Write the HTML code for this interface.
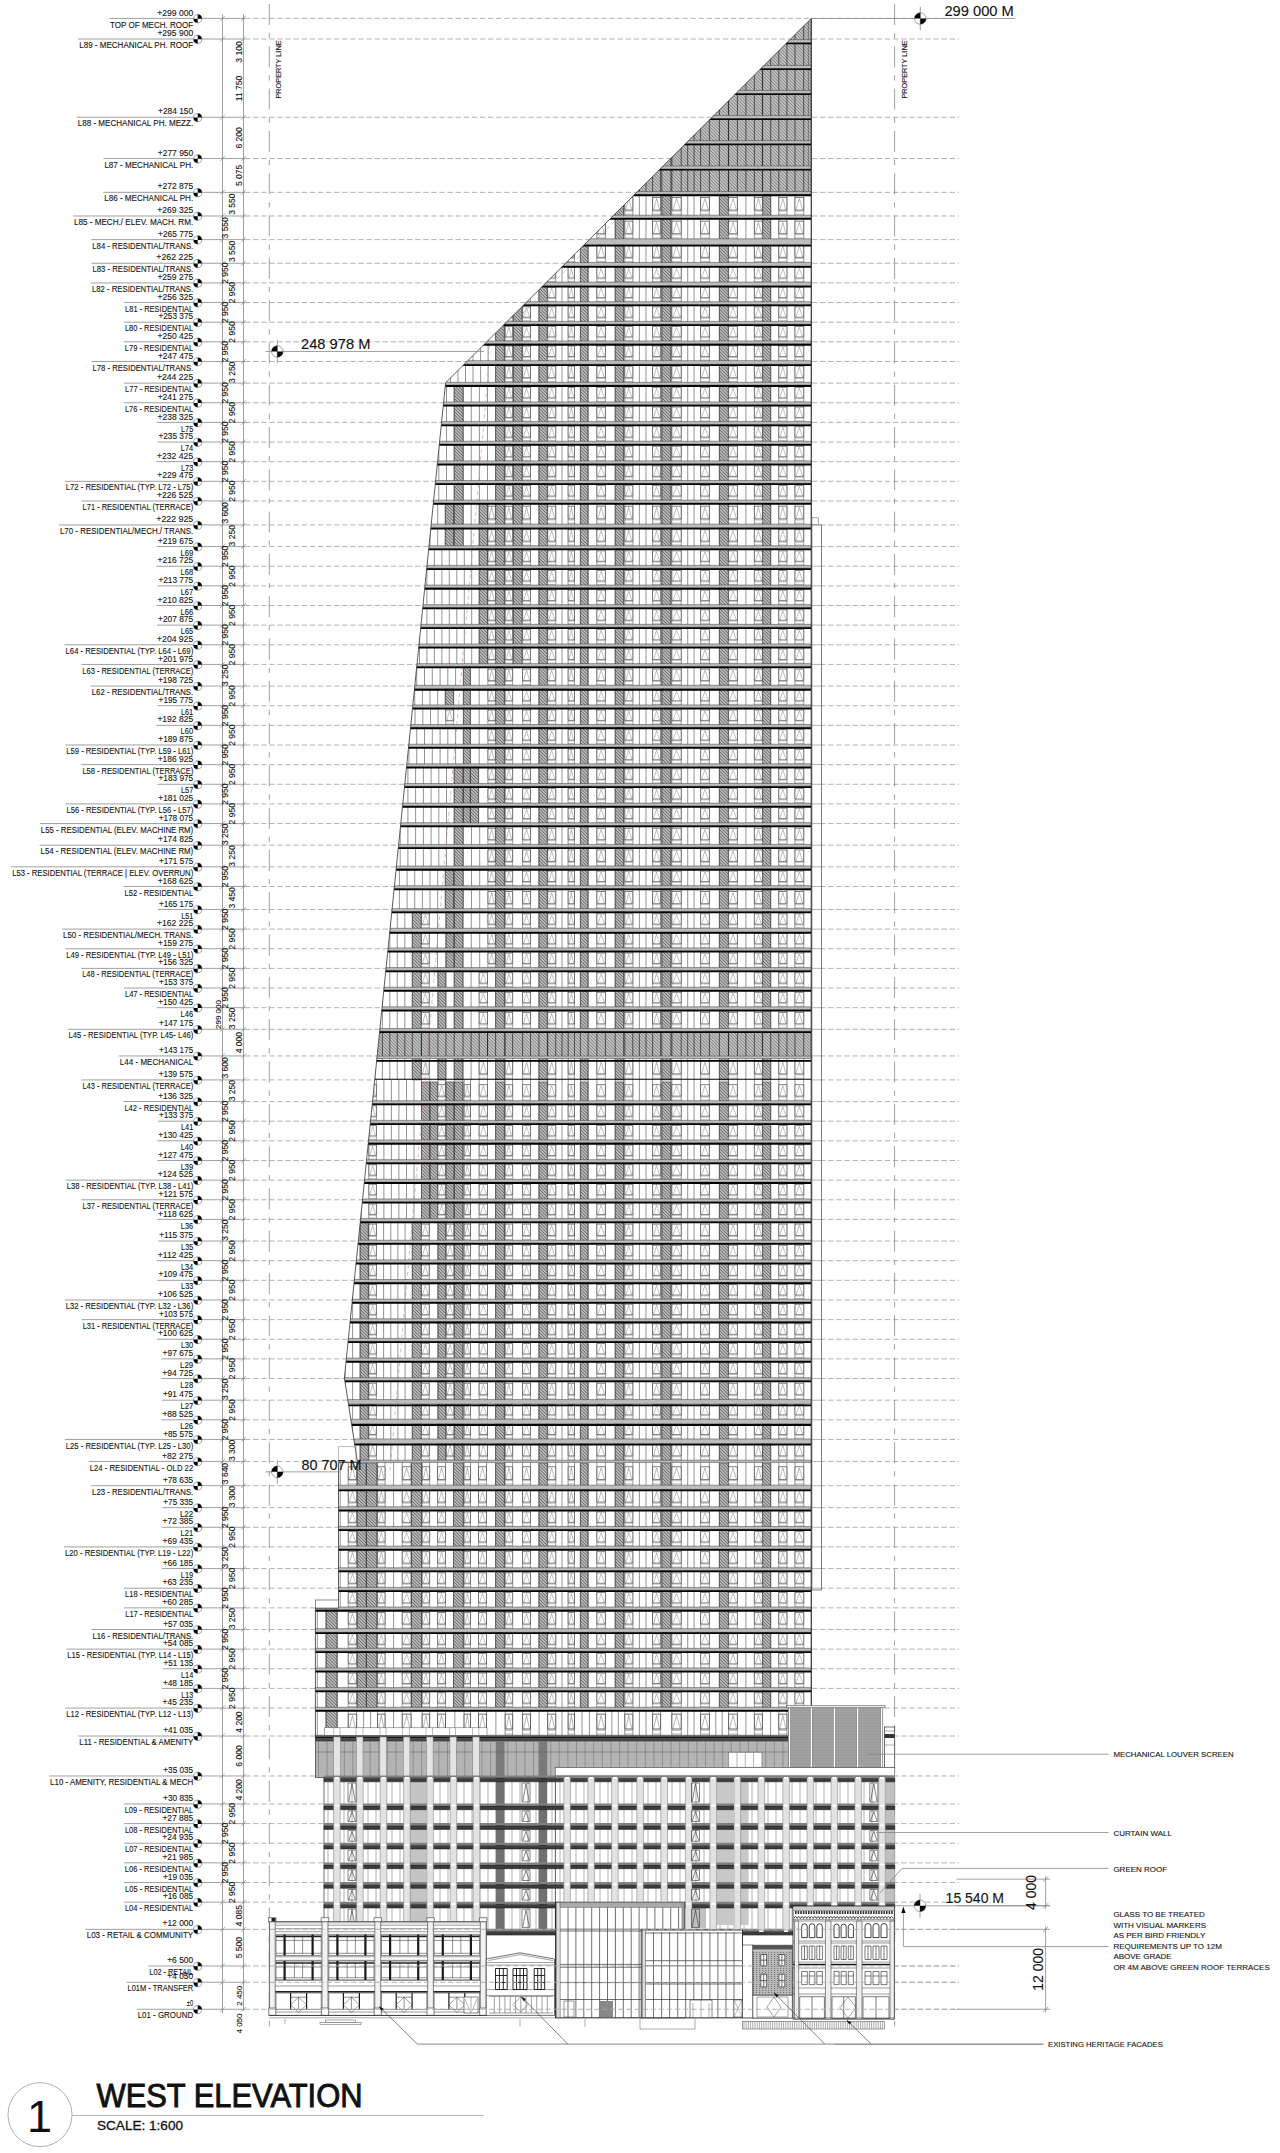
<!DOCTYPE html><html><head><meta charset="utf-8"><title>West Elevation</title><style>
*{margin:0;padding:0}
html,body{width:1280px;height:2153px;background:#fff;overflow:hidden}
svg{display:block}
text{font-family:"Liberation Sans",sans-serif;fill:#111;stroke:#111;stroke-width:0.1px}
.t8{font-size:8px}
.t14{font-size:14px}
.tt{fill:#111;stroke:#111;stroke-width:0.9px}
.r{text-anchor:end}
.m{text-anchor:middle}
.dash{stroke:#aaa;stroke-width:0.9;stroke-dasharray:5.3 2.8}
.lvl{stroke:#888;stroke-width:0.8}
.mk{fill:#fff;stroke:#666;stroke-width:0.6}
.tick{stroke:#777;stroke-width:0.6}
.dl{stroke:#888;stroke-width:0.8}
.pl{stroke:#888;stroke-width:0.8;stroke-dasharray:21 8 5.3 8}
.thin{stroke:#888;stroke-width:0.8}
</style></head><body><svg width="1280" height="2153" viewBox="0 0 1280 2153"><g id="levels">
<line x1="245" y1="18.40" x2="959" y2="18.40" class="dash"/>
<line x1="245" y1="39.04" x2="959" y2="39.04" class="dash"/>
<line x1="245" y1="117.28" x2="959" y2="117.28" class="dash"/>
<line x1="245" y1="158.56" x2="959" y2="158.56" class="dash"/>
<line x1="245" y1="192.35" x2="959" y2="192.35" class="dash"/>
<line x1="245" y1="215.99" x2="959" y2="215.99" class="dash"/>
<line x1="245" y1="239.62" x2="959" y2="239.62" class="dash"/>
<line x1="245" y1="263.26" x2="959" y2="263.26" class="dash"/>
<line x1="245" y1="282.90" x2="959" y2="282.90" class="dash"/>
<line x1="245" y1="302.55" x2="959" y2="302.55" class="dash"/>
<line x1="245" y1="322.19" x2="959" y2="322.19" class="dash"/>
<line x1="245" y1="341.83" x2="959" y2="341.83" class="dash"/>
<line x1="245" y1="361.47" x2="959" y2="361.47" class="dash"/>
<line x1="245" y1="383.11" x2="959" y2="383.11" class="dash"/>
<line x1="245" y1="402.75" x2="959" y2="402.75" class="dash"/>
<line x1="245" y1="422.40" x2="959" y2="422.40" class="dash"/>
<line x1="245" y1="442.04" x2="959" y2="442.04" class="dash"/>
<line x1="245" y1="461.68" x2="959" y2="461.68" class="dash"/>
<line x1="245" y1="481.32" x2="959" y2="481.32" class="dash"/>
<line x1="245" y1="500.96" x2="959" y2="500.96" class="dash"/>
<line x1="245" y1="524.93" x2="959" y2="524.93" class="dash"/>
<line x1="245" y1="546.57" x2="959" y2="546.57" class="dash"/>
<line x1="245" y1="566.22" x2="959" y2="566.22" class="dash"/>
<line x1="245" y1="585.86" x2="959" y2="585.86" class="dash"/>
<line x1="245" y1="605.50" x2="959" y2="605.50" class="dash"/>
<line x1="245" y1="625.14" x2="959" y2="625.14" class="dash"/>
<line x1="245" y1="644.79" x2="959" y2="644.79" class="dash"/>
<line x1="245" y1="664.43" x2="959" y2="664.43" class="dash"/>
<line x1="245" y1="686.07" x2="959" y2="686.07" class="dash"/>
<line x1="245" y1="705.71" x2="959" y2="705.71" class="dash"/>
<line x1="245" y1="725.35" x2="959" y2="725.35" class="dash"/>
<line x1="245" y1="744.99" x2="959" y2="744.99" class="dash"/>
<line x1="245" y1="764.64" x2="959" y2="764.64" class="dash"/>
<line x1="245" y1="784.28" x2="959" y2="784.28" class="dash"/>
<line x1="245" y1="803.92" x2="959" y2="803.92" class="dash"/>
<line x1="245" y1="823.56" x2="959" y2="823.56" class="dash"/>
<line x1="245" y1="845.20" x2="959" y2="845.20" class="dash"/>
<line x1="245" y1="866.84" x2="959" y2="866.84" class="dash"/>
<line x1="245" y1="886.48" x2="959" y2="886.48" class="dash"/>
<line x1="245" y1="909.46" x2="959" y2="909.46" class="dash"/>
<line x1="245" y1="929.10" x2="959" y2="929.10" class="dash"/>
<line x1="245" y1="948.74" x2="959" y2="948.74" class="dash"/>
<line x1="245" y1="968.38" x2="959" y2="968.38" class="dash"/>
<line x1="245" y1="988.02" x2="959" y2="988.02" class="dash"/>
<line x1="245" y1="1007.67" x2="959" y2="1007.67" class="dash"/>
<line x1="245" y1="1029.31" x2="959" y2="1029.31" class="dash"/>
<line x1="245" y1="1055.94" x2="959" y2="1055.94" class="dash"/>
<line x1="245" y1="1079.91" x2="959" y2="1079.91" class="dash"/>
<line x1="245" y1="1101.55" x2="959" y2="1101.55" class="dash"/>
<line x1="245" y1="1121.19" x2="959" y2="1121.19" class="dash"/>
<line x1="245" y1="1140.83" x2="959" y2="1140.83" class="dash"/>
<line x1="245" y1="1160.48" x2="959" y2="1160.48" class="dash"/>
<line x1="245" y1="1180.12" x2="959" y2="1180.12" class="dash"/>
<line x1="245" y1="1199.76" x2="959" y2="1199.76" class="dash"/>
<line x1="245" y1="1219.40" x2="959" y2="1219.40" class="dash"/>
<line x1="245" y1="1241.04" x2="959" y2="1241.04" class="dash"/>
<line x1="245" y1="1260.68" x2="959" y2="1260.68" class="dash"/>
<line x1="245" y1="1280.33" x2="959" y2="1280.33" class="dash"/>
<line x1="245" y1="1299.97" x2="959" y2="1299.97" class="dash"/>
<line x1="245" y1="1319.61" x2="959" y2="1319.61" class="dash"/>
<line x1="245" y1="1339.25" x2="959" y2="1339.25" class="dash"/>
<line x1="245" y1="1358.89" x2="959" y2="1358.89" class="dash"/>
<line x1="245" y1="1378.54" x2="959" y2="1378.54" class="dash"/>
<line x1="245" y1="1400.18" x2="959" y2="1400.18" class="dash"/>
<line x1="245" y1="1419.82" x2="959" y2="1419.82" class="dash"/>
<line x1="245" y1="1439.46" x2="959" y2="1439.46" class="dash"/>
<line x1="245" y1="1461.43" x2="959" y2="1461.43" class="dash"/>
<line x1="245" y1="1485.67" x2="959" y2="1485.67" class="dash"/>
<line x1="245" y1="1507.64" x2="959" y2="1507.64" class="dash"/>
<line x1="245" y1="1527.28" x2="959" y2="1527.28" class="dash"/>
<line x1="245" y1="1546.93" x2="959" y2="1546.93" class="dash"/>
<line x1="245" y1="1568.57" x2="959" y2="1568.57" class="dash"/>
<line x1="245" y1="1588.21" x2="959" y2="1588.21" class="dash"/>
<line x1="245" y1="1607.85" x2="959" y2="1607.85" class="dash"/>
<line x1="245" y1="1629.49" x2="959" y2="1629.49" class="dash"/>
<line x1="245" y1="1649.13" x2="959" y2="1649.13" class="dash"/>
<line x1="245" y1="1668.77" x2="959" y2="1668.77" class="dash"/>
<line x1="245" y1="1688.42" x2="959" y2="1688.42" class="dash"/>
<line x1="245" y1="1708.06" x2="959" y2="1708.06" class="dash"/>
<line x1="245" y1="1736.02" x2="959" y2="1736.02" class="dash"/>
<line x1="245" y1="1775.97" x2="959" y2="1775.97" class="dash"/>
<line x1="245" y1="1803.94" x2="959" y2="1803.94" class="dash"/>
<line x1="245" y1="1823.58" x2="959" y2="1823.58" class="dash"/>
<line x1="245" y1="1843.22" x2="959" y2="1843.22" class="dash"/>
<line x1="245" y1="1862.87" x2="959" y2="1862.87" class="dash"/>
<line x1="245" y1="1882.51" x2="959" y2="1882.51" class="dash"/>
<line x1="245" y1="1902.15" x2="959" y2="1902.15" class="dash"/>
<line x1="245" y1="1929.35" x2="959" y2="1929.35" class="dash"/>
<line x1="245" y1="1965.97" x2="959" y2="1965.97" class="dash"/>
<line x1="245" y1="1982.28" x2="959" y2="1982.28" class="dash"/>
<line x1="245" y1="2009.25" x2="959" y2="2009.25" class="dash"/>
<line x1="109.1" y1="18.40" x2="245" y2="18.40" class="lvl"/>
<text x="193.2" y="15.50" class="t8 r" style="font-size:8.7px" textLength="35.9" lengthAdjust="spacingAndGlyphs">+299 000</text>
<text x="193.2" y="27.50" class="t8 r" style="font-size:8.7px" textLength="83.1" lengthAdjust="spacingAndGlyphs">TOP OF MECH. ROOF</text>
<g transform="translate(197.70,18.70)"><circle r="4.1" class="mk"/><path d="M0,0 L0,-4.1 A4.1,4.1 0 0 1 4.1,0 Z M0,0 L0,4.1 A4.1,4.1 0 0 1 -4.1,0 Z" fill="#000"/></g>
<line x1="220.0" y1="20.90" x2="225.0" y2="15.90" class="tick"/>
<line x1="241.0" y1="20.90" x2="246.0" y2="15.90" class="tick"/>
<line x1="78.2" y1="39.04" x2="245" y2="39.04" class="lvl"/>
<text x="193.2" y="36.14" class="t8 r" style="font-size:8.7px" textLength="35.8" lengthAdjust="spacingAndGlyphs">+295 900</text>
<text x="193.2" y="48.14" class="t8 r" style="font-size:8.7px" textLength="114.0" lengthAdjust="spacingAndGlyphs">L89 - MECHANICAL PH. ROOF</text>
<g transform="translate(197.70,39.34)"><circle r="4.1" class="mk"/><path d="M0,0 L0,-4.1 A4.1,4.1 0 0 1 4.1,0 Z M0,0 L0,4.1 A4.1,4.1 0 0 1 -4.1,0 Z" fill="#000"/></g>
<line x1="220.0" y1="41.54" x2="225.0" y2="36.54" class="tick"/>
<line x1="241.0" y1="41.54" x2="246.0" y2="36.54" class="tick"/>
<line x1="76.7" y1="117.28" x2="245" y2="117.28" class="lvl"/>
<text x="193.2" y="114.38" class="t8 r" style="font-size:8.7px" textLength="35.2" lengthAdjust="spacingAndGlyphs">+284 150</text>
<text x="193.2" y="126.38" class="t8 r" style="font-size:8.7px" textLength="115.5" lengthAdjust="spacingAndGlyphs">L88 - MECHANICAL PH. MEZZ.</text>
<g transform="translate(197.70,117.58)"><circle r="4.1" class="mk"/><path d="M0,0 L0,-4.1 A4.1,4.1 0 0 1 4.1,0 Z M0,0 L0,4.1 A4.1,4.1 0 0 1 -4.1,0 Z" fill="#000"/></g>
<line x1="220.0" y1="119.78" x2="225.0" y2="114.78" class="tick"/>
<line x1="241.0" y1="119.78" x2="246.0" y2="114.78" class="tick"/>
<line x1="103.4" y1="158.56" x2="245" y2="158.56" class="lvl"/>
<text x="193.2" y="155.66" class="t8 r" style="font-size:8.7px" textLength="35.4" lengthAdjust="spacingAndGlyphs">+277 950</text>
<text x="193.2" y="167.66" class="t8 r" style="font-size:8.7px" textLength="88.8" lengthAdjust="spacingAndGlyphs">L87 - MECHANICAL PH.</text>
<g transform="translate(197.70,158.86)"><circle r="4.1" class="mk"/><path d="M0,0 L0,-4.1 A4.1,4.1 0 0 1 4.1,0 Z M0,0 L0,4.1 A4.1,4.1 0 0 1 -4.1,0 Z" fill="#000"/></g>
<line x1="220.0" y1="161.06" x2="225.0" y2="156.06" class="tick"/>
<line x1="241.0" y1="161.06" x2="246.0" y2="156.06" class="tick"/>
<line x1="103.2" y1="192.35" x2="245" y2="192.35" class="lvl"/>
<text x="193.2" y="189.45" class="t8 r" style="font-size:8.7px" textLength="35.7" lengthAdjust="spacingAndGlyphs">+272 875</text>
<text x="193.2" y="201.45" class="t8 r" style="font-size:8.7px" textLength="89.0" lengthAdjust="spacingAndGlyphs">L86 - MECHANICAL PH.</text>
<g transform="translate(197.70,192.65)"><circle r="4.1" class="mk"/><path d="M0,0 L0,-4.1 A4.1,4.1 0 0 1 4.1,0 Z M0,0 L0,4.1 A4.1,4.1 0 0 1 -4.1,0 Z" fill="#000"/></g>
<line x1="220.0" y1="194.85" x2="225.0" y2="189.85" class="tick"/>
<line x1="241.0" y1="194.85" x2="246.0" y2="189.85" class="tick"/>
<line x1="72.9" y1="215.99" x2="245" y2="215.99" class="lvl"/>
<text x="193.2" y="213.09" class="t8 r" style="font-size:8.7px" textLength="36.0" lengthAdjust="spacingAndGlyphs">+269 325</text>
<text x="193.2" y="225.09" class="t8 r" style="font-size:8.7px" textLength="119.3" lengthAdjust="spacingAndGlyphs">L85 - MECH./ ELEV. MACH. RM.</text>
<g transform="translate(197.70,216.29)"><circle r="4.1" class="mk"/><path d="M0,0 L0,-4.1 A4.1,4.1 0 0 1 4.1,0 Z M0,0 L0,4.1 A4.1,4.1 0 0 1 -4.1,0 Z" fill="#000"/></g>
<line x1="220.0" y1="218.49" x2="225.0" y2="213.49" class="tick"/>
<line x1="241.0" y1="218.49" x2="246.0" y2="213.49" class="tick"/>
<line x1="91.3" y1="239.62" x2="245" y2="239.62" class="lvl"/>
<text x="193.2" y="236.72" class="t8 r" style="font-size:8.7px" textLength="35.2" lengthAdjust="spacingAndGlyphs">+265 775</text>
<text x="193.2" y="248.72" class="t8 r" style="font-size:8.7px" textLength="100.9" lengthAdjust="spacingAndGlyphs">L84 - RESIDENTIAL/TRANS.</text>
<g transform="translate(197.70,239.92)"><circle r="4.1" class="mk"/><path d="M0,0 L0,-4.1 A4.1,4.1 0 0 1 4.1,0 Z M0,0 L0,4.1 A4.1,4.1 0 0 1 -4.1,0 Z" fill="#000"/></g>
<line x1="220.0" y1="242.12" x2="225.0" y2="237.12" class="tick"/>
<line x1="241.0" y1="242.12" x2="246.0" y2="237.12" class="tick"/>
<line x1="91.5" y1="263.26" x2="245" y2="263.26" class="lvl"/>
<text x="193.2" y="260.36" class="t8 r" style="font-size:8.7px" textLength="36.9" lengthAdjust="spacingAndGlyphs">+262 225</text>
<text x="193.2" y="272.36" class="t8 r" style="font-size:8.7px" textLength="100.7" lengthAdjust="spacingAndGlyphs">L83 - RESIDENTIAL/TRANS.</text>
<g transform="translate(197.70,263.56)"><circle r="4.1" class="mk"/><path d="M0,0 L0,-4.1 A4.1,4.1 0 0 1 4.1,0 Z M0,0 L0,4.1 A4.1,4.1 0 0 1 -4.1,0 Z" fill="#000"/></g>
<line x1="220.0" y1="265.76" x2="225.0" y2="260.76" class="tick"/>
<line x1="241.0" y1="265.76" x2="246.0" y2="260.76" class="tick"/>
<line x1="90.9" y1="282.90" x2="245" y2="282.90" class="lvl"/>
<text x="193.2" y="280.00" class="t8 r" style="font-size:8.7px" textLength="35.8" lengthAdjust="spacingAndGlyphs">+259 275</text>
<text x="193.2" y="292.00" class="t8 r" style="font-size:8.7px" textLength="101.3" lengthAdjust="spacingAndGlyphs">L82 - RESIDENTIAL/TRANS.</text>
<g transform="translate(197.70,283.20)"><circle r="4.1" class="mk"/><path d="M0,0 L0,-4.1 A4.1,4.1 0 0 1 4.1,0 Z M0,0 L0,4.1 A4.1,4.1 0 0 1 -4.1,0 Z" fill="#000"/></g>
<line x1="220.0" y1="285.40" x2="225.0" y2="280.40" class="tick"/>
<line x1="241.0" y1="285.40" x2="246.0" y2="280.40" class="tick"/>
<line x1="124.1" y1="302.55" x2="245" y2="302.55" class="lvl"/>
<text x="193.2" y="299.65" class="t8 r" style="font-size:8.7px" textLength="35.7" lengthAdjust="spacingAndGlyphs">+256 325</text>
<text x="193.2" y="311.65" class="t8 r" style="font-size:8.7px" textLength="68.1" lengthAdjust="spacingAndGlyphs">L81 - RESIDENTIAL</text>
<g transform="translate(197.70,302.85)"><circle r="4.1" class="mk"/><path d="M0,0 L0,-4.1 A4.1,4.1 0 0 1 4.1,0 Z M0,0 L0,4.1 A4.1,4.1 0 0 1 -4.1,0 Z" fill="#000"/></g>
<line x1="220.0" y1="305.05" x2="225.0" y2="300.05" class="tick"/>
<line x1="241.0" y1="305.05" x2="246.0" y2="300.05" class="tick"/>
<line x1="123.9" y1="322.19" x2="245" y2="322.19" class="lvl"/>
<text x="193.2" y="319.29" class="t8 r" style="font-size:8.7px" textLength="34.8" lengthAdjust="spacingAndGlyphs">+253 375</text>
<text x="193.2" y="331.29" class="t8 r" style="font-size:8.7px" textLength="68.3" lengthAdjust="spacingAndGlyphs">L80 - RESIDENTIAL</text>
<g transform="translate(197.70,322.49)"><circle r="4.1" class="mk"/><path d="M0,0 L0,-4.1 A4.1,4.1 0 0 1 4.1,0 Z M0,0 L0,4.1 A4.1,4.1 0 0 1 -4.1,0 Z" fill="#000"/></g>
<line x1="220.0" y1="324.69" x2="225.0" y2="319.69" class="tick"/>
<line x1="241.0" y1="324.69" x2="246.0" y2="319.69" class="tick"/>
<line x1="123.8" y1="341.83" x2="245" y2="341.83" class="lvl"/>
<text x="193.2" y="338.93" class="t8 r" style="font-size:8.7px" textLength="35.7" lengthAdjust="spacingAndGlyphs">+250 425</text>
<text x="193.2" y="350.93" class="t8 r" style="font-size:8.7px" textLength="68.4" lengthAdjust="spacingAndGlyphs">L79 - RESIDENTIAL</text>
<g transform="translate(197.70,342.13)"><circle r="4.1" class="mk"/><path d="M0,0 L0,-4.1 A4.1,4.1 0 0 1 4.1,0 Z M0,0 L0,4.1 A4.1,4.1 0 0 1 -4.1,0 Z" fill="#000"/></g>
<line x1="220.0" y1="344.33" x2="225.0" y2="339.33" class="tick"/>
<line x1="241.0" y1="344.33" x2="246.0" y2="339.33" class="tick"/>
<line x1="91.4" y1="361.47" x2="245" y2="361.47" class="lvl"/>
<text x="193.2" y="358.57" class="t8 r" style="font-size:8.7px" textLength="35.3" lengthAdjust="spacingAndGlyphs">+247 475</text>
<text x="193.2" y="370.57" class="t8 r" style="font-size:8.7px" textLength="100.8" lengthAdjust="spacingAndGlyphs">L78 - RESIDENTIAL/TRANS.</text>
<g transform="translate(197.70,361.77)"><circle r="4.1" class="mk"/><path d="M0,0 L0,-4.1 A4.1,4.1 0 0 1 4.1,0 Z M0,0 L0,4.1 A4.1,4.1 0 0 1 -4.1,0 Z" fill="#000"/></g>
<line x1="220.0" y1="363.97" x2="225.0" y2="358.97" class="tick"/>
<line x1="241.0" y1="363.97" x2="246.0" y2="358.97" class="tick"/>
<line x1="124.1" y1="383.11" x2="245" y2="383.11" class="lvl"/>
<text x="193.2" y="380.21" class="t8 r" style="font-size:8.7px" textLength="36.3" lengthAdjust="spacingAndGlyphs">+244 225</text>
<text x="193.2" y="392.21" class="t8 r" style="font-size:8.7px" textLength="68.1" lengthAdjust="spacingAndGlyphs">L77 - RESIDENTIAL</text>
<g transform="translate(197.70,383.41)"><circle r="4.1" class="mk"/><path d="M0,0 L0,-4.1 A4.1,4.1 0 0 1 4.1,0 Z M0,0 L0,4.1 A4.1,4.1 0 0 1 -4.1,0 Z" fill="#000"/></g>
<line x1="220.0" y1="385.61" x2="225.0" y2="380.61" class="tick"/>
<line x1="241.0" y1="385.61" x2="246.0" y2="380.61" class="tick"/>
<line x1="123.9" y1="402.75" x2="245" y2="402.75" class="lvl"/>
<text x="193.2" y="399.85" class="t8 r" style="font-size:8.7px" textLength="35.5" lengthAdjust="spacingAndGlyphs">+241 275</text>
<text x="193.2" y="411.85" class="t8 r" style="font-size:8.7px" textLength="68.3" lengthAdjust="spacingAndGlyphs">L76 - RESIDENTIAL</text>
<g transform="translate(197.70,403.05)"><circle r="4.1" class="mk"/><path d="M0,0 L0,-4.1 A4.1,4.1 0 0 1 4.1,0 Z M0,0 L0,4.1 A4.1,4.1 0 0 1 -4.1,0 Z" fill="#000"/></g>
<line x1="220.0" y1="405.25" x2="225.0" y2="400.25" class="tick"/>
<line x1="241.0" y1="405.25" x2="246.0" y2="400.25" class="tick"/>
<line x1="156.6" y1="422.40" x2="245" y2="422.40" class="lvl"/>
<text x="193.2" y="419.50" class="t8 r" style="font-size:8.7px" textLength="35.6" lengthAdjust="spacingAndGlyphs">+238 325</text>
<text x="193.2" y="431.50" class="t8 r" style="font-size:8.7px" textLength="12.2" lengthAdjust="spacingAndGlyphs">L75</text>
<g transform="translate(197.70,422.70)"><circle r="4.1" class="mk"/><path d="M0,0 L0,-4.1 A4.1,4.1 0 0 1 4.1,0 Z M0,0 L0,4.1 A4.1,4.1 0 0 1 -4.1,0 Z" fill="#000"/></g>
<line x1="220.0" y1="424.90" x2="225.0" y2="419.90" class="tick"/>
<line x1="241.0" y1="424.90" x2="246.0" y2="419.90" class="tick"/>
<line x1="157.4" y1="442.04" x2="245" y2="442.04" class="lvl"/>
<text x="193.2" y="439.14" class="t8 r" style="font-size:8.7px" textLength="34.8" lengthAdjust="spacingAndGlyphs">+235 375</text>
<text x="193.2" y="451.14" class="t8 r" style="font-size:8.7px" textLength="12.4" lengthAdjust="spacingAndGlyphs">L74</text>
<g transform="translate(197.70,442.34)"><circle r="4.1" class="mk"/><path d="M0,0 L0,-4.1 A4.1,4.1 0 0 1 4.1,0 Z M0,0 L0,4.1 A4.1,4.1 0 0 1 -4.1,0 Z" fill="#000"/></g>
<line x1="220.0" y1="444.54" x2="225.0" y2="439.54" class="tick"/>
<line x1="241.0" y1="444.54" x2="246.0" y2="439.54" class="tick"/>
<line x1="156.0" y1="461.68" x2="245" y2="461.68" class="lvl"/>
<text x="193.2" y="458.78" class="t8 r" style="font-size:8.7px" textLength="36.2" lengthAdjust="spacingAndGlyphs">+232 425</text>
<text x="193.2" y="470.78" class="t8 r" style="font-size:8.7px" textLength="12.2" lengthAdjust="spacingAndGlyphs">L73</text>
<g transform="translate(197.70,461.98)"><circle r="4.1" class="mk"/><path d="M0,0 L0,-4.1 A4.1,4.1 0 0 1 4.1,0 Z M0,0 L0,4.1 A4.1,4.1 0 0 1 -4.1,0 Z" fill="#000"/></g>
<line x1="220.0" y1="464.18" x2="225.0" y2="459.18" class="tick"/>
<line x1="241.0" y1="464.18" x2="246.0" y2="459.18" class="tick"/>
<line x1="64.8" y1="481.32" x2="245" y2="481.32" class="lvl"/>
<text x="193.2" y="478.42" class="t8 r" style="font-size:8.7px" textLength="36.0" lengthAdjust="spacingAndGlyphs">+229 475</text>
<text x="193.2" y="490.42" class="t8 r" style="font-size:8.7px" textLength="127.4" lengthAdjust="spacingAndGlyphs">L72 - RESIDENTIAL (TYP. L72 - L75)</text>
<g transform="translate(197.70,481.62)"><circle r="4.1" class="mk"/><path d="M0,0 L0,-4.1 A4.1,4.1 0 0 1 4.1,0 Z M0,0 L0,4.1 A4.1,4.1 0 0 1 -4.1,0 Z" fill="#000"/></g>
<line x1="220.0" y1="483.82" x2="225.0" y2="478.82" class="tick"/>
<line x1="241.0" y1="483.82" x2="246.0" y2="478.82" class="tick"/>
<line x1="81.6" y1="500.96" x2="245" y2="500.96" class="lvl"/>
<text x="193.2" y="498.06" class="t8 r" style="font-size:8.7px" textLength="36.3" lengthAdjust="spacingAndGlyphs">+226 525</text>
<text x="193.2" y="510.06" class="t8 r" style="font-size:8.7px" textLength="110.6" lengthAdjust="spacingAndGlyphs">L71 - RESIDENTIAL (TERRACE)</text>
<g transform="translate(197.70,501.26)"><circle r="4.1" class="mk"/><path d="M0,0 L0,-4.1 A4.1,4.1 0 0 1 4.1,0 Z M0,0 L0,4.1 A4.1,4.1 0 0 1 -4.1,0 Z" fill="#000"/></g>
<line x1="220.0" y1="503.46" x2="225.0" y2="498.46" class="tick"/>
<line x1="241.0" y1="503.46" x2="246.0" y2="498.46" class="tick"/>
<line x1="58.9" y1="524.93" x2="245" y2="524.93" class="lvl"/>
<text x="193.2" y="522.03" class="t8 r" style="font-size:8.7px" textLength="36.9" lengthAdjust="spacingAndGlyphs">+222 925</text>
<text x="193.2" y="534.03" class="t8 r" style="font-size:8.7px" textLength="133.3" lengthAdjust="spacingAndGlyphs">L70 - RESIDENTIAL/MECH./ TRANS.</text>
<g transform="translate(197.70,525.23)"><circle r="4.1" class="mk"/><path d="M0,0 L0,-4.1 A4.1,4.1 0 0 1 4.1,0 Z M0,0 L0,4.1 A4.1,4.1 0 0 1 -4.1,0 Z" fill="#000"/></g>
<line x1="220.0" y1="527.43" x2="225.0" y2="522.43" class="tick"/>
<line x1="241.0" y1="527.43" x2="246.0" y2="522.43" class="tick"/>
<line x1="156.8" y1="546.57" x2="245" y2="546.57" class="lvl"/>
<text x="193.2" y="543.67" class="t8 r" style="font-size:8.7px" textLength="35.4" lengthAdjust="spacingAndGlyphs">+219 675</text>
<text x="193.2" y="555.67" class="t8 r" style="font-size:8.7px" textLength="12.8" lengthAdjust="spacingAndGlyphs">L69</text>
<g transform="translate(197.70,546.87)"><circle r="4.1" class="mk"/><path d="M0,0 L0,-4.1 A4.1,4.1 0 0 1 4.1,0 Z M0,0 L0,4.1 A4.1,4.1 0 0 1 -4.1,0 Z" fill="#000"/></g>
<line x1="220.0" y1="549.07" x2="225.0" y2="544.07" class="tick"/>
<line x1="241.0" y1="549.07" x2="246.0" y2="544.07" class="tick"/>
<line x1="156.6" y1="566.22" x2="245" y2="566.22" class="lvl"/>
<text x="193.2" y="563.32" class="t8 r" style="font-size:8.7px" textLength="35.6" lengthAdjust="spacingAndGlyphs">+216 725</text>
<text x="193.2" y="575.32" class="t8 r" style="font-size:8.7px" textLength="12.6" lengthAdjust="spacingAndGlyphs">L68</text>
<g transform="translate(197.70,566.52)"><circle r="4.1" class="mk"/><path d="M0,0 L0,-4.1 A4.1,4.1 0 0 1 4.1,0 Z M0,0 L0,4.1 A4.1,4.1 0 0 1 -4.1,0 Z" fill="#000"/></g>
<line x1="220.0" y1="568.72" x2="225.0" y2="563.72" class="tick"/>
<line x1="241.0" y1="568.72" x2="246.0" y2="563.72" class="tick"/>
<line x1="157.4" y1="585.86" x2="245" y2="585.86" class="lvl"/>
<text x="193.2" y="582.96" class="t8 r" style="font-size:8.7px" textLength="34.8" lengthAdjust="spacingAndGlyphs">+213 775</text>
<text x="193.2" y="594.96" class="t8 r" style="font-size:8.7px" textLength="12.5" lengthAdjust="spacingAndGlyphs">L67</text>
<g transform="translate(197.70,586.16)"><circle r="4.1" class="mk"/><path d="M0,0 L0,-4.1 A4.1,4.1 0 0 1 4.1,0 Z M0,0 L0,4.1 A4.1,4.1 0 0 1 -4.1,0 Z" fill="#000"/></g>
<line x1="220.0" y1="588.36" x2="225.0" y2="583.36" class="tick"/>
<line x1="241.0" y1="588.36" x2="246.0" y2="583.36" class="tick"/>
<line x1="156.6" y1="605.50" x2="245" y2="605.50" class="lvl"/>
<text x="193.2" y="602.60" class="t8 r" style="font-size:8.7px" textLength="35.6" lengthAdjust="spacingAndGlyphs">+210 825</text>
<text x="193.2" y="614.60" class="t8 r" style="font-size:8.7px" textLength="12.7" lengthAdjust="spacingAndGlyphs">L66</text>
<g transform="translate(197.70,605.80)"><circle r="4.1" class="mk"/><path d="M0,0 L0,-4.1 A4.1,4.1 0 0 1 4.1,0 Z M0,0 L0,4.1 A4.1,4.1 0 0 1 -4.1,0 Z" fill="#000"/></g>
<line x1="220.0" y1="608.00" x2="225.0" y2="603.00" class="tick"/>
<line x1="241.0" y1="608.00" x2="246.0" y2="603.00" class="tick"/>
<line x1="157.0" y1="625.14" x2="245" y2="625.14" class="lvl"/>
<text x="193.2" y="622.24" class="t8 r" style="font-size:8.7px" textLength="35.2" lengthAdjust="spacingAndGlyphs">+207 875</text>
<text x="193.2" y="634.24" class="t8 r" style="font-size:8.7px" textLength="12.4" lengthAdjust="spacingAndGlyphs">L65</text>
<g transform="translate(197.70,625.44)"><circle r="4.1" class="mk"/><path d="M0,0 L0,-4.1 A4.1,4.1 0 0 1 4.1,0 Z M0,0 L0,4.1 A4.1,4.1 0 0 1 -4.1,0 Z" fill="#000"/></g>
<line x1="220.0" y1="627.64" x2="225.0" y2="622.64" class="tick"/>
<line x1="241.0" y1="627.64" x2="246.0" y2="622.64" class="tick"/>
<line x1="64.6" y1="644.79" x2="245" y2="644.79" class="lvl"/>
<text x="193.2" y="641.89" class="t8 r" style="font-size:8.7px" textLength="36.1" lengthAdjust="spacingAndGlyphs">+204 925</text>
<text x="193.2" y="653.89" class="t8 r" style="font-size:8.7px" textLength="127.6" lengthAdjust="spacingAndGlyphs">L64 - RESIDENTIAL (TYP. L64 - L69)</text>
<g transform="translate(197.70,645.09)"><circle r="4.1" class="mk"/><path d="M0,0 L0,-4.1 A4.1,4.1 0 0 1 4.1,0 Z M0,0 L0,4.1 A4.1,4.1 0 0 1 -4.1,0 Z" fill="#000"/></g>
<line x1="220.0" y1="647.29" x2="225.0" y2="642.29" class="tick"/>
<line x1="241.0" y1="647.29" x2="246.0" y2="642.29" class="tick"/>
<line x1="81.3" y1="664.43" x2="245" y2="664.43" class="lvl"/>
<text x="193.2" y="661.53" class="t8 r" style="font-size:8.7px" textLength="35.2" lengthAdjust="spacingAndGlyphs">+201 975</text>
<text x="193.2" y="673.53" class="t8 r" style="font-size:8.7px" textLength="110.9" lengthAdjust="spacingAndGlyphs">L63 - RESIDENTIAL (TERRACE)</text>
<g transform="translate(197.70,664.73)"><circle r="4.1" class="mk"/><path d="M0,0 L0,-4.1 A4.1,4.1 0 0 1 4.1,0 Z M0,0 L0,4.1 A4.1,4.1 0 0 1 -4.1,0 Z" fill="#000"/></g>
<line x1="220.0" y1="666.93" x2="225.0" y2="661.93" class="tick"/>
<line x1="241.0" y1="666.93" x2="246.0" y2="661.93" class="tick"/>
<line x1="90.8" y1="686.07" x2="245" y2="686.07" class="lvl"/>
<text x="193.2" y="683.17" class="t8 r" style="font-size:8.7px" textLength="35.3" lengthAdjust="spacingAndGlyphs">+198 725</text>
<text x="193.2" y="695.17" class="t8 r" style="font-size:8.7px" textLength="101.4" lengthAdjust="spacingAndGlyphs">L62 - RESIDENTIAL/TRANS.</text>
<g transform="translate(197.70,686.37)"><circle r="4.1" class="mk"/><path d="M0,0 L0,-4.1 A4.1,4.1 0 0 1 4.1,0 Z M0,0 L0,4.1 A4.1,4.1 0 0 1 -4.1,0 Z" fill="#000"/></g>
<line x1="220.0" y1="688.57" x2="225.0" y2="683.57" class="tick"/>
<line x1="241.0" y1="688.57" x2="246.0" y2="683.57" class="tick"/>
<line x1="157.6" y1="705.71" x2="245" y2="705.71" class="lvl"/>
<text x="193.2" y="702.81" class="t8 r" style="font-size:8.7px" textLength="34.6" lengthAdjust="spacingAndGlyphs">+195 775</text>
<text x="193.2" y="714.81" class="t8 r" style="font-size:8.7px" textLength="12.3" lengthAdjust="spacingAndGlyphs">L61</text>
<g transform="translate(197.70,706.01)"><circle r="4.1" class="mk"/><path d="M0,0 L0,-4.1 A4.1,4.1 0 0 1 4.1,0 Z M0,0 L0,4.1 A4.1,4.1 0 0 1 -4.1,0 Z" fill="#000"/></g>
<line x1="220.0" y1="708.21" x2="225.0" y2="703.21" class="tick"/>
<line x1="241.0" y1="708.21" x2="246.0" y2="703.21" class="tick"/>
<line x1="156.4" y1="725.35" x2="245" y2="725.35" class="lvl"/>
<text x="193.2" y="722.45" class="t8 r" style="font-size:8.7px" textLength="35.8" lengthAdjust="spacingAndGlyphs">+192 825</text>
<text x="193.2" y="734.45" class="t8 r" style="font-size:8.7px" textLength="12.6" lengthAdjust="spacingAndGlyphs">L60</text>
<g transform="translate(197.70,725.65)"><circle r="4.1" class="mk"/><path d="M0,0 L0,-4.1 A4.1,4.1 0 0 1 4.1,0 Z M0,0 L0,4.1 A4.1,4.1 0 0 1 -4.1,0 Z" fill="#000"/></g>
<line x1="220.0" y1="727.85" x2="225.0" y2="722.85" class="tick"/>
<line x1="241.0" y1="727.85" x2="246.0" y2="722.85" class="tick"/>
<line x1="65.3" y1="744.99" x2="245" y2="744.99" class="lvl"/>
<text x="193.2" y="742.09" class="t8 r" style="font-size:8.7px" textLength="34.9" lengthAdjust="spacingAndGlyphs">+189 875</text>
<text x="193.2" y="754.09" class="t8 r" style="font-size:8.7px" textLength="126.9" lengthAdjust="spacingAndGlyphs">L59 - RESIDENTIAL (TYP. L59 - L61)</text>
<g transform="translate(197.70,745.29)"><circle r="4.1" class="mk"/><path d="M0,0 L0,-4.1 A4.1,4.1 0 0 1 4.1,0 Z M0,0 L0,4.1 A4.1,4.1 0 0 1 -4.1,0 Z" fill="#000"/></g>
<line x1="220.0" y1="747.49" x2="225.0" y2="742.49" class="tick"/>
<line x1="241.0" y1="747.49" x2="246.0" y2="742.49" class="tick"/>
<line x1="81.4" y1="764.64" x2="245" y2="764.64" class="lvl"/>
<text x="193.2" y="761.74" class="t8 r" style="font-size:8.7px" textLength="35.5" lengthAdjust="spacingAndGlyphs">+186 925</text>
<text x="193.2" y="773.74" class="t8 r" style="font-size:8.7px" textLength="110.8" lengthAdjust="spacingAndGlyphs">L58 - RESIDENTIAL (TERRACE)</text>
<g transform="translate(197.70,764.94)"><circle r="4.1" class="mk"/><path d="M0,0 L0,-4.1 A4.1,4.1 0 0 1 4.1,0 Z M0,0 L0,4.1 A4.1,4.1 0 0 1 -4.1,0 Z" fill="#000"/></g>
<line x1="220.0" y1="767.14" x2="225.0" y2="762.14" class="tick"/>
<line x1="241.0" y1="767.14" x2="246.0" y2="762.14" class="tick"/>
<line x1="157.5" y1="784.28" x2="245" y2="784.28" class="lvl"/>
<text x="193.2" y="781.38" class="t8 r" style="font-size:8.7px" textLength="34.7" lengthAdjust="spacingAndGlyphs">+183 975</text>
<text x="193.2" y="793.38" class="t8 r" style="font-size:8.7px" textLength="12.2" lengthAdjust="spacingAndGlyphs">L57</text>
<g transform="translate(197.70,784.58)"><circle r="4.1" class="mk"/><path d="M0,0 L0,-4.1 A4.1,4.1 0 0 1 4.1,0 Z M0,0 L0,4.1 A4.1,4.1 0 0 1 -4.1,0 Z" fill="#000"/></g>
<line x1="220.0" y1="786.78" x2="225.0" y2="781.78" class="tick"/>
<line x1="241.0" y1="786.78" x2="246.0" y2="781.78" class="tick"/>
<line x1="65.5" y1="803.92" x2="245" y2="803.92" class="lvl"/>
<text x="193.2" y="801.02" class="t8 r" style="font-size:8.7px" textLength="34.9" lengthAdjust="spacingAndGlyphs">+181 025</text>
<text x="193.2" y="813.02" class="t8 r" style="font-size:8.7px" textLength="126.7" lengthAdjust="spacingAndGlyphs">L56 - RESIDENTIAL (TYP. L56 - L57)</text>
<g transform="translate(197.70,804.22)"><circle r="4.1" class="mk"/><path d="M0,0 L0,-4.1 A4.1,4.1 0 0 1 4.1,0 Z M0,0 L0,4.1 A4.1,4.1 0 0 1 -4.1,0 Z" fill="#000"/></g>
<line x1="220.0" y1="806.42" x2="225.0" y2="801.42" class="tick"/>
<line x1="241.0" y1="806.42" x2="246.0" y2="801.42" class="tick"/>
<line x1="39.8" y1="823.56" x2="245" y2="823.56" class="lvl"/>
<text x="193.2" y="820.66" class="t8 r" style="font-size:8.7px" textLength="34.5" lengthAdjust="spacingAndGlyphs">+178 075</text>
<text x="193.2" y="832.66" class="t8 r" style="font-size:8.7px" textLength="152.4" lengthAdjust="spacingAndGlyphs">L55 - RESIDENTIAL (ELEV. MACHINE RM)</text>
<g transform="translate(197.70,823.86)"><circle r="4.1" class="mk"/><path d="M0,0 L0,-4.1 A4.1,4.1 0 0 1 4.1,0 Z M0,0 L0,4.1 A4.1,4.1 0 0 1 -4.1,0 Z" fill="#000"/></g>
<line x1="220.0" y1="826.06" x2="225.0" y2="821.06" class="tick"/>
<line x1="241.0" y1="826.06" x2="246.0" y2="821.06" class="tick"/>
<line x1="39.6" y1="845.20" x2="245" y2="845.20" class="lvl"/>
<text x="193.2" y="842.30" class="t8 r" style="font-size:8.7px" textLength="35.1" lengthAdjust="spacingAndGlyphs">+174 825</text>
<text x="193.2" y="854.30" class="t8 r" style="font-size:8.7px" textLength="152.6" lengthAdjust="spacingAndGlyphs">L54 - RESIDENTIAL (ELEV. MACHINE RM)</text>
<g transform="translate(197.70,845.50)"><circle r="4.1" class="mk"/><path d="M0,0 L0,-4.1 A4.1,4.1 0 0 1 4.1,0 Z M0,0 L0,4.1 A4.1,4.1 0 0 1 -4.1,0 Z" fill="#000"/></g>
<line x1="220.0" y1="847.70" x2="225.0" y2="842.70" class="tick"/>
<line x1="241.0" y1="847.70" x2="246.0" y2="842.70" class="tick"/>
<line x1="11.2" y1="866.84" x2="245" y2="866.84" class="lvl"/>
<text x="193.2" y="863.94" class="t8 r" style="font-size:8.7px" textLength="34.1" lengthAdjust="spacingAndGlyphs">+171 575</text>
<text x="193.2" y="875.94" class="t8 r" style="font-size:8.7px" textLength="181.0" lengthAdjust="spacingAndGlyphs">L53 - RESIDENTIAL (TERRACE | ELEV. OVERRUN)</text>
<g transform="translate(197.70,867.14)"><circle r="4.1" class="mk"/><path d="M0,0 L0,-4.1 A4.1,4.1 0 0 1 4.1,0 Z M0,0 L0,4.1 A4.1,4.1 0 0 1 -4.1,0 Z" fill="#000"/></g>
<line x1="220.0" y1="869.34" x2="225.0" y2="864.34" class="tick"/>
<line x1="241.0" y1="869.34" x2="246.0" y2="864.34" class="tick"/>
<line x1="123.6" y1="886.48" x2="245" y2="886.48" class="lvl"/>
<text x="193.2" y="883.58" class="t8 r" style="font-size:8.7px" textLength="35.5" lengthAdjust="spacingAndGlyphs">+168 625</text>
<text x="193.2" y="895.58" class="t8 r" style="font-size:8.7px" textLength="68.6" lengthAdjust="spacingAndGlyphs">L52 - RESIDENTIAL</text>
<g transform="translate(197.70,886.78)"><circle r="4.1" class="mk"/><path d="M0,0 L0,-4.1 A4.1,4.1 0 0 1 4.1,0 Z M0,0 L0,4.1 A4.1,4.1 0 0 1 -4.1,0 Z" fill="#000"/></g>
<line x1="220.0" y1="888.98" x2="225.0" y2="883.98" class="tick"/>
<line x1="241.0" y1="888.98" x2="246.0" y2="883.98" class="tick"/>
<line x1="157.9" y1="909.46" x2="245" y2="909.46" class="lvl"/>
<text x="193.2" y="906.56" class="t8 r" style="font-size:8.7px" textLength="34.3" lengthAdjust="spacingAndGlyphs">+165 175</text>
<text x="193.2" y="918.56" class="t8 r" style="font-size:8.7px" textLength="12.0" lengthAdjust="spacingAndGlyphs">L51</text>
<g transform="translate(197.70,909.76)"><circle r="4.1" class="mk"/><path d="M0,0 L0,-4.1 A4.1,4.1 0 0 1 4.1,0 Z M0,0 L0,4.1 A4.1,4.1 0 0 1 -4.1,0 Z" fill="#000"/></g>
<line x1="220.0" y1="911.96" x2="225.0" y2="906.96" class="tick"/>
<line x1="241.0" y1="911.96" x2="246.0" y2="906.96" class="tick"/>
<line x1="62.1" y1="929.10" x2="245" y2="929.10" class="lvl"/>
<text x="193.2" y="926.20" class="t8 r" style="font-size:8.7px" textLength="36.2" lengthAdjust="spacingAndGlyphs">+162 225</text>
<text x="193.2" y="938.20" class="t8 r" style="font-size:8.7px" textLength="130.1" lengthAdjust="spacingAndGlyphs">L50 - RESIDENTIAL/MECH. TRANS.</text>
<g transform="translate(197.70,929.40)"><circle r="4.1" class="mk"/><path d="M0,0 L0,-4.1 A4.1,4.1 0 0 1 4.1,0 Z M0,0 L0,4.1 A4.1,4.1 0 0 1 -4.1,0 Z" fill="#000"/></g>
<line x1="220.0" y1="931.60" x2="225.0" y2="926.60" class="tick"/>
<line x1="241.0" y1="931.60" x2="246.0" y2="926.60" class="tick"/>
<line x1="65.2" y1="948.74" x2="245" y2="948.74" class="lvl"/>
<text x="193.2" y="945.84" class="t8 r" style="font-size:8.7px" textLength="35.1" lengthAdjust="spacingAndGlyphs">+159 275</text>
<text x="193.2" y="957.84" class="t8 r" style="font-size:8.7px" textLength="127.0" lengthAdjust="spacingAndGlyphs">L49 - RESIDENTIAL (TYP. L49 - L51)</text>
<g transform="translate(197.70,949.04)"><circle r="4.1" class="mk"/><path d="M0,0 L0,-4.1 A4.1,4.1 0 0 1 4.1,0 Z M0,0 L0,4.1 A4.1,4.1 0 0 1 -4.1,0 Z" fill="#000"/></g>
<line x1="220.0" y1="951.24" x2="225.0" y2="946.24" class="tick"/>
<line x1="241.0" y1="951.24" x2="246.0" y2="946.24" class="tick"/>
<line x1="81.2" y1="968.38" x2="245" y2="968.38" class="lvl"/>
<text x="193.2" y="965.48" class="t8 r" style="font-size:8.7px" textLength="35.0" lengthAdjust="spacingAndGlyphs">+156 325</text>
<text x="193.2" y="977.48" class="t8 r" style="font-size:8.7px" textLength="111.0" lengthAdjust="spacingAndGlyphs">L48 - RESIDENTIAL (TERRACE)</text>
<g transform="translate(197.70,968.68)"><circle r="4.1" class="mk"/><path d="M0,0 L0,-4.1 A4.1,4.1 0 0 1 4.1,0 Z M0,0 L0,4.1 A4.1,4.1 0 0 1 -4.1,0 Z" fill="#000"/></g>
<line x1="220.0" y1="970.88" x2="225.0" y2="965.88" class="tick"/>
<line x1="241.0" y1="970.88" x2="246.0" y2="965.88" class="tick"/>
<line x1="124.0" y1="988.02" x2="245" y2="988.02" class="lvl"/>
<text x="193.2" y="985.12" class="t8 r" style="font-size:8.7px" textLength="34.1" lengthAdjust="spacingAndGlyphs">+153 375</text>
<text x="193.2" y="997.12" class="t8 r" style="font-size:8.7px" textLength="68.2" lengthAdjust="spacingAndGlyphs">L47 - RESIDENTIAL</text>
<g transform="translate(197.70,988.32)"><circle r="4.1" class="mk"/><path d="M0,0 L0,-4.1 A4.1,4.1 0 0 1 4.1,0 Z M0,0 L0,4.1 A4.1,4.1 0 0 1 -4.1,0 Z" fill="#000"/></g>
<line x1="220.0" y1="990.52" x2="225.0" y2="985.52" class="tick"/>
<line x1="241.0" y1="990.52" x2="246.0" y2="985.52" class="tick"/>
<line x1="157.2" y1="1007.67" x2="245" y2="1007.67" class="lvl"/>
<text x="193.2" y="1004.77" class="t8 r" style="font-size:8.7px" textLength="35.0" lengthAdjust="spacingAndGlyphs">+150 425</text>
<text x="193.2" y="1016.77" class="t8 r" style="font-size:8.7px" textLength="12.6" lengthAdjust="spacingAndGlyphs">L46</text>
<g transform="translate(197.70,1007.97)"><circle r="4.1" class="mk"/><path d="M0,0 L0,-4.1 A4.1,4.1 0 0 1 4.1,0 Z M0,0 L0,4.1 A4.1,4.1 0 0 1 -4.1,0 Z" fill="#000"/></g>
<line x1="220.0" y1="1010.17" x2="225.0" y2="1005.17" class="tick"/>
<line x1="241.0" y1="1010.17" x2="246.0" y2="1005.17" class="tick"/>
<line x1="67.6" y1="1029.31" x2="245" y2="1029.31" class="lvl"/>
<text x="193.2" y="1026.41" class="t8 r" style="font-size:8.7px" textLength="34.3" lengthAdjust="spacingAndGlyphs">+147 175</text>
<text x="193.2" y="1038.41" class="t8 r" style="font-size:8.7px" textLength="124.6" lengthAdjust="spacingAndGlyphs">L45 - RESIDENTIAL (TYP. L45- L46)</text>
<g transform="translate(197.70,1029.61)"><circle r="4.1" class="mk"/><path d="M0,0 L0,-4.1 A4.1,4.1 0 0 1 4.1,0 Z M0,0 L0,4.1 A4.1,4.1 0 0 1 -4.1,0 Z" fill="#000"/></g>
<line x1="220.0" y1="1031.81" x2="225.0" y2="1026.81" class="tick"/>
<line x1="241.0" y1="1031.81" x2="246.0" y2="1026.81" class="tick"/>
<line x1="118.8" y1="1055.94" x2="245" y2="1055.94" class="lvl"/>
<text x="193.2" y="1053.04" class="t8 r" style="font-size:8.7px" textLength="34.2" lengthAdjust="spacingAndGlyphs">+143 175</text>
<text x="193.2" y="1065.04" class="t8 r" style="font-size:8.7px" textLength="73.4" lengthAdjust="spacingAndGlyphs">L44 - MECHANICAL</text>
<g transform="translate(197.70,1056.24)"><circle r="4.1" class="mk"/><path d="M0,0 L0,-4.1 A4.1,4.1 0 0 1 4.1,0 Z M0,0 L0,4.1 A4.1,4.1 0 0 1 -4.1,0 Z" fill="#000"/></g>
<line x1="220.0" y1="1058.44" x2="225.0" y2="1053.44" class="tick"/>
<line x1="241.0" y1="1058.44" x2="246.0" y2="1053.44" class="tick"/>
<line x1="81.4" y1="1079.91" x2="245" y2="1079.91" class="lvl"/>
<text x="193.2" y="1077.01" class="t8 r" style="font-size:8.7px" textLength="34.5" lengthAdjust="spacingAndGlyphs">+139 575</text>
<text x="193.2" y="1089.01" class="t8 r" style="font-size:8.7px" textLength="110.8" lengthAdjust="spacingAndGlyphs">L43 - RESIDENTIAL (TERRACE)</text>
<g transform="translate(197.70,1080.21)"><circle r="4.1" class="mk"/><path d="M0,0 L0,-4.1 A4.1,4.1 0 0 1 4.1,0 Z M0,0 L0,4.1 A4.1,4.1 0 0 1 -4.1,0 Z" fill="#000"/></g>
<line x1="220.0" y1="1082.41" x2="225.0" y2="1077.41" class="tick"/>
<line x1="241.0" y1="1082.41" x2="246.0" y2="1077.41" class="tick"/>
<line x1="123.4" y1="1101.55" x2="245" y2="1101.55" class="lvl"/>
<text x="193.2" y="1098.65" class="t8 r" style="font-size:8.7px" textLength="35.0" lengthAdjust="spacingAndGlyphs">+136 325</text>
<text x="193.2" y="1110.65" class="t8 r" style="font-size:8.7px" textLength="68.8" lengthAdjust="spacingAndGlyphs">L42 - RESIDENTIAL</text>
<g transform="translate(197.70,1101.85)"><circle r="4.1" class="mk"/><path d="M0,0 L0,-4.1 A4.1,4.1 0 0 1 4.1,0 Z M0,0 L0,4.1 A4.1,4.1 0 0 1 -4.1,0 Z" fill="#000"/></g>
<line x1="220.0" y1="1104.05" x2="225.0" y2="1099.05" class="tick"/>
<line x1="241.0" y1="1104.05" x2="246.0" y2="1099.05" class="tick"/>
<line x1="158.0" y1="1121.19" x2="245" y2="1121.19" class="lvl"/>
<text x="193.2" y="1118.29" class="t8 r" style="font-size:8.7px" textLength="34.2" lengthAdjust="spacingAndGlyphs">+133 375</text>
<text x="193.2" y="1130.29" class="t8 r" style="font-size:8.7px" textLength="12.2" lengthAdjust="spacingAndGlyphs">L41</text>
<g transform="translate(197.70,1121.49)"><circle r="4.1" class="mk"/><path d="M0,0 L0,-4.1 A4.1,4.1 0 0 1 4.1,0 Z M0,0 L0,4.1 A4.1,4.1 0 0 1 -4.1,0 Z" fill="#000"/></g>
<line x1="220.0" y1="1123.69" x2="225.0" y2="1118.69" class="tick"/>
<line x1="241.0" y1="1123.69" x2="246.0" y2="1118.69" class="tick"/>
<line x1="157.2" y1="1140.83" x2="245" y2="1140.83" class="lvl"/>
<text x="193.2" y="1137.93" class="t8 r" style="font-size:8.7px" textLength="35.0" lengthAdjust="spacingAndGlyphs">+130 425</text>
<text x="193.2" y="1149.93" class="t8 r" style="font-size:8.7px" textLength="12.5" lengthAdjust="spacingAndGlyphs">L40</text>
<g transform="translate(197.70,1141.13)"><circle r="4.1" class="mk"/><path d="M0,0 L0,-4.1 A4.1,4.1 0 0 1 4.1,0 Z M0,0 L0,4.1 A4.1,4.1 0 0 1 -4.1,0 Z" fill="#000"/></g>
<line x1="220.0" y1="1143.33" x2="225.0" y2="1138.33" class="tick"/>
<line x1="241.0" y1="1143.33" x2="246.0" y2="1138.33" class="tick"/>
<line x1="157.2" y1="1160.48" x2="245" y2="1160.48" class="lvl"/>
<text x="193.2" y="1157.58" class="t8 r" style="font-size:8.7px" textLength="35.0" lengthAdjust="spacingAndGlyphs">+127 475</text>
<text x="193.2" y="1169.58" class="t8 r" style="font-size:8.7px" textLength="12.5" lengthAdjust="spacingAndGlyphs">L39</text>
<g transform="translate(197.70,1160.78)"><circle r="4.1" class="mk"/><path d="M0,0 L0,-4.1 A4.1,4.1 0 0 1 4.1,0 Z M0,0 L0,4.1 A4.1,4.1 0 0 1 -4.1,0 Z" fill="#000"/></g>
<line x1="220.0" y1="1162.98" x2="225.0" y2="1157.98" class="tick"/>
<line x1="241.0" y1="1162.98" x2="246.0" y2="1157.98" class="tick"/>
<line x1="65.7" y1="1180.12" x2="245" y2="1180.12" class="lvl"/>
<text x="193.2" y="1177.22" class="t8 r" style="font-size:8.7px" textLength="35.5" lengthAdjust="spacingAndGlyphs">+124 525</text>
<text x="193.2" y="1189.22" class="t8 r" style="font-size:8.7px" textLength="126.5" lengthAdjust="spacingAndGlyphs">L38 - RESIDENTIAL (TYP. L38 - L41)</text>
<g transform="translate(197.70,1180.42)"><circle r="4.1" class="mk"/><path d="M0,0 L0,-4.1 A4.1,4.1 0 0 1 4.1,0 Z M0,0 L0,4.1 A4.1,4.1 0 0 1 -4.1,0 Z" fill="#000"/></g>
<line x1="220.0" y1="1182.62" x2="225.0" y2="1177.62" class="tick"/>
<line x1="241.0" y1="1182.62" x2="246.0" y2="1177.62" class="tick"/>
<line x1="81.5" y1="1199.76" x2="245" y2="1199.76" class="lvl"/>
<text x="193.2" y="1196.86" class="t8 r" style="font-size:8.7px" textLength="34.6" lengthAdjust="spacingAndGlyphs">+121 575</text>
<text x="193.2" y="1208.86" class="t8 r" style="font-size:8.7px" textLength="110.7" lengthAdjust="spacingAndGlyphs">L37 - RESIDENTIAL (TERRACE)</text>
<g transform="translate(197.70,1200.06)"><circle r="4.1" class="mk"/><path d="M0,0 L0,-4.1 A4.1,4.1 0 0 1 4.1,0 Z M0,0 L0,4.1 A4.1,4.1 0 0 1 -4.1,0 Z" fill="#000"/></g>
<line x1="220.0" y1="1202.26" x2="225.0" y2="1197.26" class="tick"/>
<line x1="241.0" y1="1202.26" x2="246.0" y2="1197.26" class="tick"/>
<line x1="157.1" y1="1219.40" x2="245" y2="1219.40" class="lvl"/>
<text x="193.2" y="1216.50" class="t8 r" style="font-size:8.7px" textLength="35.1" lengthAdjust="spacingAndGlyphs">+118 625</text>
<text x="193.2" y="1228.50" class="t8 r" style="font-size:8.7px" textLength="12.4" lengthAdjust="spacingAndGlyphs">L36</text>
<g transform="translate(197.70,1219.70)"><circle r="4.1" class="mk"/><path d="M0,0 L0,-4.1 A4.1,4.1 0 0 1 4.1,0 Z M0,0 L0,4.1 A4.1,4.1 0 0 1 -4.1,0 Z" fill="#000"/></g>
<line x1="220.0" y1="1221.90" x2="225.0" y2="1216.90" class="tick"/>
<line x1="241.0" y1="1221.90" x2="246.0" y2="1216.90" class="tick"/>
<line x1="158.2" y1="1241.04" x2="245" y2="1241.04" class="lvl"/>
<text x="193.2" y="1238.14" class="t8 r" style="font-size:8.7px" textLength="34.0" lengthAdjust="spacingAndGlyphs">+115 375</text>
<text x="193.2" y="1250.14" class="t8 r" style="font-size:8.7px" textLength="12.1" lengthAdjust="spacingAndGlyphs">L35</text>
<g transform="translate(197.70,1241.34)"><circle r="4.1" class="mk"/><path d="M0,0 L0,-4.1 A4.1,4.1 0 0 1 4.1,0 Z M0,0 L0,4.1 A4.1,4.1 0 0 1 -4.1,0 Z" fill="#000"/></g>
<line x1="220.0" y1="1243.54" x2="225.0" y2="1238.54" class="tick"/>
<line x1="241.0" y1="1243.54" x2="246.0" y2="1238.54" class="tick"/>
<line x1="156.8" y1="1260.68" x2="245" y2="1260.68" class="lvl"/>
<text x="193.2" y="1257.78" class="t8 r" style="font-size:8.7px" textLength="35.4" lengthAdjust="spacingAndGlyphs">+112 425</text>
<text x="193.2" y="1269.78" class="t8 r" style="font-size:8.7px" textLength="12.3" lengthAdjust="spacingAndGlyphs">L34</text>
<g transform="translate(197.70,1260.98)"><circle r="4.1" class="mk"/><path d="M0,0 L0,-4.1 A4.1,4.1 0 0 1 4.1,0 Z M0,0 L0,4.1 A4.1,4.1 0 0 1 -4.1,0 Z" fill="#000"/></g>
<line x1="220.0" y1="1263.18" x2="225.0" y2="1258.18" class="tick"/>
<line x1="241.0" y1="1263.18" x2="246.0" y2="1258.18" class="tick"/>
<line x1="157.4" y1="1280.33" x2="245" y2="1280.33" class="lvl"/>
<text x="193.2" y="1277.43" class="t8 r" style="font-size:8.7px" textLength="34.8" lengthAdjust="spacingAndGlyphs">+109 475</text>
<text x="193.2" y="1289.43" class="t8 r" style="font-size:8.7px" textLength="12.1" lengthAdjust="spacingAndGlyphs">L33</text>
<g transform="translate(197.70,1280.63)"><circle r="4.1" class="mk"/><path d="M0,0 L0,-4.1 A4.1,4.1 0 0 1 4.1,0 Z M0,0 L0,4.1 A4.1,4.1 0 0 1 -4.1,0 Z" fill="#000"/></g>
<line x1="220.0" y1="1282.83" x2="225.0" y2="1277.83" class="tick"/>
<line x1="241.0" y1="1282.83" x2="246.0" y2="1277.83" class="tick"/>
<line x1="64.7" y1="1299.97" x2="245" y2="1299.97" class="lvl"/>
<text x="193.2" y="1297.07" class="t8 r" style="font-size:8.7px" textLength="35.1" lengthAdjust="spacingAndGlyphs">+106 525</text>
<text x="193.2" y="1309.07" class="t8 r" style="font-size:8.7px" textLength="127.5" lengthAdjust="spacingAndGlyphs">L32 - RESIDENTIAL (TYP. L32 - L36)</text>
<g transform="translate(197.70,1300.27)"><circle r="4.1" class="mk"/><path d="M0,0 L0,-4.1 A4.1,4.1 0 0 1 4.1,0 Z M0,0 L0,4.1 A4.1,4.1 0 0 1 -4.1,0 Z" fill="#000"/></g>
<line x1="220.0" y1="1302.47" x2="225.0" y2="1297.47" class="tick"/>
<line x1="241.0" y1="1302.47" x2="246.0" y2="1297.47" class="tick"/>
<line x1="81.7" y1="1319.61" x2="245" y2="1319.61" class="lvl"/>
<text x="193.2" y="1316.71" class="t8 r" style="font-size:8.7px" textLength="34.3" lengthAdjust="spacingAndGlyphs">+103 575</text>
<text x="193.2" y="1328.71" class="t8 r" style="font-size:8.7px" textLength="110.5" lengthAdjust="spacingAndGlyphs">L31 - RESIDENTIAL (TERRACE)</text>
<g transform="translate(197.70,1319.91)"><circle r="4.1" class="mk"/><path d="M0,0 L0,-4.1 A4.1,4.1 0 0 1 4.1,0 Z M0,0 L0,4.1 A4.1,4.1 0 0 1 -4.1,0 Z" fill="#000"/></g>
<line x1="220.0" y1="1322.11" x2="225.0" y2="1317.11" class="tick"/>
<line x1="241.0" y1="1322.11" x2="246.0" y2="1317.11" class="tick"/>
<line x1="156.9" y1="1339.25" x2="245" y2="1339.25" class="lvl"/>
<text x="193.2" y="1336.35" class="t8 r" style="font-size:8.7px" textLength="35.3" lengthAdjust="spacingAndGlyphs">+100 625</text>
<text x="193.2" y="1348.35" class="t8 r" style="font-size:8.7px" textLength="12.3" lengthAdjust="spacingAndGlyphs">L30</text>
<g transform="translate(197.70,1339.55)"><circle r="4.1" class="mk"/><path d="M0,0 L0,-4.1 A4.1,4.1 0 0 1 4.1,0 Z M0,0 L0,4.1 A4.1,4.1 0 0 1 -4.1,0 Z" fill="#000"/></g>
<line x1="220.0" y1="1341.75" x2="225.0" y2="1336.75" class="tick"/>
<line x1="241.0" y1="1341.75" x2="246.0" y2="1336.75" class="tick"/>
<line x1="161.6" y1="1358.89" x2="245" y2="1358.89" class="lvl"/>
<text x="193.2" y="1355.99" class="t8 r" style="font-size:8.7px" textLength="30.6" lengthAdjust="spacingAndGlyphs">+97 675</text>
<text x="193.2" y="1367.99" class="t8 r" style="font-size:8.7px" textLength="13.1" lengthAdjust="spacingAndGlyphs">L29</text>
<g transform="translate(197.70,1359.19)"><circle r="4.1" class="mk"/><path d="M0,0 L0,-4.1 A4.1,4.1 0 0 1 4.1,0 Z M0,0 L0,4.1 A4.1,4.1 0 0 1 -4.1,0 Z" fill="#000"/></g>
<line x1="220.0" y1="1361.39" x2="225.0" y2="1356.39" class="tick"/>
<line x1="241.0" y1="1361.39" x2="246.0" y2="1356.39" class="tick"/>
<line x1="161.2" y1="1378.54" x2="245" y2="1378.54" class="lvl"/>
<text x="193.2" y="1375.64" class="t8 r" style="font-size:8.7px" textLength="31.0" lengthAdjust="spacingAndGlyphs">+94 725</text>
<text x="193.2" y="1387.64" class="t8 r" style="font-size:8.7px" textLength="12.9" lengthAdjust="spacingAndGlyphs">L28</text>
<g transform="translate(197.70,1378.84)"><circle r="4.1" class="mk"/><path d="M0,0 L0,-4.1 A4.1,4.1 0 0 1 4.1,0 Z M0,0 L0,4.1 A4.1,4.1 0 0 1 -4.1,0 Z" fill="#000"/></g>
<line x1="220.0" y1="1381.04" x2="225.0" y2="1376.04" class="tick"/>
<line x1="241.0" y1="1381.04" x2="246.0" y2="1376.04" class="tick"/>
<line x1="161.9" y1="1400.18" x2="245" y2="1400.18" class="lvl"/>
<text x="193.2" y="1397.28" class="t8 r" style="font-size:8.7px" textLength="30.3" lengthAdjust="spacingAndGlyphs">+91 475</text>
<text x="193.2" y="1409.28" class="t8 r" style="font-size:8.7px" textLength="12.8" lengthAdjust="spacingAndGlyphs">L27</text>
<g transform="translate(197.70,1400.48)"><circle r="4.1" class="mk"/><path d="M0,0 L0,-4.1 A4.1,4.1 0 0 1 4.1,0 Z M0,0 L0,4.1 A4.1,4.1 0 0 1 -4.1,0 Z" fill="#000"/></g>
<line x1="220.0" y1="1402.68" x2="225.0" y2="1397.68" class="tick"/>
<line x1="241.0" y1="1402.68" x2="246.0" y2="1397.68" class="tick"/>
<line x1="161.4" y1="1419.82" x2="245" y2="1419.82" class="lvl"/>
<text x="193.2" y="1416.92" class="t8 r" style="font-size:8.7px" textLength="30.8" lengthAdjust="spacingAndGlyphs">+88 525</text>
<text x="193.2" y="1428.92" class="t8 r" style="font-size:8.7px" textLength="13.0" lengthAdjust="spacingAndGlyphs">L26</text>
<g transform="translate(197.70,1420.12)"><circle r="4.1" class="mk"/><path d="M0,0 L0,-4.1 A4.1,4.1 0 0 1 4.1,0 Z M0,0 L0,4.1 A4.1,4.1 0 0 1 -4.1,0 Z" fill="#000"/></g>
<line x1="220.0" y1="1422.32" x2="225.0" y2="1417.32" class="tick"/>
<line x1="241.0" y1="1422.32" x2="246.0" y2="1417.32" class="tick"/>
<line x1="64.8" y1="1439.46" x2="245" y2="1439.46" class="lvl"/>
<text x="193.2" y="1436.56" class="t8 r" style="font-size:8.7px" textLength="30.0" lengthAdjust="spacingAndGlyphs">+85 575</text>
<text x="193.2" y="1448.56" class="t8 r" style="font-size:8.7px" textLength="127.4" lengthAdjust="spacingAndGlyphs">L25 - RESIDENTIAL (TYP. L25 - L30)</text>
<g transform="translate(197.70,1439.76)"><circle r="4.1" class="mk"/><path d="M0,0 L0,-4.1 A4.1,4.1 0 0 1 4.1,0 Z M0,0 L0,4.1 A4.1,4.1 0 0 1 -4.1,0 Z" fill="#000"/></g>
<line x1="220.0" y1="1441.96" x2="225.0" y2="1436.96" class="tick"/>
<line x1="241.0" y1="1441.96" x2="246.0" y2="1436.96" class="tick"/>
<line x1="88.7" y1="1461.43" x2="245" y2="1461.43" class="lvl"/>
<text x="193.2" y="1458.53" class="t8 r" style="font-size:8.7px" textLength="31.2" lengthAdjust="spacingAndGlyphs">+82 275</text>
<text x="193.2" y="1470.53" class="t8 r" style="font-size:8.7px" textLength="103.5" lengthAdjust="spacingAndGlyphs">L24 - RESIDENTIAL - OLD 22</text>
<g transform="translate(197.70,1461.73)"><circle r="4.1" class="mk"/><path d="M0,0 L0,-4.1 A4.1,4.1 0 0 1 4.1,0 Z M0,0 L0,4.1 A4.1,4.1 0 0 1 -4.1,0 Z" fill="#000"/></g>
<line x1="220.0" y1="1463.93" x2="225.0" y2="1458.93" class="tick"/>
<line x1="241.0" y1="1463.93" x2="246.0" y2="1458.93" class="tick"/>
<line x1="91.1" y1="1485.67" x2="245" y2="1485.67" class="lvl"/>
<text x="193.2" y="1482.77" class="t8 r" style="font-size:8.7px" textLength="30.3" lengthAdjust="spacingAndGlyphs">+78 635</text>
<text x="193.2" y="1494.77" class="t8 r" style="font-size:8.7px" textLength="101.1" lengthAdjust="spacingAndGlyphs">L23 - RESIDENTIAL/TRANS.</text>
<g transform="translate(197.70,1485.97)"><circle r="4.1" class="mk"/><path d="M0,0 L0,-4.1 A4.1,4.1 0 0 1 4.1,0 Z M0,0 L0,4.1 A4.1,4.1 0 0 1 -4.1,0 Z" fill="#000"/></g>
<line x1="220.0" y1="1488.17" x2="225.0" y2="1483.17" class="tick"/>
<line x1="241.0" y1="1488.17" x2="246.0" y2="1483.17" class="tick"/>
<line x1="162.3" y1="1507.64" x2="245" y2="1507.64" class="lvl"/>
<text x="193.2" y="1504.74" class="t8 r" style="font-size:8.7px" textLength="29.9" lengthAdjust="spacingAndGlyphs">+75 335</text>
<text x="193.2" y="1516.74" class="t8 r" style="font-size:8.7px" textLength="13.3" lengthAdjust="spacingAndGlyphs">L22</text>
<g transform="translate(197.70,1507.94)"><circle r="4.1" class="mk"/><path d="M0,0 L0,-4.1 A4.1,4.1 0 0 1 4.1,0 Z M0,0 L0,4.1 A4.1,4.1 0 0 1 -4.1,0 Z" fill="#000"/></g>
<line x1="220.0" y1="1510.14" x2="225.0" y2="1505.14" class="tick"/>
<line x1="241.0" y1="1510.14" x2="246.0" y2="1505.14" class="tick"/>
<line x1="161.6" y1="1527.28" x2="245" y2="1527.28" class="lvl"/>
<text x="193.2" y="1524.38" class="t8 r" style="font-size:8.7px" textLength="30.6" lengthAdjust="spacingAndGlyphs">+72 385</text>
<text x="193.2" y="1536.38" class="t8 r" style="font-size:8.7px" textLength="12.6" lengthAdjust="spacingAndGlyphs">L21</text>
<g transform="translate(197.70,1527.58)"><circle r="4.1" class="mk"/><path d="M0,0 L0,-4.1 A4.1,4.1 0 0 1 4.1,0 Z M0,0 L0,4.1 A4.1,4.1 0 0 1 -4.1,0 Z" fill="#000"/></g>
<line x1="220.0" y1="1529.78" x2="225.0" y2="1524.78" class="tick"/>
<line x1="241.0" y1="1529.78" x2="246.0" y2="1524.78" class="tick"/>
<line x1="64.0" y1="1546.93" x2="245" y2="1546.93" class="lvl"/>
<text x="193.2" y="1544.03" class="t8 r" style="font-size:8.7px" textLength="30.6" lengthAdjust="spacingAndGlyphs">+69 435</text>
<text x="193.2" y="1556.03" class="t8 r" style="font-size:8.7px" textLength="128.2" lengthAdjust="spacingAndGlyphs">L20 - RESIDENTIAL (TYP. L19 - L22)</text>
<g transform="translate(197.70,1547.23)"><circle r="4.1" class="mk"/><path d="M0,0 L0,-4.1 A4.1,4.1 0 0 1 4.1,0 Z M0,0 L0,4.1 A4.1,4.1 0 0 1 -4.1,0 Z" fill="#000"/></g>
<line x1="220.0" y1="1549.43" x2="225.0" y2="1544.43" class="tick"/>
<line x1="241.0" y1="1549.43" x2="246.0" y2="1544.43" class="tick"/>
<line x1="161.7" y1="1568.57" x2="245" y2="1568.57" class="lvl"/>
<text x="193.2" y="1565.67" class="t8 r" style="font-size:8.7px" textLength="30.5" lengthAdjust="spacingAndGlyphs">+66 185</text>
<text x="193.2" y="1577.67" class="t8 r" style="font-size:8.7px" textLength="12.4" lengthAdjust="spacingAndGlyphs">L19</text>
<g transform="translate(197.70,1568.87)"><circle r="4.1" class="mk"/><path d="M0,0 L0,-4.1 A4.1,4.1 0 0 1 4.1,0 Z M0,0 L0,4.1 A4.1,4.1 0 0 1 -4.1,0 Z" fill="#000"/></g>
<line x1="220.0" y1="1571.07" x2="225.0" y2="1566.07" class="tick"/>
<line x1="241.0" y1="1571.07" x2="246.0" y2="1566.07" class="tick"/>
<line x1="124.1" y1="1588.21" x2="245" y2="1588.21" class="lvl"/>
<text x="193.2" y="1585.31" class="t8 r" style="font-size:8.7px" textLength="30.7" lengthAdjust="spacingAndGlyphs">+63 235</text>
<text x="193.2" y="1597.31" class="t8 r" style="font-size:8.7px" textLength="68.1" lengthAdjust="spacingAndGlyphs">L18 - RESIDENTIAL</text>
<g transform="translate(197.70,1588.51)"><circle r="4.1" class="mk"/><path d="M0,0 L0,-4.1 A4.1,4.1 0 0 1 4.1,0 Z M0,0 L0,4.1 A4.1,4.1 0 0 1 -4.1,0 Z" fill="#000"/></g>
<line x1="220.0" y1="1590.71" x2="225.0" y2="1585.71" class="tick"/>
<line x1="241.0" y1="1590.71" x2="246.0" y2="1585.71" class="tick"/>
<line x1="124.3" y1="1607.85" x2="245" y2="1607.85" class="lvl"/>
<text x="193.2" y="1604.95" class="t8 r" style="font-size:8.7px" textLength="31.0" lengthAdjust="spacingAndGlyphs">+60 285</text>
<text x="193.2" y="1616.95" class="t8 r" style="font-size:8.7px" textLength="67.9" lengthAdjust="spacingAndGlyphs">L17 - RESIDENTIAL</text>
<g transform="translate(197.70,1608.15)"><circle r="4.1" class="mk"/><path d="M0,0 L0,-4.1 A4.1,4.1 0 0 1 4.1,0 Z M0,0 L0,4.1 A4.1,4.1 0 0 1 -4.1,0 Z" fill="#000"/></g>
<line x1="220.0" y1="1610.35" x2="225.0" y2="1605.35" class="tick"/>
<line x1="241.0" y1="1610.35" x2="246.0" y2="1605.35" class="tick"/>
<line x1="91.5" y1="1629.49" x2="245" y2="1629.49" class="lvl"/>
<text x="193.2" y="1626.59" class="t8 r" style="font-size:8.7px" textLength="30.0" lengthAdjust="spacingAndGlyphs">+57 035</text>
<text x="193.2" y="1638.59" class="t8 r" style="font-size:8.7px" textLength="100.7" lengthAdjust="spacingAndGlyphs">L16 - RESIDENTIAL/TRANS.</text>
<g transform="translate(197.70,1629.79)"><circle r="4.1" class="mk"/><path d="M0,0 L0,-4.1 A4.1,4.1 0 0 1 4.1,0 Z M0,0 L0,4.1 A4.1,4.1 0 0 1 -4.1,0 Z" fill="#000"/></g>
<line x1="220.0" y1="1631.99" x2="225.0" y2="1626.99" class="tick"/>
<line x1="241.0" y1="1631.99" x2="246.0" y2="1626.99" class="tick"/>
<line x1="66.3" y1="1649.13" x2="245" y2="1649.13" class="lvl"/>
<text x="193.2" y="1646.23" class="t8 r" style="font-size:8.7px" textLength="30.3" lengthAdjust="spacingAndGlyphs">+54 085</text>
<text x="193.2" y="1658.23" class="t8 r" style="font-size:8.7px" textLength="125.9" lengthAdjust="spacingAndGlyphs">L15 - RESIDENTIAL (TYP. L14 - L15)</text>
<g transform="translate(197.70,1649.43)"><circle r="4.1" class="mk"/><path d="M0,0 L0,-4.1 A4.1,4.1 0 0 1 4.1,0 Z M0,0 L0,4.1 A4.1,4.1 0 0 1 -4.1,0 Z" fill="#000"/></g>
<line x1="220.0" y1="1651.63" x2="225.0" y2="1646.63" class="tick"/>
<line x1="241.0" y1="1651.63" x2="246.0" y2="1646.63" class="tick"/>
<line x1="162.6" y1="1668.77" x2="245" y2="1668.77" class="lvl"/>
<text x="193.2" y="1665.87" class="t8 r" style="font-size:8.7px" textLength="29.6" lengthAdjust="spacingAndGlyphs">+51 135</text>
<text x="193.2" y="1677.87" class="t8 r" style="font-size:8.7px" textLength="12.2" lengthAdjust="spacingAndGlyphs">L14</text>
<g transform="translate(197.70,1669.07)"><circle r="4.1" class="mk"/><path d="M0,0 L0,-4.1 A4.1,4.1 0 0 1 4.1,0 Z M0,0 L0,4.1 A4.1,4.1 0 0 1 -4.1,0 Z" fill="#000"/></g>
<line x1="220.0" y1="1671.27" x2="225.0" y2="1666.27" class="tick"/>
<line x1="241.0" y1="1671.27" x2="246.0" y2="1666.27" class="tick"/>
<line x1="161.9" y1="1688.42" x2="245" y2="1688.42" class="lvl"/>
<text x="193.2" y="1685.52" class="t8 r" style="font-size:8.7px" textLength="30.3" lengthAdjust="spacingAndGlyphs">+48 185</text>
<text x="193.2" y="1697.52" class="t8 r" style="font-size:8.7px" textLength="12.0" lengthAdjust="spacingAndGlyphs">L13</text>
<g transform="translate(197.70,1688.72)"><circle r="4.1" class="mk"/><path d="M0,0 L0,-4.1 A4.1,4.1 0 0 1 4.1,0 Z M0,0 L0,4.1 A4.1,4.1 0 0 1 -4.1,0 Z" fill="#000"/></g>
<line x1="220.0" y1="1690.92" x2="225.0" y2="1685.92" class="tick"/>
<line x1="241.0" y1="1690.92" x2="246.0" y2="1685.92" class="tick"/>
<line x1="65.3" y1="1708.06" x2="245" y2="1708.06" class="lvl"/>
<text x="193.2" y="1705.16" class="t8 r" style="font-size:8.7px" textLength="30.6" lengthAdjust="spacingAndGlyphs">+45 235</text>
<text x="193.2" y="1717.16" class="t8 r" style="font-size:8.7px" textLength="126.9" lengthAdjust="spacingAndGlyphs">L12 - RESIDENTIAL (TYP. L12 - L13)</text>
<g transform="translate(197.70,1708.36)"><circle r="4.1" class="mk"/><path d="M0,0 L0,-4.1 A4.1,4.1 0 0 1 4.1,0 Z M0,0 L0,4.1 A4.1,4.1 0 0 1 -4.1,0 Z" fill="#000"/></g>
<line x1="220.0" y1="1710.56" x2="225.0" y2="1705.56" class="tick"/>
<line x1="241.0" y1="1710.56" x2="246.0" y2="1705.56" class="tick"/>
<line x1="78.3" y1="1736.02" x2="245" y2="1736.02" class="lvl"/>
<text x="193.2" y="1733.12" class="t8 r" style="font-size:8.7px" textLength="30.0" lengthAdjust="spacingAndGlyphs">+41 035</text>
<text x="193.2" y="1745.12" class="t8 r" style="font-size:8.7px" textLength="113.9" lengthAdjust="spacingAndGlyphs">L11 - RESIDENTIAL &amp; AMENITY</text>
<g transform="translate(197.70,1736.32)"><circle r="4.1" class="mk"/><path d="M0,0 L0,-4.1 A4.1,4.1 0 0 1 4.1,0 Z M0,0 L0,4.1 A4.1,4.1 0 0 1 -4.1,0 Z" fill="#000"/></g>
<line x1="220.0" y1="1738.52" x2="225.0" y2="1733.52" class="tick"/>
<line x1="241.0" y1="1738.52" x2="246.0" y2="1733.52" class="tick"/>
<line x1="49.1" y1="1775.97" x2="245" y2="1775.97" class="lvl"/>
<text x="193.2" y="1773.07" class="t8 r" style="font-size:8.7px" textLength="29.9" lengthAdjust="spacingAndGlyphs">+35 035</text>
<text x="193.2" y="1785.07" class="t8 r" style="font-size:8.7px" textLength="143.1" lengthAdjust="spacingAndGlyphs">L10 - AMENITY, RESIDENTIAL &amp; MECH</text>
<g transform="translate(197.70,1776.27)"><circle r="4.1" class="mk"/><path d="M0,0 L0,-4.1 A4.1,4.1 0 0 1 4.1,0 Z M0,0 L0,4.1 A4.1,4.1 0 0 1 -4.1,0 Z" fill="#000"/></g>
<line x1="220.0" y1="1778.47" x2="225.0" y2="1773.47" class="tick"/>
<line x1="241.0" y1="1778.47" x2="246.0" y2="1773.47" class="tick"/>
<line x1="123.7" y1="1803.94" x2="245" y2="1803.94" class="lvl"/>
<text x="193.2" y="1801.04" class="t8 r" style="font-size:8.7px" textLength="30.1" lengthAdjust="spacingAndGlyphs">+30 835</text>
<text x="193.2" y="1813.04" class="t8 r" style="font-size:8.7px" textLength="68.5" lengthAdjust="spacingAndGlyphs">L09 - RESIDENTIAL</text>
<g transform="translate(197.70,1804.24)"><circle r="4.1" class="mk"/><path d="M0,0 L0,-4.1 A4.1,4.1 0 0 1 4.1,0 Z M0,0 L0,4.1 A4.1,4.1 0 0 1 -4.1,0 Z" fill="#000"/></g>
<line x1="220.0" y1="1806.44" x2="225.0" y2="1801.44" class="tick"/>
<line x1="241.0" y1="1806.44" x2="246.0" y2="1801.44" class="tick"/>
<line x1="123.9" y1="1823.58" x2="245" y2="1823.58" class="lvl"/>
<text x="193.2" y="1820.68" class="t8 r" style="font-size:8.7px" textLength="30.8" lengthAdjust="spacingAndGlyphs">+27 885</text>
<text x="193.2" y="1832.68" class="t8 r" style="font-size:8.7px" textLength="68.3" lengthAdjust="spacingAndGlyphs">L08 - RESIDENTIAL</text>
<g transform="translate(197.70,1823.88)"><circle r="4.1" class="mk"/><path d="M0,0 L0,-4.1 A4.1,4.1 0 0 1 4.1,0 Z M0,0 L0,4.1 A4.1,4.1 0 0 1 -4.1,0 Z" fill="#000"/></g>
<line x1="220.0" y1="1826.08" x2="225.0" y2="1821.08" class="tick"/>
<line x1="241.0" y1="1826.08" x2="246.0" y2="1821.08" class="tick"/>
<line x1="124.0" y1="1843.22" x2="245" y2="1843.22" class="lvl"/>
<text x="193.2" y="1840.32" class="t8 r" style="font-size:8.7px" textLength="30.9" lengthAdjust="spacingAndGlyphs">+24 935</text>
<text x="193.2" y="1852.32" class="t8 r" style="font-size:8.7px" textLength="68.2" lengthAdjust="spacingAndGlyphs">L07 - RESIDENTIAL</text>
<g transform="translate(197.70,1843.52)"><circle r="4.1" class="mk"/><path d="M0,0 L0,-4.1 A4.1,4.1 0 0 1 4.1,0 Z M0,0 L0,4.1 A4.1,4.1 0 0 1 -4.1,0 Z" fill="#000"/></g>
<line x1="220.0" y1="1845.72" x2="225.0" y2="1840.72" class="tick"/>
<line x1="241.0" y1="1845.72" x2="246.0" y2="1840.72" class="tick"/>
<line x1="123.8" y1="1862.87" x2="245" y2="1862.87" class="lvl"/>
<text x="193.2" y="1859.97" class="t8 r" style="font-size:8.7px" textLength="30.8" lengthAdjust="spacingAndGlyphs">+21 985</text>
<text x="193.2" y="1871.97" class="t8 r" style="font-size:8.7px" textLength="68.4" lengthAdjust="spacingAndGlyphs">L06 - RESIDENTIAL</text>
<g transform="translate(197.70,1863.17)"><circle r="4.1" class="mk"/><path d="M0,0 L0,-4.1 A4.1,4.1 0 0 1 4.1,0 Z M0,0 L0,4.1 A4.1,4.1 0 0 1 -4.1,0 Z" fill="#000"/></g>
<line x1="220.0" y1="1865.37" x2="225.0" y2="1860.37" class="tick"/>
<line x1="241.0" y1="1865.37" x2="246.0" y2="1860.37" class="tick"/>
<line x1="124.1" y1="1882.51" x2="245" y2="1882.51" class="lvl"/>
<text x="193.2" y="1879.61" class="t8 r" style="font-size:8.7px" textLength="30.2" lengthAdjust="spacingAndGlyphs">+19 035</text>
<text x="193.2" y="1891.61" class="t8 r" style="font-size:8.7px" textLength="68.1" lengthAdjust="spacingAndGlyphs">L05 - RESIDENTIAL</text>
<g transform="translate(197.70,1882.81)"><circle r="4.1" class="mk"/><path d="M0,0 L0,-4.1 A4.1,4.1 0 0 1 4.1,0 Z M0,0 L0,4.1 A4.1,4.1 0 0 1 -4.1,0 Z" fill="#000"/></g>
<line x1="220.0" y1="1885.01" x2="225.0" y2="1880.01" class="tick"/>
<line x1="241.0" y1="1885.01" x2="246.0" y2="1880.01" class="tick"/>
<line x1="123.9" y1="1902.15" x2="245" y2="1902.15" class="lvl"/>
<text x="193.2" y="1899.25" class="t8 r" style="font-size:8.7px" textLength="30.3" lengthAdjust="spacingAndGlyphs">+16 085</text>
<text x="193.2" y="1911.25" class="t8 r" style="font-size:8.7px" textLength="68.3" lengthAdjust="spacingAndGlyphs">L04 - RESIDENTIAL</text>
<g transform="translate(197.70,1902.45)"><circle r="4.1" class="mk"/><path d="M0,0 L0,-4.1 A4.1,4.1 0 0 1 4.1,0 Z M0,0 L0,4.1 A4.1,4.1 0 0 1 -4.1,0 Z" fill="#000"/></g>
<line x1="220.0" y1="1904.65" x2="225.0" y2="1899.65" class="tick"/>
<line x1="241.0" y1="1904.65" x2="246.0" y2="1899.65" class="tick"/>
<line x1="85.7" y1="1929.35" x2="245" y2="1929.35" class="lvl"/>
<text x="193.2" y="1926.45" class="t8 r" style="font-size:8.7px" textLength="30.7" lengthAdjust="spacingAndGlyphs">+12 000</text>
<text x="193.2" y="1938.45" class="t8 r" style="font-size:8.7px" textLength="106.5" lengthAdjust="spacingAndGlyphs">L03 - RETAIL &amp; COMMUNITY</text>
<g transform="translate(197.70,1929.65)"><circle r="4.1" class="mk"/><path d="M0,0 L0,-4.1 A4.1,4.1 0 0 1 4.1,0 Z M0,0 L0,4.1 A4.1,4.1 0 0 1 -4.1,0 Z" fill="#000"/></g>
<line x1="220.0" y1="1931.85" x2="225.0" y2="1926.85" class="tick"/>
<line x1="241.0" y1="1931.85" x2="246.0" y2="1926.85" class="tick"/>
<line x1="148.3" y1="1965.97" x2="245" y2="1965.97" class="lvl"/>
<text x="193.2" y="1963.07" class="t8 r" style="font-size:8.7px" textLength="26.0" lengthAdjust="spacingAndGlyphs">+6 500</text>
<text x="193.2" y="1975.07" class="t8 r" style="font-size:8.7px" textLength="43.9" lengthAdjust="spacingAndGlyphs">L02 - RETAIL</text>
<g transform="translate(197.70,1966.27)"><circle r="4.1" class="mk"/><path d="M0,0 L0,-4.1 A4.1,4.1 0 0 1 4.1,0 Z M0,0 L0,4.1 A4.1,4.1 0 0 1 -4.1,0 Z" fill="#000"/></g>
<line x1="220.0" y1="1968.47" x2="225.0" y2="1963.47" class="tick"/>
<line x1="241.0" y1="1968.47" x2="246.0" y2="1963.47" class="tick"/>
<line x1="126.5" y1="1982.28" x2="245" y2="1982.28" class="lvl"/>
<text x="193.2" y="1979.38" class="t8 r" style="font-size:8.7px" textLength="25.9" lengthAdjust="spacingAndGlyphs">+4 050</text>
<text x="193.2" y="1991.38" class="t8 r" style="font-size:8.7px" textLength="65.7" lengthAdjust="spacingAndGlyphs">L01M - TRANSFER</text>
<g transform="translate(197.70,1982.58)"><circle r="4.1" class="mk"/><path d="M0,0 L0,-4.1 A4.1,4.1 0 0 1 4.1,0 Z M0,0 L0,4.1 A4.1,4.1 0 0 1 -4.1,0 Z" fill="#000"/></g>
<line x1="220.0" y1="1984.78" x2="225.0" y2="1979.78" class="tick"/>
<line x1="241.0" y1="1984.78" x2="246.0" y2="1979.78" class="tick"/>
<line x1="136.7" y1="2009.25" x2="245" y2="2009.25" class="lvl"/>
<text x="193.2" y="2006.35" class="t8 r" style="font-size:8.7px" textLength="6.4" lengthAdjust="spacingAndGlyphs">±0</text>
<text x="193.2" y="2018.35" class="t8 r" style="font-size:8.7px" textLength="55.5" lengthAdjust="spacingAndGlyphs">L01 - GROUND</text>
<g transform="translate(197.70,2009.55)"><circle r="4.1" class="mk"/><path d="M0,0 L0,-4.1 A4.1,4.1 0 0 1 4.1,0 Z M0,0 L0,4.1 A4.1,4.1 0 0 1 -4.1,0 Z" fill="#000"/></g>
<line x1="220.0" y1="2011.75" x2="225.0" y2="2006.75" class="tick"/>
<line x1="241.0" y1="2011.75" x2="246.0" y2="2006.75" class="tick"/>
</g>
<g id="dims">
<line x1="222.5" y1="14.4" x2="222.5" y2="2013.2" class="dl"/>
<line x1="243.5" y1="14.4" x2="243.5" y2="2010.8" class="dl"/>
<text transform="translate(220.6,1014.5) rotate(-90)" class="t8 m">299 000</text>
<text transform="translate(241.6,52.00) rotate(-90)" class="t8 m" style="font-size:8.5px">3 100</text>
<text transform="translate(241.6,88.50) rotate(-90)" class="t8 m" style="font-size:8.5px">11 750</text>
<text transform="translate(241.6,137.92) rotate(-90)" class="t8 m" style="font-size:8.5px">6 200</text>
<text transform="translate(241.6,175.45) rotate(-90)" class="t8 m" style="font-size:8.5px">5 075</text>
<text transform="translate(235.2,204.17) rotate(-90)" class="t8 m" style="font-size:8.5px">3 550</text>
<text transform="translate(228.4,227.81) rotate(-90)" class="t8 m" style="font-size:8.5px">3 550</text>
<text transform="translate(235.2,251.44) rotate(-90)" class="t8 m" style="font-size:8.5px">3 550</text>
<text transform="translate(228.4,273.08) rotate(-90)" class="t8 m" style="font-size:8.5px">2 950</text>
<text transform="translate(235.2,292.72) rotate(-90)" class="t8 m" style="font-size:8.5px">2 950</text>
<text transform="translate(228.4,312.37) rotate(-90)" class="t8 m" style="font-size:8.5px">2 950</text>
<text transform="translate(235.2,332.01) rotate(-90)" class="t8 m" style="font-size:8.5px">2 950</text>
<text transform="translate(228.4,351.65) rotate(-90)" class="t8 m" style="font-size:8.5px">2 950</text>
<text transform="translate(235.2,372.29) rotate(-90)" class="t8 m" style="font-size:8.5px">3 250</text>
<text transform="translate(228.4,392.93) rotate(-90)" class="t8 m" style="font-size:8.5px">2 950</text>
<text transform="translate(235.2,412.57) rotate(-90)" class="t8 m" style="font-size:8.5px">2 950</text>
<text transform="translate(228.4,432.22) rotate(-90)" class="t8 m" style="font-size:8.5px">2 950</text>
<text transform="translate(235.2,451.86) rotate(-90)" class="t8 m" style="font-size:8.5px">2 950</text>
<text transform="translate(228.4,471.50) rotate(-90)" class="t8 m" style="font-size:8.5px">2 950</text>
<text transform="translate(235.2,491.14) rotate(-90)" class="t8 m" style="font-size:8.5px">2 950</text>
<text transform="translate(228.4,512.95) rotate(-90)" class="t8 m" style="font-size:8.5px">3 600</text>
<text transform="translate(235.2,535.75) rotate(-90)" class="t8 m" style="font-size:8.5px">3 250</text>
<text transform="translate(228.4,556.40) rotate(-90)" class="t8 m" style="font-size:8.5px">2 950</text>
<text transform="translate(235.2,576.04) rotate(-90)" class="t8 m" style="font-size:8.5px">2 950</text>
<text transform="translate(228.4,595.68) rotate(-90)" class="t8 m" style="font-size:8.5px">2 950</text>
<text transform="translate(235.2,615.32) rotate(-90)" class="t8 m" style="font-size:8.5px">2 950</text>
<text transform="translate(228.4,634.96) rotate(-90)" class="t8 m" style="font-size:8.5px">2 950</text>
<text transform="translate(235.2,654.61) rotate(-90)" class="t8 m" style="font-size:8.5px">2 950</text>
<text transform="translate(228.4,675.25) rotate(-90)" class="t8 m" style="font-size:8.5px">3 250</text>
<text transform="translate(235.2,695.89) rotate(-90)" class="t8 m" style="font-size:8.5px">2 950</text>
<text transform="translate(228.4,715.53) rotate(-90)" class="t8 m" style="font-size:8.5px">2 950</text>
<text transform="translate(235.2,735.17) rotate(-90)" class="t8 m" style="font-size:8.5px">2 950</text>
<text transform="translate(228.4,754.81) rotate(-90)" class="t8 m" style="font-size:8.5px">2 950</text>
<text transform="translate(235.2,774.46) rotate(-90)" class="t8 m" style="font-size:8.5px">2 950</text>
<text transform="translate(228.4,794.10) rotate(-90)" class="t8 m" style="font-size:8.5px">2 950</text>
<text transform="translate(235.2,813.74) rotate(-90)" class="t8 m" style="font-size:8.5px">2 950</text>
<text transform="translate(228.4,834.38) rotate(-90)" class="t8 m" style="font-size:8.5px">3 250</text>
<text transform="translate(235.2,856.02) rotate(-90)" class="t8 m" style="font-size:8.5px">3 250</text>
<text transform="translate(228.4,876.66) rotate(-90)" class="t8 m" style="font-size:8.5px">2 950</text>
<text transform="translate(235.2,897.97) rotate(-90)" class="t8 m" style="font-size:8.5px">3 450</text>
<text transform="translate(228.4,919.28) rotate(-90)" class="t8 m" style="font-size:8.5px">2 950</text>
<text transform="translate(235.2,938.92) rotate(-90)" class="t8 m" style="font-size:8.5px">2 950</text>
<text transform="translate(228.4,958.56) rotate(-90)" class="t8 m" style="font-size:8.5px">2 950</text>
<text transform="translate(235.2,978.20) rotate(-90)" class="t8 m" style="font-size:8.5px">2 950</text>
<text transform="translate(228.4,997.84) rotate(-90)" class="t8 m" style="font-size:8.5px">2 950</text>
<text transform="translate(235.2,1018.49) rotate(-90)" class="t8 m" style="font-size:8.5px">3 250</text>
<text transform="translate(241.6,1042.62) rotate(-90)" class="t8 m" style="font-size:8.5px">4 000</text>
<text transform="translate(228.4,1067.92) rotate(-90)" class="t8 m" style="font-size:8.5px">3 600</text>
<text transform="translate(235.2,1090.73) rotate(-90)" class="t8 m" style="font-size:8.5px">3 250</text>
<text transform="translate(228.4,1111.37) rotate(-90)" class="t8 m" style="font-size:8.5px">2 950</text>
<text transform="translate(235.2,1131.01) rotate(-90)" class="t8 m" style="font-size:8.5px">2 950</text>
<text transform="translate(228.4,1150.65) rotate(-90)" class="t8 m" style="font-size:8.5px">2 950</text>
<text transform="translate(235.2,1170.30) rotate(-90)" class="t8 m" style="font-size:8.5px">2 950</text>
<text transform="translate(228.4,1189.94) rotate(-90)" class="t8 m" style="font-size:8.5px">2 950</text>
<text transform="translate(235.2,1209.58) rotate(-90)" class="t8 m" style="font-size:8.5px">2 950</text>
<text transform="translate(228.4,1230.22) rotate(-90)" class="t8 m" style="font-size:8.5px">3 250</text>
<text transform="translate(235.2,1250.86) rotate(-90)" class="t8 m" style="font-size:8.5px">2 950</text>
<text transform="translate(228.4,1270.50) rotate(-90)" class="t8 m" style="font-size:8.5px">2 950</text>
<text transform="translate(235.2,1290.15) rotate(-90)" class="t8 m" style="font-size:8.5px">2 950</text>
<text transform="translate(228.4,1309.79) rotate(-90)" class="t8 m" style="font-size:8.5px">2 950</text>
<text transform="translate(235.2,1329.43) rotate(-90)" class="t8 m" style="font-size:8.5px">2 950</text>
<text transform="translate(228.4,1349.07) rotate(-90)" class="t8 m" style="font-size:8.5px">2 950</text>
<text transform="translate(235.2,1368.72) rotate(-90)" class="t8 m" style="font-size:8.5px">2 950</text>
<text transform="translate(228.4,1389.36) rotate(-90)" class="t8 m" style="font-size:8.5px">3 250</text>
<text transform="translate(235.2,1410.00) rotate(-90)" class="t8 m" style="font-size:8.5px">2 950</text>
<text transform="translate(228.4,1429.64) rotate(-90)" class="t8 m" style="font-size:8.5px">2 950</text>
<text transform="translate(235.2,1450.45) rotate(-90)" class="t8 m" style="font-size:8.5px">3 300</text>
<text transform="translate(228.4,1473.55) rotate(-90)" class="t8 m" style="font-size:8.5px">3 640</text>
<text transform="translate(235.2,1496.66) rotate(-90)" class="t8 m" style="font-size:8.5px">3 300</text>
<text transform="translate(228.4,1517.46) rotate(-90)" class="t8 m" style="font-size:8.5px">2 950</text>
<text transform="translate(235.2,1537.11) rotate(-90)" class="t8 m" style="font-size:8.5px">2 950</text>
<text transform="translate(228.4,1557.75) rotate(-90)" class="t8 m" style="font-size:8.5px">3 250</text>
<text transform="translate(235.2,1578.39) rotate(-90)" class="t8 m" style="font-size:8.5px">2 950</text>
<text transform="translate(228.4,1598.03) rotate(-90)" class="t8 m" style="font-size:8.5px">2 950</text>
<text transform="translate(235.2,1618.67) rotate(-90)" class="t8 m" style="font-size:8.5px">3 250</text>
<text transform="translate(228.4,1639.31) rotate(-90)" class="t8 m" style="font-size:8.5px">2 950</text>
<text transform="translate(235.2,1658.95) rotate(-90)" class="t8 m" style="font-size:8.5px">2 950</text>
<text transform="translate(228.4,1678.60) rotate(-90)" class="t8 m" style="font-size:8.5px">2 950</text>
<text transform="translate(235.2,1698.24) rotate(-90)" class="t8 m" style="font-size:8.5px">2 950</text>
<text transform="translate(241.6,1722.04) rotate(-90)" class="t8 m" style="font-size:8.5px">4 200</text>
<text transform="translate(241.6,1756.00) rotate(-90)" class="t8 m" style="font-size:8.5px">6 000</text>
<text transform="translate(241.6,1789.96) rotate(-90)" class="t8 m" style="font-size:8.5px">4 200</text>
<text transform="translate(235.2,1813.76) rotate(-90)" class="t8 m" style="font-size:8.5px">2 950</text>
<text transform="translate(228.4,1833.40) rotate(-90)" class="t8 m" style="font-size:8.5px">2 950</text>
<text transform="translate(235.2,1853.04) rotate(-90)" class="t8 m" style="font-size:8.5px">2 950</text>
<text transform="translate(228.4,1872.69) rotate(-90)" class="t8 m" style="font-size:8.5px">2 950</text>
<text transform="translate(235.2,1892.33) rotate(-90)" class="t8 m" style="font-size:8.5px">2 950</text>
<text transform="translate(241.6,1915.75) rotate(-90)" class="t8 m" style="font-size:8.5px">4 085</text>
<text transform="translate(241.6,1947.66) rotate(-90)" class="t8 m" style="font-size:8.5px">5 500</text>
<text transform="translate(241.6,1995.77) rotate(-90)" class="t8 m">2 450</text>
<text transform="translate(241.6,2023.5) rotate(-90)" class="t8 m">4 050</text>
</g>
<g id="prop">
<line x1="269.3" y1="4" x2="269.3" y2="2032" class="pl"/>
<line x1="894.6" y1="4" x2="894.6" y2="2032" class="pl"/>
<text transform="translate(281,98.5) rotate(-90)" class="t8" textLength="58" lengthAdjust="spacingAndGlyphs">PROPERTY LINE</text>
<text transform="translate(906.5,98.5) rotate(-90)" class="t8" textLength="58" lengthAdjust="spacingAndGlyphs">PROPERTY LINE</text>
</g>
<defs>
<pattern id="hat" width="2.3" height="2.3" patternUnits="userSpaceOnUse" patternTransform="rotate(-45)"><rect width="2.3" height="2.3" fill="#bbb"/><line x1="0" y1="0" x2="0" y2="2.3" stroke="#222" stroke-width="0.85"/></pattern>
<pattern id="hat2" width="2.3" height="2.3" patternUnits="userSpaceOnUse" patternTransform="rotate(-45)"><rect width="2.3" height="2.3" fill="#c2c2c2"/><line x1="0" y1="0" x2="0" y2="2.3" stroke="#333" stroke-width="0.7"/></pattern>
<pattern id="brick" width="3" height="2" patternUnits="userSpaceOnUse"><rect width="3" height="2" fill="#bbb"/><rect x="0" y="0" width="1.2" height="0.8" fill="#666"/></pattern>
<clipPath id="tclip"><polygon points="811.3,18.4 811.3,1740.0 315.4,1740.0 315.4,1608.0 338.5,1608.0 338.5,1462.5 357.5,1462.5 344.4,1378.0 445.6,382.8"/></clipPath>
<g id="wz0">
<path d="M505.2,4.3h7.4v10.4h-7.4zM522.6,4.3h7.9v10.4h-7.9zM547.7,4.3h8.0v10.4h-8.0zM568.2,4.3h6.3v10.4h-6.3zM596.9,4.3h8.5v10.4h-8.5zM624.8,4.3h8.0v10.4h-8.0zM652.6,4.3h8.0v10.4h-8.0zM671.9,4.3h9.3v10.4h-9.3zM700.6,4.3h8.8v10.4h-8.8zM728.6,4.3h8.8v10.4h-8.8zM754.4,4.3h8.0v10.4h-8.0zM778.8,4.3h8.1v10.4h-8.1zM795,4.3h8.7v10.4h-8.7z" fill="#fff" stroke="#3a3a3a" stroke-width="0.6"/>
<path d="M506.1,14.7L508.90,5.2L511.7,14.7M523.5,14.7L526.55,5.2L529.6,14.7M548.6,14.7L551.70,5.2L554.8,14.7M569.1,14.7L571.35,5.2L573.6,14.7M597.8,14.7L601.15,5.2L604.5,14.7M625.7,14.7L628.80,5.2L631.9,14.7M653.5,14.7L656.60,5.2L659.7,14.7M672.8,14.7L676.55,5.2L680.3,14.7M701.5,14.7L705.00,5.2L708.5,14.7M729.5,14.7L733.00,5.2L736.5,14.7M755.3,14.7L758.40,5.2L761.5,14.7M779.7,14.7L782.85,5.2L786.0,14.7M795.9,14.7L799.35,5.2L802.8,14.7" fill="none" stroke="#777" stroke-width="0.45"/>
<path d="M505.2,15.6h7.4v2.6h-7.4zM522.6,15.6h7.9v2.6h-7.9zM547.7,15.6h8.0v2.6h-8.0zM568.2,15.6h6.3v2.6h-6.3zM596.9,15.6h8.5v2.6h-8.5zM624.8,15.6h8.0v2.6h-8.0zM652.6,15.6h8.0v2.6h-8.0zM671.9,15.6h9.3v2.6h-9.3zM700.6,15.6h8.8v2.6h-8.8zM728.6,15.6h8.8v2.6h-8.8zM754.4,15.6h8.0v2.6h-8.0zM778.8,15.6h8.1v2.6h-8.1zM795,15.6h8.7v2.6h-8.7z" fill="#fff" stroke="#777" stroke-width="0.45"/>
</g>
<g id="wz1">
<path d="M505.2,4.3h7.4v10.4h-7.4zM522.6,4.3h7.9v10.4h-7.9zM547.7,4.3h8.0v10.4h-8.0zM568.2,4.3h6.3v10.4h-6.3zM596.9,4.3h8.5v10.4h-8.5zM624.8,4.3h8.0v10.4h-8.0zM652.6,4.3h8.0v10.4h-8.0zM671.9,4.3h9.3v10.4h-9.3zM700.6,4.3h8.8v10.4h-8.8zM728.6,4.3h8.8v10.4h-8.8zM754.4,4.3h8.0v10.4h-8.0zM778.8,4.3h8.1v10.4h-8.1zM795,4.3h8.7v10.4h-8.7z" fill="#fff" stroke="#3a3a3a" stroke-width="0.6"/>
<path d="M506.1,14.7L508.90,5.2L511.7,14.7M523.5,14.7L526.55,5.2L529.6,14.7M548.6,14.7L551.70,5.2L554.8,14.7M569.1,14.7L571.35,5.2L573.6,14.7M597.8,14.7L601.15,5.2L604.5,14.7M625.7,14.7L628.80,5.2L631.9,14.7M653.5,14.7L656.60,5.2L659.7,14.7M672.8,14.7L676.55,5.2L680.3,14.7M701.5,14.7L705.00,5.2L708.5,14.7M729.5,14.7L733.00,5.2L736.5,14.7M755.3,14.7L758.40,5.2L761.5,14.7M779.7,14.7L782.85,5.2L786.0,14.7M795.9,14.7L799.35,5.2L802.8,14.7" fill="none" stroke="#777" stroke-width="0.45"/>
<path d="M505.2,15.6h7.4v2.6h-7.4zM522.6,15.6h7.9v2.6h-7.9zM547.7,15.6h8.0v2.6h-8.0zM568.2,15.6h6.3v2.6h-6.3zM596.9,15.6h8.5v2.6h-8.5zM624.8,15.6h8.0v2.6h-8.0zM652.6,15.6h8.0v2.6h-8.0zM671.9,15.6h9.3v2.6h-9.3zM700.6,15.6h8.8v2.6h-8.8zM728.6,15.6h8.8v2.6h-8.8zM754.4,15.6h8.0v2.6h-8.0zM778.8,15.6h8.1v2.6h-8.1zM795,15.6h8.7v2.6h-8.7z" fill="#fff" stroke="#777" stroke-width="0.45"/>
</g>
<g id="wz2">
<path d="M488.0,4.3h7.4v10.4h-7.4zM505.2,4.3h7.4v10.4h-7.4zM522.6,4.3h7.9v10.4h-7.9zM547.7,4.3h8.0v10.4h-8.0zM568.2,4.3h6.3v10.4h-6.3zM596.9,4.3h8.5v10.4h-8.5zM624.8,4.3h8.0v10.4h-8.0zM652.6,4.3h8.0v10.4h-8.0zM671.9,4.3h9.3v10.4h-9.3zM700.6,4.3h8.8v10.4h-8.8zM728.6,4.3h8.8v10.4h-8.8zM754.4,4.3h8.0v10.4h-8.0zM778.8,4.3h8.1v10.4h-8.1zM795,4.3h8.7v10.4h-8.7z" fill="#fff" stroke="#3a3a3a" stroke-width="0.6"/>
<path d="M488.9,14.7L491.70,5.2L494.5,14.7M506.1,14.7L508.90,5.2L511.7,14.7M523.5,14.7L526.55,5.2L529.6,14.7M548.6,14.7L551.70,5.2L554.8,14.7M569.1,14.7L571.35,5.2L573.6,14.7M597.8,14.7L601.15,5.2L604.5,14.7M625.7,14.7L628.80,5.2L631.9,14.7M653.5,14.7L656.60,5.2L659.7,14.7M672.8,14.7L676.55,5.2L680.3,14.7M701.5,14.7L705.00,5.2L708.5,14.7M729.5,14.7L733.00,5.2L736.5,14.7M755.3,14.7L758.40,5.2L761.5,14.7M779.7,14.7L782.85,5.2L786.0,14.7M795.9,14.7L799.35,5.2L802.8,14.7" fill="none" stroke="#777" stroke-width="0.45"/>
<path d="M488.0,15.6h7.4v2.6h-7.4zM505.2,15.6h7.4v2.6h-7.4zM522.6,15.6h7.9v2.6h-7.9zM547.7,15.6h8.0v2.6h-8.0zM568.2,15.6h6.3v2.6h-6.3zM596.9,15.6h8.5v2.6h-8.5zM624.8,15.6h8.0v2.6h-8.0zM652.6,15.6h8.0v2.6h-8.0zM671.9,15.6h9.3v2.6h-9.3zM700.6,15.6h8.8v2.6h-8.8zM728.6,15.6h8.8v2.6h-8.8zM754.4,15.6h8.0v2.6h-8.0zM778.8,15.6h8.1v2.6h-8.1zM795,15.6h8.7v2.6h-8.7z" fill="#fff" stroke="#777" stroke-width="0.45"/>
</g>
<g id="wz3">
<path d="M488.0,4.3h7.4v10.4h-7.4zM505.2,4.3h7.4v10.4h-7.4zM522.6,4.3h7.9v10.4h-7.9zM547.7,4.3h8.0v10.4h-8.0zM568.2,4.3h6.3v10.4h-6.3zM596.9,4.3h8.5v10.4h-8.5zM624.8,4.3h8.0v10.4h-8.0zM652.6,4.3h8.0v10.4h-8.0zM671.9,4.3h9.3v10.4h-9.3zM700.6,4.3h8.8v10.4h-8.8zM728.6,4.3h8.8v10.4h-8.8zM754.4,4.3h8.0v10.4h-8.0zM778.8,4.3h8.1v10.4h-8.1zM795,4.3h8.7v10.4h-8.7z" fill="#fff" stroke="#3a3a3a" stroke-width="0.6"/>
<path d="M488.9,14.7L491.70,5.2L494.5,14.7M506.1,14.7L508.90,5.2L511.7,14.7M523.5,14.7L526.55,5.2L529.6,14.7M548.6,14.7L551.70,5.2L554.8,14.7M569.1,14.7L571.35,5.2L573.6,14.7M597.8,14.7L601.15,5.2L604.5,14.7M625.7,14.7L628.80,5.2L631.9,14.7M653.5,14.7L656.60,5.2L659.7,14.7M672.8,14.7L676.55,5.2L680.3,14.7M701.5,14.7L705.00,5.2L708.5,14.7M729.5,14.7L733.00,5.2L736.5,14.7M755.3,14.7L758.40,5.2L761.5,14.7M779.7,14.7L782.85,5.2L786.0,14.7M795.9,14.7L799.35,5.2L802.8,14.7" fill="none" stroke="#777" stroke-width="0.45"/>
<path d="M488.0,15.6h7.4v2.6h-7.4zM505.2,15.6h7.4v2.6h-7.4zM522.6,15.6h7.9v2.6h-7.9zM547.7,15.6h8.0v2.6h-8.0zM568.2,15.6h6.3v2.6h-6.3zM596.9,15.6h8.5v2.6h-8.5zM624.8,15.6h8.0v2.6h-8.0zM652.6,15.6h8.0v2.6h-8.0zM671.9,15.6h9.3v2.6h-9.3zM700.6,15.6h8.8v2.6h-8.8zM728.6,15.6h8.8v2.6h-8.8zM754.4,15.6h8.0v2.6h-8.0zM778.8,15.6h8.1v2.6h-8.1zM795,15.6h8.7v2.6h-8.7z" fill="#fff" stroke="#777" stroke-width="0.45"/>
</g>
<g id="wz4">
<path d="M488.0,4.3h7.4v10.4h-7.4zM505.2,4.3h7.4v10.4h-7.4zM522.6,4.3h7.9v10.4h-7.9zM547.7,4.3h8.0v10.4h-8.0zM568.2,4.3h6.3v10.4h-6.3zM596.9,4.3h8.5v10.4h-8.5zM624.8,4.3h8.0v10.4h-8.0zM652.6,4.3h8.0v10.4h-8.0zM671.9,4.3h9.3v10.4h-9.3zM700.6,4.3h8.8v10.4h-8.8zM728.6,4.3h8.8v10.4h-8.8zM754.4,4.3h8.0v10.4h-8.0zM778.8,4.3h8.1v10.4h-8.1zM795,4.3h8.7v10.4h-8.7z" fill="#fff" stroke="#3a3a3a" stroke-width="0.6"/>
<path d="M488.9,14.7L491.70,5.2L494.5,14.7M506.1,14.7L508.90,5.2L511.7,14.7M523.5,14.7L526.55,5.2L529.6,14.7M548.6,14.7L551.70,5.2L554.8,14.7M569.1,14.7L571.35,5.2L573.6,14.7M597.8,14.7L601.15,5.2L604.5,14.7M625.7,14.7L628.80,5.2L631.9,14.7M653.5,14.7L656.60,5.2L659.7,14.7M672.8,14.7L676.55,5.2L680.3,14.7M701.5,14.7L705.00,5.2L708.5,14.7M729.5,14.7L733.00,5.2L736.5,14.7M755.3,14.7L758.40,5.2L761.5,14.7M779.7,14.7L782.85,5.2L786.0,14.7M795.9,14.7L799.35,5.2L802.8,14.7" fill="none" stroke="#777" stroke-width="0.45"/>
<path d="M488.0,15.6h7.4v2.6h-7.4zM505.2,15.6h7.4v2.6h-7.4zM522.6,15.6h7.9v2.6h-7.9zM547.7,15.6h8.0v2.6h-8.0zM568.2,15.6h6.3v2.6h-6.3zM596.9,15.6h8.5v2.6h-8.5zM624.8,15.6h8.0v2.6h-8.0zM652.6,15.6h8.0v2.6h-8.0zM671.9,15.6h9.3v2.6h-9.3zM700.6,15.6h8.8v2.6h-8.8zM728.6,15.6h8.8v2.6h-8.8zM754.4,15.6h8.0v2.6h-8.0zM778.8,15.6h8.1v2.6h-8.1zM795,15.6h8.7v2.6h-8.7z" fill="#fff" stroke="#777" stroke-width="0.45"/>
</g>
<g id="wz5">
<path d="M488.0,4.3h7.4v10.4h-7.4zM505.2,4.3h7.4v10.4h-7.4zM522.6,4.3h7.9v10.4h-7.9zM547.7,4.3h8.0v10.4h-8.0zM568.2,4.3h6.3v10.4h-6.3zM596.9,4.3h8.5v10.4h-8.5zM624.8,4.3h8.0v10.4h-8.0zM652.6,4.3h8.0v10.4h-8.0zM671.9,4.3h9.3v10.4h-9.3zM700.6,4.3h8.8v10.4h-8.8zM728.6,4.3h8.8v10.4h-8.8zM754.4,4.3h8.0v10.4h-8.0zM778.8,4.3h8.1v10.4h-8.1zM795,4.3h8.7v10.4h-8.7z" fill="#fff" stroke="#3a3a3a" stroke-width="0.6"/>
<path d="M488.9,14.7L491.70,5.2L494.5,14.7M506.1,14.7L508.90,5.2L511.7,14.7M523.5,14.7L526.55,5.2L529.6,14.7M548.6,14.7L551.70,5.2L554.8,14.7M569.1,14.7L571.35,5.2L573.6,14.7M597.8,14.7L601.15,5.2L604.5,14.7M625.7,14.7L628.80,5.2L631.9,14.7M653.5,14.7L656.60,5.2L659.7,14.7M672.8,14.7L676.55,5.2L680.3,14.7M701.5,14.7L705.00,5.2L708.5,14.7M729.5,14.7L733.00,5.2L736.5,14.7M755.3,14.7L758.40,5.2L761.5,14.7M779.7,14.7L782.85,5.2L786.0,14.7M795.9,14.7L799.35,5.2L802.8,14.7" fill="none" stroke="#777" stroke-width="0.45"/>
<path d="M488.0,15.6h7.4v2.6h-7.4zM505.2,15.6h7.4v2.6h-7.4zM522.6,15.6h7.9v2.6h-7.9zM547.7,15.6h8.0v2.6h-8.0zM568.2,15.6h6.3v2.6h-6.3zM596.9,15.6h8.5v2.6h-8.5zM624.8,15.6h8.0v2.6h-8.0zM652.6,15.6h8.0v2.6h-8.0zM671.9,15.6h9.3v2.6h-9.3zM700.6,15.6h8.8v2.6h-8.8zM728.6,15.6h8.8v2.6h-8.8zM754.4,15.6h8.0v2.6h-8.0zM778.8,15.6h8.1v2.6h-8.1zM795,15.6h8.7v2.6h-8.7z" fill="#fff" stroke="#777" stroke-width="0.45"/>
</g>
<g id="wz6">
<path d="M445.8,4.3h7.8v10.4h-7.8zM488.0,4.3h7.4v10.4h-7.4zM505.2,4.3h7.4v10.4h-7.4zM522.6,4.3h7.9v10.4h-7.9zM547.7,4.3h8.0v10.4h-8.0zM568.2,4.3h6.3v10.4h-6.3zM596.9,4.3h8.5v10.4h-8.5zM624.8,4.3h8.0v10.4h-8.0zM652.6,4.3h8.0v10.4h-8.0zM671.9,4.3h9.3v10.4h-9.3zM700.6,4.3h8.8v10.4h-8.8zM728.6,4.3h8.8v10.4h-8.8zM754.4,4.3h8.0v10.4h-8.0zM778.8,4.3h8.1v10.4h-8.1zM795,4.3h8.7v10.4h-8.7z" fill="#fff" stroke="#3a3a3a" stroke-width="0.6"/>
<path d="M446.7,14.7L449.70,5.2L452.7,14.7M488.9,14.7L491.70,5.2L494.5,14.7M506.1,14.7L508.90,5.2L511.7,14.7M523.5,14.7L526.55,5.2L529.6,14.7M548.6,14.7L551.70,5.2L554.8,14.7M569.1,14.7L571.35,5.2L573.6,14.7M597.8,14.7L601.15,5.2L604.5,14.7M625.7,14.7L628.80,5.2L631.9,14.7M653.5,14.7L656.60,5.2L659.7,14.7M672.8,14.7L676.55,5.2L680.3,14.7M701.5,14.7L705.00,5.2L708.5,14.7M729.5,14.7L733.00,5.2L736.5,14.7M755.3,14.7L758.40,5.2L761.5,14.7M779.7,14.7L782.85,5.2L786.0,14.7M795.9,14.7L799.35,5.2L802.8,14.7" fill="none" stroke="#777" stroke-width="0.45"/>
<path d="M445.8,15.6h7.8v2.6h-7.8zM488.0,15.6h7.4v2.6h-7.4zM505.2,15.6h7.4v2.6h-7.4zM522.6,15.6h7.9v2.6h-7.9zM547.7,15.6h8.0v2.6h-8.0zM568.2,15.6h6.3v2.6h-6.3zM596.9,15.6h8.5v2.6h-8.5zM624.8,15.6h8.0v2.6h-8.0zM652.6,15.6h8.0v2.6h-8.0zM671.9,15.6h9.3v2.6h-9.3zM700.6,15.6h8.8v2.6h-8.8zM728.6,15.6h8.8v2.6h-8.8zM754.4,15.6h8.0v2.6h-8.0zM778.8,15.6h8.1v2.6h-8.1zM795,15.6h8.7v2.6h-8.7z" fill="#fff" stroke="#777" stroke-width="0.45"/>
</g>
<g id="wz7">
<path d="M488.0,4.3h7.4v10.4h-7.4zM505.2,4.3h7.4v10.4h-7.4zM522.6,4.3h7.9v10.4h-7.9zM547.7,4.3h8.0v10.4h-8.0zM568.2,4.3h6.3v10.4h-6.3zM596.9,4.3h8.5v10.4h-8.5zM624.8,4.3h8.0v10.4h-8.0zM652.6,4.3h8.0v10.4h-8.0zM671.9,4.3h9.3v10.4h-9.3zM700.6,4.3h8.8v10.4h-8.8zM728.6,4.3h8.8v10.4h-8.8zM754.4,4.3h8.0v10.4h-8.0zM778.8,4.3h8.1v10.4h-8.1zM795,4.3h8.7v10.4h-8.7z" fill="#fff" stroke="#3a3a3a" stroke-width="0.6"/>
<path d="M488.9,14.7L491.70,5.2L494.5,14.7M506.1,14.7L508.90,5.2L511.7,14.7M523.5,14.7L526.55,5.2L529.6,14.7M548.6,14.7L551.70,5.2L554.8,14.7M569.1,14.7L571.35,5.2L573.6,14.7M597.8,14.7L601.15,5.2L604.5,14.7M625.7,14.7L628.80,5.2L631.9,14.7M653.5,14.7L656.60,5.2L659.7,14.7M672.8,14.7L676.55,5.2L680.3,14.7M701.5,14.7L705.00,5.2L708.5,14.7M729.5,14.7L733.00,5.2L736.5,14.7M755.3,14.7L758.40,5.2L761.5,14.7M779.7,14.7L782.85,5.2L786.0,14.7M795.9,14.7L799.35,5.2L802.8,14.7" fill="none" stroke="#777" stroke-width="0.45"/>
<path d="M488.0,15.6h7.4v2.6h-7.4zM505.2,15.6h7.4v2.6h-7.4zM522.6,15.6h7.9v2.6h-7.9zM547.7,15.6h8.0v2.6h-8.0zM568.2,15.6h6.3v2.6h-6.3zM596.9,15.6h8.5v2.6h-8.5zM624.8,15.6h8.0v2.6h-8.0zM652.6,15.6h8.0v2.6h-8.0zM671.9,15.6h9.3v2.6h-9.3zM700.6,15.6h8.8v2.6h-8.8zM728.6,15.6h8.8v2.6h-8.8zM754.4,15.6h8.0v2.6h-8.0zM778.8,15.6h8.1v2.6h-8.1zM795,15.6h8.7v2.6h-8.7z" fill="#fff" stroke="#777" stroke-width="0.45"/>
</g>
<g id="wz8">
<path d="M488.0,4.3h7.4v10.4h-7.4zM505.2,4.3h7.4v10.4h-7.4zM522.6,4.3h7.9v10.4h-7.9zM547.7,4.3h8.0v10.4h-8.0zM568.2,4.3h6.3v10.4h-6.3zM596.9,4.3h8.5v10.4h-8.5zM624.8,4.3h8.0v10.4h-8.0zM652.6,4.3h8.0v10.4h-8.0zM671.9,4.3h9.3v10.4h-9.3zM700.6,4.3h8.8v10.4h-8.8zM728.6,4.3h8.8v10.4h-8.8zM754.4,4.3h8.0v10.4h-8.0zM778.8,4.3h8.1v10.4h-8.1zM795,4.3h8.7v10.4h-8.7z" fill="#fff" stroke="#3a3a3a" stroke-width="0.6"/>
<path d="M488.9,14.7L491.70,5.2L494.5,14.7M506.1,14.7L508.90,5.2L511.7,14.7M523.5,14.7L526.55,5.2L529.6,14.7M548.6,14.7L551.70,5.2L554.8,14.7M569.1,14.7L571.35,5.2L573.6,14.7M597.8,14.7L601.15,5.2L604.5,14.7M625.7,14.7L628.80,5.2L631.9,14.7M653.5,14.7L656.60,5.2L659.7,14.7M672.8,14.7L676.55,5.2L680.3,14.7M701.5,14.7L705.00,5.2L708.5,14.7M729.5,14.7L733.00,5.2L736.5,14.7M755.3,14.7L758.40,5.2L761.5,14.7M779.7,14.7L782.85,5.2L786.0,14.7M795.9,14.7L799.35,5.2L802.8,14.7" fill="none" stroke="#777" stroke-width="0.45"/>
<path d="M488.0,15.6h7.4v2.6h-7.4zM505.2,15.6h7.4v2.6h-7.4zM522.6,15.6h7.9v2.6h-7.9zM547.7,15.6h8.0v2.6h-8.0zM568.2,15.6h6.3v2.6h-6.3zM596.9,15.6h8.5v2.6h-8.5zM624.8,15.6h8.0v2.6h-8.0zM652.6,15.6h8.0v2.6h-8.0zM671.9,15.6h9.3v2.6h-9.3zM700.6,15.6h8.8v2.6h-8.8zM728.6,15.6h8.8v2.6h-8.8zM754.4,15.6h8.0v2.6h-8.0zM778.8,15.6h8.1v2.6h-8.1zM795,15.6h8.7v2.6h-8.7z" fill="#fff" stroke="#777" stroke-width="0.45"/>
</g>
<g id="wz9">
<path d="M488.0,4.3h7.4v10.4h-7.4zM505.2,4.3h7.4v10.4h-7.4zM522.6,4.3h7.9v10.4h-7.9zM547.7,4.3h8.0v10.4h-8.0zM568.2,4.3h6.3v10.4h-6.3zM596.9,4.3h8.5v10.4h-8.5zM624.8,4.3h8.0v10.4h-8.0zM652.6,4.3h8.0v10.4h-8.0zM671.9,4.3h9.3v10.4h-9.3zM700.6,4.3h8.8v10.4h-8.8zM728.6,4.3h8.8v10.4h-8.8zM754.4,4.3h8.0v10.4h-8.0zM778.8,4.3h8.1v10.4h-8.1zM795,4.3h8.7v10.4h-8.7z" fill="#fff" stroke="#3a3a3a" stroke-width="0.6"/>
<path d="M488.9,14.7L491.70,5.2L494.5,14.7M506.1,14.7L508.90,5.2L511.7,14.7M523.5,14.7L526.55,5.2L529.6,14.7M548.6,14.7L551.70,5.2L554.8,14.7M569.1,14.7L571.35,5.2L573.6,14.7M597.8,14.7L601.15,5.2L604.5,14.7M625.7,14.7L628.80,5.2L631.9,14.7M653.5,14.7L656.60,5.2L659.7,14.7M672.8,14.7L676.55,5.2L680.3,14.7M701.5,14.7L705.00,5.2L708.5,14.7M729.5,14.7L733.00,5.2L736.5,14.7M755.3,14.7L758.40,5.2L761.5,14.7M779.7,14.7L782.85,5.2L786.0,14.7M795.9,14.7L799.35,5.2L802.8,14.7" fill="none" stroke="#777" stroke-width="0.45"/>
<path d="M488.0,15.6h7.4v2.6h-7.4zM505.2,15.6h7.4v2.6h-7.4zM522.6,15.6h7.9v2.6h-7.9zM547.7,15.6h8.0v2.6h-8.0zM568.2,15.6h6.3v2.6h-6.3zM596.9,15.6h8.5v2.6h-8.5zM624.8,15.6h8.0v2.6h-8.0zM652.6,15.6h8.0v2.6h-8.0zM671.9,15.6h9.3v2.6h-9.3zM700.6,15.6h8.8v2.6h-8.8zM728.6,15.6h8.8v2.6h-8.8zM754.4,15.6h8.0v2.6h-8.0zM778.8,15.6h8.1v2.6h-8.1zM795,15.6h8.7v2.6h-8.7z" fill="#fff" stroke="#777" stroke-width="0.45"/>
</g>
<g id="wz10">
<path d="M488.0,4.3h7.4v10.4h-7.4zM505.2,4.3h7.4v10.4h-7.4zM522.6,4.3h7.9v10.4h-7.9zM547.7,4.3h8.0v10.4h-8.0zM568.2,4.3h6.3v10.4h-6.3zM596.9,4.3h8.5v10.4h-8.5zM624.8,4.3h8.0v10.4h-8.0zM652.6,4.3h8.0v10.4h-8.0zM671.9,4.3h9.3v10.4h-9.3zM700.6,4.3h8.8v10.4h-8.8zM728.6,4.3h8.8v10.4h-8.8zM754.4,4.3h8.0v10.4h-8.0zM778.8,4.3h8.1v10.4h-8.1zM795,4.3h8.7v10.4h-8.7z" fill="#fff" stroke="#3a3a3a" stroke-width="0.6"/>
<path d="M488.9,14.7L491.70,5.2L494.5,14.7M506.1,14.7L508.90,5.2L511.7,14.7M523.5,14.7L526.55,5.2L529.6,14.7M548.6,14.7L551.70,5.2L554.8,14.7M569.1,14.7L571.35,5.2L573.6,14.7M597.8,14.7L601.15,5.2L604.5,14.7M625.7,14.7L628.80,5.2L631.9,14.7M653.5,14.7L656.60,5.2L659.7,14.7M672.8,14.7L676.55,5.2L680.3,14.7M701.5,14.7L705.00,5.2L708.5,14.7M729.5,14.7L733.00,5.2L736.5,14.7M755.3,14.7L758.40,5.2L761.5,14.7M779.7,14.7L782.85,5.2L786.0,14.7M795.9,14.7L799.35,5.2L802.8,14.7" fill="none" stroke="#777" stroke-width="0.45"/>
<path d="M488.0,15.6h7.4v2.6h-7.4zM505.2,15.6h7.4v2.6h-7.4zM522.6,15.6h7.9v2.6h-7.9zM547.7,15.6h8.0v2.6h-8.0zM568.2,15.6h6.3v2.6h-6.3zM596.9,15.6h8.5v2.6h-8.5zM624.8,15.6h8.0v2.6h-8.0zM652.6,15.6h8.0v2.6h-8.0zM671.9,15.6h9.3v2.6h-9.3zM700.6,15.6h8.8v2.6h-8.8zM728.6,15.6h8.8v2.6h-8.8zM754.4,15.6h8.0v2.6h-8.0zM778.8,15.6h8.1v2.6h-8.1zM795,15.6h8.7v2.6h-8.7z" fill="#fff" stroke="#777" stroke-width="0.45"/>
</g>
<g id="wz11">
<path d="M421.5,4.3h7.7v10.4h-7.7zM488.0,4.3h7.4v10.4h-7.4zM505.2,4.3h7.4v10.4h-7.4zM522.6,4.3h7.9v10.4h-7.9zM547.7,4.3h8.0v10.4h-8.0zM568.2,4.3h6.3v10.4h-6.3zM596.9,4.3h8.5v10.4h-8.5zM624.8,4.3h8.0v10.4h-8.0zM652.6,4.3h8.0v10.4h-8.0zM671.9,4.3h9.3v10.4h-9.3zM700.6,4.3h8.8v10.4h-8.8zM728.6,4.3h8.8v10.4h-8.8zM754.4,4.3h8.0v10.4h-8.0zM778.8,4.3h8.1v10.4h-8.1zM795,4.3h8.7v10.4h-8.7z" fill="#fff" stroke="#3a3a3a" stroke-width="0.6"/>
<path d="M422.4,14.7L425.35,5.2L428.3,14.7M488.9,14.7L491.70,5.2L494.5,14.7M506.1,14.7L508.90,5.2L511.7,14.7M523.5,14.7L526.55,5.2L529.6,14.7M548.6,14.7L551.70,5.2L554.8,14.7M569.1,14.7L571.35,5.2L573.6,14.7M597.8,14.7L601.15,5.2L604.5,14.7M625.7,14.7L628.80,5.2L631.9,14.7M653.5,14.7L656.60,5.2L659.7,14.7M672.8,14.7L676.55,5.2L680.3,14.7M701.5,14.7L705.00,5.2L708.5,14.7M729.5,14.7L733.00,5.2L736.5,14.7M755.3,14.7L758.40,5.2L761.5,14.7M779.7,14.7L782.85,5.2L786.0,14.7M795.9,14.7L799.35,5.2L802.8,14.7" fill="none" stroke="#777" stroke-width="0.45"/>
<path d="M421.5,15.6h7.7v2.6h-7.7zM488.0,15.6h7.4v2.6h-7.4zM505.2,15.6h7.4v2.6h-7.4zM522.6,15.6h7.9v2.6h-7.9zM547.7,15.6h8.0v2.6h-8.0zM568.2,15.6h6.3v2.6h-6.3zM596.9,15.6h8.5v2.6h-8.5zM624.8,15.6h8.0v2.6h-8.0zM652.6,15.6h8.0v2.6h-8.0zM671.9,15.6h9.3v2.6h-9.3zM700.6,15.6h8.8v2.6h-8.8zM728.6,15.6h8.8v2.6h-8.8zM754.4,15.6h8.0v2.6h-8.0zM778.8,15.6h8.1v2.6h-8.1zM795,15.6h8.7v2.6h-8.7z" fill="#fff" stroke="#777" stroke-width="0.45"/>
</g>
<g id="wz12">
<path d="M421.5,4.3h7.7v10.4h-7.7zM479.2,4.3h8.3v10.4h-8.3zM505.2,4.3h7.4v10.4h-7.4zM522.6,4.3h7.9v10.4h-7.9zM547.7,4.3h8.0v10.4h-8.0zM568.2,4.3h6.3v10.4h-6.3zM596.9,4.3h8.5v10.4h-8.5zM624.8,4.3h8.0v10.4h-8.0zM652.6,4.3h8.0v10.4h-8.0zM671.9,4.3h9.3v10.4h-9.3zM700.6,4.3h8.8v10.4h-8.8zM728.6,4.3h8.8v10.4h-8.8zM754.4,4.3h8.0v10.4h-8.0zM778.8,4.3h8.1v10.4h-8.1zM795,4.3h8.7v10.4h-8.7z" fill="#fff" stroke="#3a3a3a" stroke-width="0.6"/>
<path d="M422.4,14.7L425.35,5.2L428.3,14.7M480.1,14.7L483.35,5.2L486.6,14.7M506.1,14.7L508.90,5.2L511.7,14.7M523.5,14.7L526.55,5.2L529.6,14.7M548.6,14.7L551.70,5.2L554.8,14.7M569.1,14.7L571.35,5.2L573.6,14.7M597.8,14.7L601.15,5.2L604.5,14.7M625.7,14.7L628.80,5.2L631.9,14.7M653.5,14.7L656.60,5.2L659.7,14.7M672.8,14.7L676.55,5.2L680.3,14.7M701.5,14.7L705.00,5.2L708.5,14.7M729.5,14.7L733.00,5.2L736.5,14.7M755.3,14.7L758.40,5.2L761.5,14.7M779.7,14.7L782.85,5.2L786.0,14.7M795.9,14.7L799.35,5.2L802.8,14.7" fill="none" stroke="#777" stroke-width="0.45"/>
<path d="M421.5,15.6h7.7v2.6h-7.7zM479.2,15.6h8.3v2.6h-8.3zM505.2,15.6h7.4v2.6h-7.4zM522.6,15.6h7.9v2.6h-7.9zM547.7,15.6h8.0v2.6h-8.0zM568.2,15.6h6.3v2.6h-6.3zM596.9,15.6h8.5v2.6h-8.5zM624.8,15.6h8.0v2.6h-8.0zM652.6,15.6h8.0v2.6h-8.0zM671.9,15.6h9.3v2.6h-9.3zM700.6,15.6h8.8v2.6h-8.8zM728.6,15.6h8.8v2.6h-8.8zM754.4,15.6h8.0v2.6h-8.0zM778.8,15.6h8.1v2.6h-8.1zM795,15.6h8.7v2.6h-8.7z" fill="#fff" stroke="#777" stroke-width="0.45"/>
</g>
<g id="wz13">
<path d="M421.5,4.3h7.7v10.4h-7.7zM479.2,4.3h8.3v10.4h-8.3zM505.2,4.3h7.4v10.4h-7.4zM522.6,4.3h7.9v10.4h-7.9zM547.7,4.3h8.0v10.4h-8.0zM568.2,4.3h6.3v10.4h-6.3zM596.9,4.3h8.5v10.4h-8.5zM624.8,4.3h8.0v10.4h-8.0zM652.6,4.3h8.0v10.4h-8.0zM671.9,4.3h9.3v10.4h-9.3zM700.6,4.3h8.8v10.4h-8.8zM728.6,4.3h8.8v10.4h-8.8zM754.4,4.3h8.0v10.4h-8.0zM778.8,4.3h8.1v10.4h-8.1zM795,4.3h8.7v10.4h-8.7z" fill="#fff" stroke="#3a3a3a" stroke-width="0.6"/>
<path d="M422.4,14.7L425.35,5.2L428.3,14.7M480.1,14.7L483.35,5.2L486.6,14.7M506.1,14.7L508.90,5.2L511.7,14.7M523.5,14.7L526.55,5.2L529.6,14.7M548.6,14.7L551.70,5.2L554.8,14.7M569.1,14.7L571.35,5.2L573.6,14.7M597.8,14.7L601.15,5.2L604.5,14.7M625.7,14.7L628.80,5.2L631.9,14.7M653.5,14.7L656.60,5.2L659.7,14.7M672.8,14.7L676.55,5.2L680.3,14.7M701.5,14.7L705.00,5.2L708.5,14.7M729.5,14.7L733.00,5.2L736.5,14.7M755.3,14.7L758.40,5.2L761.5,14.7M779.7,14.7L782.85,5.2L786.0,14.7M795.9,14.7L799.35,5.2L802.8,14.7" fill="none" stroke="#777" stroke-width="0.45"/>
<path d="M421.5,15.6h7.7v2.6h-7.7zM479.2,15.6h8.3v2.6h-8.3zM505.2,15.6h7.4v2.6h-7.4zM522.6,15.6h7.9v2.6h-7.9zM547.7,15.6h8.0v2.6h-8.0zM568.2,15.6h6.3v2.6h-6.3zM596.9,15.6h8.5v2.6h-8.5zM624.8,15.6h8.0v2.6h-8.0zM652.6,15.6h8.0v2.6h-8.0zM671.9,15.6h9.3v2.6h-9.3zM700.6,15.6h8.8v2.6h-8.8zM728.6,15.6h8.8v2.6h-8.8zM754.4,15.6h8.0v2.6h-8.0zM778.8,15.6h8.1v2.6h-8.1zM795,15.6h8.7v2.6h-8.7z" fill="#fff" stroke="#777" stroke-width="0.45"/>
</g>
<g id="wz14">
<path d="M368.9,4.3h7.5v10.4h-7.5zM437.9,4.3h7.5v10.4h-7.5zM464.2,4.3h6.3v10.4h-6.3zM479.2,4.3h8.3v10.4h-8.3zM505.2,4.3h7.4v10.4h-7.4zM522.6,4.3h7.9v10.4h-7.9zM547.7,4.3h8.0v10.4h-8.0zM568.2,4.3h6.3v10.4h-6.3zM596.9,4.3h8.5v10.4h-8.5zM624.8,4.3h8.0v10.4h-8.0zM652.6,4.3h8.0v10.4h-8.0zM671.9,4.3h9.3v10.4h-9.3zM700.6,4.3h8.8v10.4h-8.8zM728.6,4.3h8.8v10.4h-8.8zM754.4,4.3h8.0v10.4h-8.0zM778.8,4.3h8.1v10.4h-8.1zM795,4.3h8.7v10.4h-8.7z" fill="#fff" stroke="#3a3a3a" stroke-width="0.6"/>
<path d="M369.8,14.7L372.65,5.2L375.5,14.7M438.8,14.7L441.65,5.2L444.5,14.7M465.1,14.7L467.35,5.2L469.6,14.7M480.1,14.7L483.35,5.2L486.6,14.7M506.1,14.7L508.90,5.2L511.7,14.7M523.5,14.7L526.55,5.2L529.6,14.7M548.6,14.7L551.70,5.2L554.8,14.7M569.1,14.7L571.35,5.2L573.6,14.7M597.8,14.7L601.15,5.2L604.5,14.7M625.7,14.7L628.80,5.2L631.9,14.7M653.5,14.7L656.60,5.2L659.7,14.7M672.8,14.7L676.55,5.2L680.3,14.7M701.5,14.7L705.00,5.2L708.5,14.7M729.5,14.7L733.00,5.2L736.5,14.7M755.3,14.7L758.40,5.2L761.5,14.7M779.7,14.7L782.85,5.2L786.0,14.7M795.9,14.7L799.35,5.2L802.8,14.7" fill="none" stroke="#777" stroke-width="0.45"/>
<path d="M368.9,15.6h7.5v2.6h-7.5zM437.9,15.6h7.5v2.6h-7.5zM464.2,15.6h6.3v2.6h-6.3zM479.2,15.6h8.3v2.6h-8.3zM505.2,15.6h7.4v2.6h-7.4zM522.6,15.6h7.9v2.6h-7.9zM547.7,15.6h8.0v2.6h-8.0zM568.2,15.6h6.3v2.6h-6.3zM596.9,15.6h8.5v2.6h-8.5zM624.8,15.6h8.0v2.6h-8.0zM652.6,15.6h8.0v2.6h-8.0zM671.9,15.6h9.3v2.6h-9.3zM700.6,15.6h8.8v2.6h-8.8zM728.6,15.6h8.8v2.6h-8.8zM754.4,15.6h8.0v2.6h-8.0zM778.8,15.6h8.1v2.6h-8.1zM795,15.6h8.7v2.6h-8.7z" fill="#fff" stroke="#777" stroke-width="0.45"/>
</g>
<g id="wz15">
<path d="M368.9,4.3h7.5v10.4h-7.5zM421.5,4.3h7.7v10.4h-7.7zM446.3,4.3h7.5v10.4h-7.5zM464.2,4.3h6.3v10.4h-6.3zM479.2,4.3h8.3v10.4h-8.3zM505.2,4.3h7.4v10.4h-7.4zM522.6,4.3h7.9v10.4h-7.9zM547.7,4.3h8.0v10.4h-8.0zM568.2,4.3h6.3v10.4h-6.3zM596.9,4.3h8.5v10.4h-8.5zM624.8,4.3h8.0v10.4h-8.0zM652.6,4.3h8.0v10.4h-8.0zM671.9,4.3h9.3v10.4h-9.3zM700.6,4.3h8.8v10.4h-8.8zM728.6,4.3h8.8v10.4h-8.8zM754.4,4.3h8.0v10.4h-8.0zM778.8,4.3h8.1v10.4h-8.1zM795,4.3h8.7v10.4h-8.7z" fill="#fff" stroke="#3a3a3a" stroke-width="0.6"/>
<path d="M369.8,14.7L372.65,5.2L375.5,14.7M422.4,14.7L425.35,5.2L428.3,14.7M447.2,14.7L450.05,5.2L452.9,14.7M465.1,14.7L467.35,5.2L469.6,14.7M480.1,14.7L483.35,5.2L486.6,14.7M506.1,14.7L508.90,5.2L511.7,14.7M523.5,14.7L526.55,5.2L529.6,14.7M548.6,14.7L551.70,5.2L554.8,14.7M569.1,14.7L571.35,5.2L573.6,14.7M597.8,14.7L601.15,5.2L604.5,14.7M625.7,14.7L628.80,5.2L631.9,14.7M653.5,14.7L656.60,5.2L659.7,14.7M672.8,14.7L676.55,5.2L680.3,14.7M701.5,14.7L705.00,5.2L708.5,14.7M729.5,14.7L733.00,5.2L736.5,14.7M755.3,14.7L758.40,5.2L761.5,14.7M779.7,14.7L782.85,5.2L786.0,14.7M795.9,14.7L799.35,5.2L802.8,14.7" fill="none" stroke="#777" stroke-width="0.45"/>
<path d="M368.9,15.6h7.5v2.6h-7.5zM421.5,15.6h7.7v2.6h-7.7zM446.3,15.6h7.5v2.6h-7.5zM464.2,15.6h6.3v2.6h-6.3zM479.2,15.6h8.3v2.6h-8.3zM505.2,15.6h7.4v2.6h-7.4zM522.6,15.6h7.9v2.6h-7.9zM547.7,15.6h8.0v2.6h-8.0zM568.2,15.6h6.3v2.6h-6.3zM596.9,15.6h8.5v2.6h-8.5zM624.8,15.6h8.0v2.6h-8.0zM652.6,15.6h8.0v2.6h-8.0zM671.9,15.6h9.3v2.6h-9.3zM700.6,15.6h8.8v2.6h-8.8zM728.6,15.6h8.8v2.6h-8.8zM754.4,15.6h8.0v2.6h-8.0zM778.8,15.6h8.1v2.6h-8.1zM795,15.6h8.7v2.6h-8.7z" fill="#fff" stroke="#777" stroke-width="0.45"/>
</g>
<g id="wz16">
<path d="M348.3,4.3h8.3v10.4h-8.3zM377.6,4.3h7.4v10.4h-7.4zM402.3,4.3h8.7v10.4h-8.7zM422.2,4.3h7.4v10.4h-7.4zM437.6,4.3h7.9v10.4h-7.9zM464.1,4.3h6.4v10.4h-6.4zM478.5,4.3h8.0v10.4h-8.0zM505.2,4.3h7.4v10.4h-7.4zM522.6,4.3h7.9v10.4h-7.9zM547.7,4.3h8.0v10.4h-8.0zM568.2,4.3h6.3v10.4h-6.3zM596.9,4.3h8.5v10.4h-8.5zM624.8,4.3h8.0v10.4h-8.0zM652.6,4.3h8.0v10.4h-8.0zM671.9,4.3h9.3v10.4h-9.3zM700.6,4.3h8.8v10.4h-8.8zM728.6,4.3h8.8v10.4h-8.8zM754.4,4.3h8.0v10.4h-8.0zM778.8,4.3h8.1v10.4h-8.1zM795,4.3h8.7v10.4h-8.7z" fill="#fff" stroke="#3a3a3a" stroke-width="0.6"/>
<path d="M349.2,14.7L352.45,5.2L355.7,14.7M378.5,14.7L381.30,5.2L384.1,14.7M403.2,14.7L406.65,5.2L410.1,14.7M423.1,14.7L425.90,5.2L428.7,14.7M438.5,14.7L441.55,5.2L444.6,14.7M465.0,14.7L467.30,5.2L469.6,14.7M479.4,14.7L482.50,5.2L485.6,14.7M506.1,14.7L508.90,5.2L511.7,14.7M523.5,14.7L526.55,5.2L529.6,14.7M548.6,14.7L551.70,5.2L554.8,14.7M569.1,14.7L571.35,5.2L573.6,14.7M597.8,14.7L601.15,5.2L604.5,14.7M625.7,14.7L628.80,5.2L631.9,14.7M653.5,14.7L656.60,5.2L659.7,14.7M672.8,14.7L676.55,5.2L680.3,14.7M701.5,14.7L705.00,5.2L708.5,14.7M729.5,14.7L733.00,5.2L736.5,14.7M755.3,14.7L758.40,5.2L761.5,14.7M779.7,14.7L782.85,5.2L786.0,14.7M795.9,14.7L799.35,5.2L802.8,14.7" fill="none" stroke="#777" stroke-width="0.45"/>
<path d="M348.3,15.6h8.3v2.6h-8.3zM377.6,15.6h7.4v2.6h-7.4zM402.3,15.6h8.7v2.6h-8.7zM422.2,15.6h7.4v2.6h-7.4zM437.6,15.6h7.9v2.6h-7.9zM464.1,15.6h6.4v2.6h-6.4zM478.5,15.6h8.0v2.6h-8.0zM505.2,15.6h7.4v2.6h-7.4zM522.6,15.6h7.9v2.6h-7.9zM547.7,15.6h8.0v2.6h-8.0zM568.2,15.6h6.3v2.6h-6.3zM596.9,15.6h8.5v2.6h-8.5zM624.8,15.6h8.0v2.6h-8.0zM652.6,15.6h8.0v2.6h-8.0zM671.9,15.6h9.3v2.6h-9.3zM700.6,15.6h8.8v2.6h-8.8zM728.6,15.6h8.8v2.6h-8.8zM754.4,15.6h8.0v2.6h-8.0zM778.8,15.6h8.1v2.6h-8.1zM795,15.6h8.7v2.6h-8.7z" fill="#fff" stroke="#777" stroke-width="0.45"/>
</g>
<g id="wz17">
<path d="M348.3,4.3h8.3v10.4h-8.3zM377.6,4.3h7.4v10.4h-7.4zM402.3,4.3h8.7v10.4h-8.7zM422.2,4.3h7.4v10.4h-7.4zM437.6,4.3h7.9v10.4h-7.9zM464.1,4.3h6.4v10.4h-6.4zM478.5,4.3h8.0v10.4h-8.0zM505.2,4.3h7.4v10.4h-7.4zM522.6,4.3h7.9v10.4h-7.9zM547.7,4.3h8.0v10.4h-8.0zM568.2,4.3h6.3v10.4h-6.3zM596.9,4.3h8.5v10.4h-8.5zM624.8,4.3h8.0v10.4h-8.0zM652.6,4.3h8.0v10.4h-8.0zM671.9,4.3h9.3v10.4h-9.3zM700.6,4.3h8.8v10.4h-8.8zM728.6,4.3h8.8v10.4h-8.8zM754.4,4.3h8.0v10.4h-8.0zM778.8,4.3h8.1v10.4h-8.1zM795,4.3h8.7v10.4h-8.7z" fill="#fff" stroke="#3a3a3a" stroke-width="0.6"/>
<path d="M349.2,14.7L352.45,5.2L355.7,14.7M378.5,14.7L381.30,5.2L384.1,14.7M403.2,14.7L406.65,5.2L410.1,14.7M423.1,14.7L425.90,5.2L428.7,14.7M438.5,14.7L441.55,5.2L444.6,14.7M465.0,14.7L467.30,5.2L469.6,14.7M479.4,14.7L482.50,5.2L485.6,14.7M506.1,14.7L508.90,5.2L511.7,14.7M523.5,14.7L526.55,5.2L529.6,14.7M548.6,14.7L551.70,5.2L554.8,14.7M569.1,14.7L571.35,5.2L573.6,14.7M597.8,14.7L601.15,5.2L604.5,14.7M625.7,14.7L628.80,5.2L631.9,14.7M653.5,14.7L656.60,5.2L659.7,14.7M672.8,14.7L676.55,5.2L680.3,14.7M701.5,14.7L705.00,5.2L708.5,14.7M729.5,14.7L733.00,5.2L736.5,14.7M755.3,14.7L758.40,5.2L761.5,14.7M779.7,14.7L782.85,5.2L786.0,14.7M795.9,14.7L799.35,5.2L802.8,14.7" fill="none" stroke="#777" stroke-width="0.45"/>
<path d="M348.3,15.6h8.3v2.6h-8.3zM377.6,15.6h7.4v2.6h-7.4zM402.3,15.6h8.7v2.6h-8.7zM422.2,15.6h7.4v2.6h-7.4zM437.6,15.6h7.9v2.6h-7.9zM464.1,15.6h6.4v2.6h-6.4zM478.5,15.6h8.0v2.6h-8.0zM505.2,15.6h7.4v2.6h-7.4zM522.6,15.6h7.9v2.6h-7.9zM547.7,15.6h8.0v2.6h-8.0zM568.2,15.6h6.3v2.6h-6.3zM596.9,15.6h8.5v2.6h-8.5zM624.8,15.6h8.0v2.6h-8.0zM652.6,15.6h8.0v2.6h-8.0zM671.9,15.6h9.3v2.6h-9.3zM700.6,15.6h8.8v2.6h-8.8zM728.6,15.6h8.8v2.6h-8.8zM754.4,15.6h8.0v2.6h-8.0zM778.8,15.6h8.1v2.6h-8.1zM795,15.6h8.7v2.6h-8.7z" fill="#fff" stroke="#777" stroke-width="0.45"/>
</g>
<g id="wz18">
<path d="M348.3,4.3h8.3v10.4h-8.3zM377.6,4.3h7.4v10.4h-7.4zM402.3,4.3h8.7v10.4h-8.7zM422.2,4.3h7.4v10.4h-7.4zM437.6,4.3h7.9v10.4h-7.9zM464.1,4.3h6.4v10.4h-6.4zM478.5,4.3h8.0v10.4h-8.0zM505.2,4.3h7.4v10.4h-7.4zM522.6,4.3h7.9v10.4h-7.9zM547.7,4.3h8.0v10.4h-8.0zM568.2,4.3h6.3v10.4h-6.3zM596.9,4.3h8.5v10.4h-8.5zM624.8,4.3h8.0v10.4h-8.0zM652.6,4.3h8.0v10.4h-8.0zM671.9,4.3h9.3v10.4h-9.3zM700.6,4.3h8.8v10.4h-8.8zM728.6,4.3h8.8v10.4h-8.8zM754.4,4.3h8.0v10.4h-8.0zM778.8,4.3h8.1v10.4h-8.1zM795,4.3h8.7v10.4h-8.7z" fill="#fff" stroke="#3a3a3a" stroke-width="0.6"/>
<path d="M349.2,14.7L352.45,5.2L355.7,14.7M378.5,14.7L381.30,5.2L384.1,14.7M403.2,14.7L406.65,5.2L410.1,14.7M423.1,14.7L425.90,5.2L428.7,14.7M438.5,14.7L441.55,5.2L444.6,14.7M465.0,14.7L467.30,5.2L469.6,14.7M479.4,14.7L482.50,5.2L485.6,14.7M506.1,14.7L508.90,5.2L511.7,14.7M523.5,14.7L526.55,5.2L529.6,14.7M548.6,14.7L551.70,5.2L554.8,14.7M569.1,14.7L571.35,5.2L573.6,14.7M597.8,14.7L601.15,5.2L604.5,14.7M625.7,14.7L628.80,5.2L631.9,14.7M653.5,14.7L656.60,5.2L659.7,14.7M672.8,14.7L676.55,5.2L680.3,14.7M701.5,14.7L705.00,5.2L708.5,14.7M729.5,14.7L733.00,5.2L736.5,14.7M755.3,14.7L758.40,5.2L761.5,14.7M779.7,14.7L782.85,5.2L786.0,14.7M795.9,14.7L799.35,5.2L802.8,14.7" fill="none" stroke="#777" stroke-width="0.45"/>
<path d="M348.3,15.6h8.3v2.6h-8.3zM377.6,15.6h7.4v2.6h-7.4zM402.3,15.6h8.7v2.6h-8.7zM422.2,15.6h7.4v2.6h-7.4zM437.6,15.6h7.9v2.6h-7.9zM464.1,15.6h6.4v2.6h-6.4zM478.5,15.6h8.0v2.6h-8.0zM505.2,15.6h7.4v2.6h-7.4zM522.6,15.6h7.9v2.6h-7.9zM547.7,15.6h8.0v2.6h-8.0zM568.2,15.6h6.3v2.6h-6.3zM596.9,15.6h8.5v2.6h-8.5zM624.8,15.6h8.0v2.6h-8.0zM652.6,15.6h8.0v2.6h-8.0zM671.9,15.6h9.3v2.6h-9.3zM700.6,15.6h8.8v2.6h-8.8zM728.6,15.6h8.8v2.6h-8.8zM754.4,15.6h8.0v2.6h-8.0zM778.8,15.6h8.1v2.6h-8.1zM795,15.6h8.7v2.6h-8.7z" fill="#fff" stroke="#777" stroke-width="0.45"/>
</g>
</defs>
<g clip-path="url(#tclip)">
<rect x="300" y="18.4" width="511.29999999999995" height="1740" fill="#fff"/>
<rect x="300" y="18.4" width="511.29999999999995" height="174.95" fill="url(#hat2)"/>
<path d="M446.5,18.4V192.3M454.2,18.4V192.3M463.2,18.4V192.3M471.2,18.4V192.3M479.2,18.4V192.3M487.6,18.4V192.3M488.0,18.4V192.3M495.4,18.4V192.3M495.6,18.4V192.3M504.4,18.4V192.3M505.2,18.4V192.3M512.6,18.4V192.3M513.4,18.4V192.3M522.2,18.4V192.3M522.6,18.4V192.3M530.5,18.4V192.3M538.9,18.4V192.3M547.4,18.4V192.3M547.7,18.4V192.3M555.7,18.4V192.3M562.0,18.4V192.3M568.2,18.4V192.3M574.5,18.4V192.3M580.4,18.4V192.3M588.1,18.4V192.3M596.9,18.4V192.3M605.4,18.4V192.3M615.2,18.4V192.3M623.6,18.4V192.3M624.8,18.4V192.3M632.8,18.4V192.3M639.4,18.4V192.3M646.0,18.4V192.3M652.6,18.4V192.3M660.6,18.4V192.3M661.8,18.4V192.3M670.9,18.4V192.3M671.9,18.4V192.3M681.2,18.4V192.3M687.7,18.4V192.3M694.1,18.4V192.3M700.6,18.4V192.3M709.4,18.4V192.3M719.4,18.4V192.3M728.4,18.4V192.3M728.6,18.4V192.3M737.4,18.4V192.3M745.9,18.4V192.3M754.4,18.4V192.3M762.4,18.4V192.3M762.6,18.4V192.3M770.7,18.4V192.3M778.8,18.4V192.3M786.9,18.4V192.3M795,18.4V192.3M803.7,18.4V192.3M811.3,18.4V192.3" stroke="#1a1a1a" stroke-width="0.65"/>
<path d="M808.4,18.4V192.3" stroke="#111" stroke-width="0.7" stroke-dasharray="1 1"/>
<path d="M495.6,194.3h8.8V383.1h-8.8zM538.9,194.3h8.5V383.1h-8.5zM580.4,194.3h7.7V383.1h-7.7zM615.2,194.3h8.4V383.1h-8.4zM661.8,194.3h9.1V383.1h-9.1zM719.4,194.3h9.0V383.1h-9.0zM762.6,194.3h8.1V383.1h-8.1zM513.4,194.3h8.8V383.1h-8.8z" fill="url(#hat)" stroke="#222" stroke-width="0.5"/>
<path d="M300,192.3V383.1M307.5,192.3V383.1M315.0,192.3V383.1M322.6,192.3V383.1M330.1,192.3V383.1M337.6,192.3V383.1M345.1,192.3V383.1M352.7,192.3V383.1M360.2,192.3V383.1M367.7,192.3V383.1M375.2,192.3V383.1M382.8,192.3V383.1M390.3,192.3V383.1M397.8,192.3V383.1M405.3,192.3V383.1M412.8,192.3V383.1M420.4,192.3V383.1M427.9,192.3V383.1M435.4,192.3V383.1M442.9,192.3V383.1M450.5,192.3V383.1M458.0,192.3V383.1M465.5,192.3V383.1M473.0,192.3V383.1M480.6,192.3V383.1M488.1,192.3V383.1M495.6,192.3V383.1M504.4,192.3V383.1M505.2,192.3V383.1M512.6,192.3V383.1M513.4,192.3V383.1M522.2,192.3V383.1M522.6,192.3V383.1M530.5,192.3V383.1M538.9,192.3V383.1M547.4,192.3V383.1M547.7,192.3V383.1M555.7,192.3V383.1M562.0,192.3V383.1M568.2,192.3V383.1M574.5,192.3V383.1M580.4,192.3V383.1M588.1,192.3V383.1M596.9,192.3V383.1M605.4,192.3V383.1M615.2,192.3V383.1M623.6,192.3V383.1M624.8,192.3V383.1M632.8,192.3V383.1M639.4,192.3V383.1M646.0,192.3V383.1M652.6,192.3V383.1M660.6,192.3V383.1M661.8,192.3V383.1M670.9,192.3V383.1M671.9,192.3V383.1M681.2,192.3V383.1M687.7,192.3V383.1M694.1,192.3V383.1M700.6,192.3V383.1M709.4,192.3V383.1M719.4,192.3V383.1M728.4,192.3V383.1M728.6,192.3V383.1M737.4,192.3V383.1M745.9,192.3V383.1M754.4,192.3V383.1M762.4,192.3V383.1M762.6,192.3V383.1M770.7,192.3V383.1M778.8,192.3V383.1M786.9,192.3V383.1M795,192.3V383.1M803.7,192.3V383.1M811.3,192.3V383.1" stroke="#4a4a4a" stroke-width="0.6"/>
<use href="#wz0" transform="translate(0,192.35) scale(1,1.204)"/>
<use href="#wz0" transform="translate(0,215.99) scale(1,1.204)"/>
<use href="#wz0" transform="translate(0,239.62) scale(1,1.204)"/>
<use href="#wz0" transform="translate(0,263.26) scale(1,1.000)"/>
<use href="#wz0" transform="translate(0,282.90) scale(1,1.000)"/>
<use href="#wz0" transform="translate(0,302.55) scale(1,1.000)"/>
<use href="#wz0" transform="translate(0,322.19) scale(1,1.000)"/>
<use href="#wz0" transform="translate(0,341.83) scale(1,1.000)"/>
<use href="#wz0" transform="translate(0,361.47) scale(1,1.102)"/>
<path d="M454.2,385.1h9.0V501.0h-9.0zM495.6,385.1h8.8V501.0h-8.8zM538.9,385.1h8.5V501.0h-8.5zM580.4,385.1h7.7V501.0h-7.7zM615.2,385.1h8.4V501.0h-8.4zM661.8,385.1h9.1V501.0h-9.1zM719.4,385.1h9.0V501.0h-9.0zM762.6,385.1h8.1V501.0h-8.1zM513.4,385.1h8.8V501.0h-8.8z" fill="url(#hat)" stroke="#222" stroke-width="0.5"/>
<path d="M300,383.1V501.0M307.7,383.1V501.0M315.4,383.1V501.0M323.1,383.1V501.0M330.8,383.1V501.0M338.6,383.1V501.0M346.3,383.1V501.0M354.0,383.1V501.0M361.7,383.1V501.0M369.4,383.1V501.0M377.1,383.1V501.0M384.8,383.1V501.0M392.5,383.1V501.0M400.2,383.1V501.0M407.9,383.1V501.0M415.6,383.1V501.0M423.4,383.1V501.0M431.1,383.1V501.0M438.8,383.1V501.0M446.5,383.1V501.0M454.2,383.1V501.0M463.2,383.1V501.0M471.3,383.1V501.0M479.4,383.1V501.0M487.5,383.1V501.0M495.6,383.1V501.0M504.4,383.1V501.0M505.2,383.1V501.0M512.6,383.1V501.0M513.4,383.1V501.0M522.2,383.1V501.0M522.6,383.1V501.0M530.5,383.1V501.0M538.9,383.1V501.0M547.4,383.1V501.0M547.7,383.1V501.0M555.7,383.1V501.0M562.0,383.1V501.0M568.2,383.1V501.0M574.5,383.1V501.0M580.4,383.1V501.0M588.1,383.1V501.0M596.9,383.1V501.0M605.4,383.1V501.0M615.2,383.1V501.0M623.6,383.1V501.0M624.8,383.1V501.0M632.8,383.1V501.0M639.4,383.1V501.0M646.0,383.1V501.0M652.6,383.1V501.0M660.6,383.1V501.0M661.8,383.1V501.0M670.9,383.1V501.0M671.9,383.1V501.0M681.2,383.1V501.0M687.7,383.1V501.0M694.1,383.1V501.0M700.6,383.1V501.0M709.4,383.1V501.0M719.4,383.1V501.0M728.4,383.1V501.0M728.6,383.1V501.0M737.4,383.1V501.0M745.9,383.1V501.0M754.4,383.1V501.0M762.4,383.1V501.0M762.6,383.1V501.0M770.7,383.1V501.0M778.8,383.1V501.0M786.9,383.1V501.0M795,383.1V501.0M803.7,383.1V501.0M811.3,383.1V501.0" stroke="#4a4a4a" stroke-width="0.6"/>
<use href="#wz1" transform="translate(0,383.11) scale(1,1.000)"/>
<use href="#wz1" transform="translate(0,402.75) scale(1,1.000)"/>
<use href="#wz1" transform="translate(0,422.40) scale(1,1.000)"/>
<use href="#wz1" transform="translate(0,442.04) scale(1,1.000)"/>
<use href="#wz1" transform="translate(0,461.68) scale(1,1.000)"/>
<use href="#wz1" transform="translate(0,481.32) scale(1,1.000)"/>
<path d="M445.3,503.0h8.3V546.6h-8.3zM454.2,503.0h9.0V546.6h-9.0zM479.2,503.0h8.4V546.6h-8.4zM495.6,503.0h8.8V546.6h-8.8zM538.9,503.0h8.5V546.6h-8.5zM580.4,503.0h7.7V546.6h-7.7zM615.2,503.0h8.4V546.6h-8.4zM661.8,503.0h9.1V546.6h-9.1zM719.4,503.0h9.0V546.6h-9.0zM762.6,503.0h8.1V546.6h-8.1zM513.4,503.0h8.8V546.6h-8.8z" fill="url(#hat)" stroke="#222" stroke-width="0.5"/>
<path d="M300,501.0V546.6M307.6,501.0V546.6M315.3,501.0V546.6M322.9,501.0V546.6M330.6,501.0V546.6M338.2,501.0V546.6M345.9,501.0V546.6M353.5,501.0V546.6M361.2,501.0V546.6M368.8,501.0V546.6M376.5,501.0V546.6M384.1,501.0V546.6M391.8,501.0V546.6M399.4,501.0V546.6M407.1,501.0V546.6M414.7,501.0V546.6M422.4,501.0V546.6M430.0,501.0V546.6M437.7,501.0V546.6M445.3,501.0V546.6M453.6,501.0V546.6M454.2,501.0V546.6M463.2,501.0V546.6M471.2,501.0V546.6M479.2,501.0V546.6M487.6,501.0V546.6M488.0,501.0V546.6M495.4,501.0V546.6M495.6,501.0V546.6M504.4,501.0V546.6M505.2,501.0V546.6M512.6,501.0V546.6M513.4,501.0V546.6M522.2,501.0V546.6M522.6,501.0V546.6M530.5,501.0V546.6M538.9,501.0V546.6M547.4,501.0V546.6M547.7,501.0V546.6M555.7,501.0V546.6M562.0,501.0V546.6M568.2,501.0V546.6M574.5,501.0V546.6M580.4,501.0V546.6M588.1,501.0V546.6M596.9,501.0V546.6M605.4,501.0V546.6M615.2,501.0V546.6M623.6,501.0V546.6M624.8,501.0V546.6M632.8,501.0V546.6M639.4,501.0V546.6M646.0,501.0V546.6M652.6,501.0V546.6M660.6,501.0V546.6M661.8,501.0V546.6M670.9,501.0V546.6M671.9,501.0V546.6M681.2,501.0V546.6M687.7,501.0V546.6M694.1,501.0V546.6M700.6,501.0V546.6M709.4,501.0V546.6M719.4,501.0V546.6M728.4,501.0V546.6M728.6,501.0V546.6M737.4,501.0V546.6M745.9,501.0V546.6M754.4,501.0V546.6M762.4,501.0V546.6M762.6,501.0V546.6M770.7,501.0V546.6M778.8,501.0V546.6M786.9,501.0V546.6M795,501.0V546.6M803.7,501.0V546.6M811.3,501.0V546.6" stroke="#4a4a4a" stroke-width="0.6"/>
<use href="#wz2" transform="translate(0,500.96) scale(1,1.220)"/>
<use href="#wz2" transform="translate(0,524.93) scale(1,1.102)"/>
<path d="M479.2,548.6h8.4V664.4h-8.4zM495.6,548.6h8.8V664.4h-8.8zM538.9,548.6h8.5V664.4h-8.5zM580.4,548.6h7.7V664.4h-7.7zM615.2,548.6h8.4V664.4h-8.4zM661.8,548.6h9.1V664.4h-9.1zM719.4,548.6h9.0V664.4h-9.0zM762.6,548.6h8.1V664.4h-8.1zM513.4,548.6h8.8V664.4h-8.8z" fill="url(#hat)" stroke="#222" stroke-width="0.5"/>
<path d="M300,546.6V664.4M307.5,546.6V664.4M314.9,546.6V664.4M322.4,546.6V664.4M329.9,546.6V664.4M337.3,546.6V664.4M344.8,546.6V664.4M352.3,546.6V664.4M359.7,546.6V664.4M367.2,546.6V664.4M374.7,546.6V664.4M382.1,546.6V664.4M389.6,546.6V664.4M397.1,546.6V664.4M404.5,546.6V664.4M412.0,546.6V664.4M419.5,546.6V664.4M426.9,546.6V664.4M434.4,546.6V664.4M441.9,546.6V664.4M449.3,546.6V664.4M456.8,546.6V664.4M464.3,546.6V664.4M471.7,546.6V664.4M479.2,546.6V664.4M487.6,546.6V664.4M488.0,546.6V664.4M495.4,546.6V664.4M495.6,546.6V664.4M504.4,546.6V664.4M505.2,546.6V664.4M512.6,546.6V664.4M513.4,546.6V664.4M522.2,546.6V664.4M522.6,546.6V664.4M530.5,546.6V664.4M538.9,546.6V664.4M547.4,546.6V664.4M547.7,546.6V664.4M555.7,546.6V664.4M562.0,546.6V664.4M568.2,546.6V664.4M574.5,546.6V664.4M580.4,546.6V664.4M588.1,546.6V664.4M596.9,546.6V664.4M605.4,546.6V664.4M615.2,546.6V664.4M623.6,546.6V664.4M624.8,546.6V664.4M632.8,546.6V664.4M639.4,546.6V664.4M646.0,546.6V664.4M652.6,546.6V664.4M660.6,546.6V664.4M661.8,546.6V664.4M670.9,546.6V664.4M671.9,546.6V664.4M681.2,546.6V664.4M687.7,546.6V664.4M694.1,546.6V664.4M700.6,546.6V664.4M709.4,546.6V664.4M719.4,546.6V664.4M728.4,546.6V664.4M728.6,546.6V664.4M737.4,546.6V664.4M745.9,546.6V664.4M754.4,546.6V664.4M762.4,546.6V664.4M762.6,546.6V664.4M770.7,546.6V664.4M778.8,546.6V664.4M786.9,546.6V664.4M795,546.6V664.4M803.7,546.6V664.4M811.3,546.6V664.4" stroke="#4a4a4a" stroke-width="0.6"/>
<use href="#wz3" transform="translate(0,546.57) scale(1,1.000)"/>
<use href="#wz3" transform="translate(0,566.22) scale(1,1.000)"/>
<use href="#wz3" transform="translate(0,585.86) scale(1,1.000)"/>
<use href="#wz3" transform="translate(0,605.50) scale(1,1.000)"/>
<use href="#wz3" transform="translate(0,625.14) scale(1,1.000)"/>
<use href="#wz3" transform="translate(0,644.79) scale(1,1.000)"/>
<path d="M463.4,666.4h7.0V686.1h-7.0zM495.6,666.4h8.8V686.1h-8.8zM538.9,666.4h8.5V686.1h-8.5zM580.4,666.4h7.7V686.1h-7.7zM615.2,666.4h8.4V686.1h-8.4zM661.8,666.4h9.1V686.1h-9.1zM719.4,666.4h9.0V686.1h-9.0zM762.6,666.4h8.1V686.1h-8.1z" fill="url(#hat)" stroke="#222" stroke-width="0.5"/>
<path d="M300,664.4V686.1M307.8,664.4V686.1M315.6,664.4V686.1M323.3,664.4V686.1M331.1,664.4V686.1M338.9,664.4V686.1M346.7,664.4V686.1M354.5,664.4V686.1M362.2,664.4V686.1M370.0,664.4V686.1M377.8,664.4V686.1M385.6,664.4V686.1M393.4,664.4V686.1M401.2,664.4V686.1M408.9,664.4V686.1M416.7,664.4V686.1M424.5,664.4V686.1M432.3,664.4V686.1M440.1,664.4V686.1M447.8,664.4V686.1M455.6,664.4V686.1M463.4,664.4V686.1M470.4,664.4V686.1M479.2,664.4V686.1M488.0,664.4V686.1M495.4,664.4V686.1M495.6,664.4V686.1M504.4,664.4V686.1M505.2,664.4V686.1M512.6,664.4V686.1M522.6,664.4V686.1M530.5,664.4V686.1M538.9,664.4V686.1M547.4,664.4V686.1M547.7,664.4V686.1M555.7,664.4V686.1M562.0,664.4V686.1M568.2,664.4V686.1M574.5,664.4V686.1M580.4,664.4V686.1M588.1,664.4V686.1M596.9,664.4V686.1M605.4,664.4V686.1M615.2,664.4V686.1M623.6,664.4V686.1M624.8,664.4V686.1M632.8,664.4V686.1M639.4,664.4V686.1M646.0,664.4V686.1M652.6,664.4V686.1M660.6,664.4V686.1M661.8,664.4V686.1M670.9,664.4V686.1M671.9,664.4V686.1M681.2,664.4V686.1M687.7,664.4V686.1M694.1,664.4V686.1M700.6,664.4V686.1M709.4,664.4V686.1M719.4,664.4V686.1M728.4,664.4V686.1M728.6,664.4V686.1M737.4,664.4V686.1M745.9,664.4V686.1M754.4,664.4V686.1M762.4,664.4V686.1M762.6,664.4V686.1M770.7,664.4V686.1M778.8,664.4V686.1M786.9,664.4V686.1M795,664.4V686.1M803.7,664.4V686.1M811.3,664.4V686.1" stroke="#4a4a4a" stroke-width="0.6"/>
<use href="#wz4" transform="translate(0,664.43) scale(1,1.102)"/>
<path d="M445.3,688.1h8.3V705.7h-8.3zM463.4,688.1h7.0V705.7h-7.0zM495.6,688.1h8.8V705.7h-8.8zM538.9,688.1h8.5V705.7h-8.5zM580.4,688.1h7.7V705.7h-7.7zM615.2,688.1h8.4V705.7h-8.4zM661.8,688.1h9.1V705.7h-9.1zM719.4,688.1h9.0V705.7h-9.0zM762.6,688.1h8.1V705.7h-8.1z" fill="url(#hat)" stroke="#222" stroke-width="0.5"/>
<path d="M300,686.1V705.7M307.6,686.1V705.7M315.3,686.1V705.7M322.9,686.1V705.7M330.6,686.1V705.7M338.2,686.1V705.7M345.9,686.1V705.7M353.5,686.1V705.7M361.2,686.1V705.7M368.8,686.1V705.7M376.5,686.1V705.7M384.1,686.1V705.7M391.8,686.1V705.7M399.4,686.1V705.7M407.1,686.1V705.7M414.7,686.1V705.7M422.4,686.1V705.7M430.0,686.1V705.7M437.7,686.1V705.7M445.3,686.1V705.7M453.6,686.1V705.7M463.4,686.1V705.7M470.4,686.1V705.7M479.2,686.1V705.7M488.0,686.1V705.7M495.4,686.1V705.7M495.6,686.1V705.7M504.4,686.1V705.7M505.2,686.1V705.7M512.6,686.1V705.7M522.6,686.1V705.7M530.5,686.1V705.7M538.9,686.1V705.7M547.4,686.1V705.7M547.7,686.1V705.7M555.7,686.1V705.7M562.0,686.1V705.7M568.2,686.1V705.7M574.5,686.1V705.7M580.4,686.1V705.7M588.1,686.1V705.7M596.9,686.1V705.7M605.4,686.1V705.7M615.2,686.1V705.7M623.6,686.1V705.7M624.8,686.1V705.7M632.8,686.1V705.7M639.4,686.1V705.7M646.0,686.1V705.7M652.6,686.1V705.7M660.6,686.1V705.7M661.8,686.1V705.7M670.9,686.1V705.7M671.9,686.1V705.7M681.2,686.1V705.7M687.7,686.1V705.7M694.1,686.1V705.7M700.6,686.1V705.7M709.4,686.1V705.7M719.4,686.1V705.7M728.4,686.1V705.7M728.6,686.1V705.7M737.4,686.1V705.7M745.9,686.1V705.7M754.4,686.1V705.7M762.4,686.1V705.7M762.6,686.1V705.7M770.7,686.1V705.7M778.8,686.1V705.7M786.9,686.1V705.7M795,686.1V705.7M803.7,686.1V705.7M811.3,686.1V705.7" stroke="#4a4a4a" stroke-width="0.6"/>
<use href="#wz5" transform="translate(0,686.07) scale(1,1.000)"/>
<path d="M463.4,707.7h7.0V725.4h-7.0zM495.6,707.7h8.8V725.4h-8.8zM538.9,707.7h8.5V725.4h-8.5zM580.4,707.7h7.7V725.4h-7.7zM615.2,707.7h8.4V725.4h-8.4zM661.8,707.7h9.1V725.4h-9.1zM719.4,707.7h9.0V725.4h-9.0zM762.6,707.7h8.1V725.4h-8.1z" fill="url(#hat)" stroke="#222" stroke-width="0.5"/>
<path d="M300,705.7V725.4M307.7,705.7V725.4M315.3,705.7V725.4M323.0,705.7V725.4M330.7,705.7V725.4M338.4,705.7V725.4M346.0,705.7V725.4M353.7,705.7V725.4M361.4,705.7V725.4M369.1,705.7V725.4M376.7,705.7V725.4M384.4,705.7V725.4M392.1,705.7V725.4M399.8,705.7V725.4M407.4,705.7V725.4M415.1,705.7V725.4M422.8,705.7V725.4M430.5,705.7V725.4M438.1,705.7V725.4M445.8,705.7V725.4M453.6,705.7V725.4M463.4,705.7V725.4M470.4,705.7V725.4M479.2,705.7V725.4M488.0,705.7V725.4M495.4,705.7V725.4M495.6,705.7V725.4M504.4,705.7V725.4M505.2,705.7V725.4M512.6,705.7V725.4M522.6,705.7V725.4M530.5,705.7V725.4M538.9,705.7V725.4M547.4,705.7V725.4M547.7,705.7V725.4M555.7,705.7V725.4M562.0,705.7V725.4M568.2,705.7V725.4M574.5,705.7V725.4M580.4,705.7V725.4M588.1,705.7V725.4M596.9,705.7V725.4M605.4,705.7V725.4M615.2,705.7V725.4M623.6,705.7V725.4M624.8,705.7V725.4M632.8,705.7V725.4M639.4,705.7V725.4M646.0,705.7V725.4M652.6,705.7V725.4M660.6,705.7V725.4M661.8,705.7V725.4M670.9,705.7V725.4M671.9,705.7V725.4M681.2,705.7V725.4M687.7,705.7V725.4M694.1,705.7V725.4M700.6,705.7V725.4M709.4,705.7V725.4M719.4,705.7V725.4M728.4,705.7V725.4M728.6,705.7V725.4M737.4,705.7V725.4M745.9,705.7V725.4M754.4,705.7V725.4M762.4,705.7V725.4M762.6,705.7V725.4M770.7,705.7V725.4M778.8,705.7V725.4M786.9,705.7V725.4M795,705.7V725.4M803.7,705.7V725.4M811.3,705.7V725.4" stroke="#4a4a4a" stroke-width="0.6"/>
<use href="#wz6" transform="translate(0,705.71) scale(1,1.000)"/>
<path d="M463.4,727.4h7.0V764.6h-7.0zM495.6,727.4h8.8V764.6h-8.8zM538.9,727.4h8.5V764.6h-8.5zM580.4,727.4h7.7V764.6h-7.7zM615.2,727.4h8.4V764.6h-8.4zM661.8,727.4h9.1V764.6h-9.1zM719.4,727.4h9.0V764.6h-9.0zM762.6,727.4h8.1V764.6h-8.1z" fill="url(#hat)" stroke="#222" stroke-width="0.5"/>
<path d="M300,725.4V764.6M307.8,725.4V764.6M315.6,725.4V764.6M323.3,725.4V764.6M331.1,725.4V764.6M338.9,725.4V764.6M346.7,725.4V764.6M354.5,725.4V764.6M362.2,725.4V764.6M370.0,725.4V764.6M377.8,725.4V764.6M385.6,725.4V764.6M393.4,725.4V764.6M401.2,725.4V764.6M408.9,725.4V764.6M416.7,725.4V764.6M424.5,725.4V764.6M432.3,725.4V764.6M440.1,725.4V764.6M447.8,725.4V764.6M455.6,725.4V764.6M463.4,725.4V764.6M470.4,725.4V764.6M479.2,725.4V764.6M488.0,725.4V764.6M495.4,725.4V764.6M495.6,725.4V764.6M504.4,725.4V764.6M505.2,725.4V764.6M512.6,725.4V764.6M522.6,725.4V764.6M530.5,725.4V764.6M538.9,725.4V764.6M547.4,725.4V764.6M547.7,725.4V764.6M555.7,725.4V764.6M562.0,725.4V764.6M568.2,725.4V764.6M574.5,725.4V764.6M580.4,725.4V764.6M588.1,725.4V764.6M596.9,725.4V764.6M605.4,725.4V764.6M615.2,725.4V764.6M623.6,725.4V764.6M624.8,725.4V764.6M632.8,725.4V764.6M639.4,725.4V764.6M646.0,725.4V764.6M652.6,725.4V764.6M660.6,725.4V764.6M661.8,725.4V764.6M670.9,725.4V764.6M671.9,725.4V764.6M681.2,725.4V764.6M687.7,725.4V764.6M694.1,725.4V764.6M700.6,725.4V764.6M709.4,725.4V764.6M719.4,725.4V764.6M728.4,725.4V764.6M728.6,725.4V764.6M737.4,725.4V764.6M745.9,725.4V764.6M754.4,725.4V764.6M762.4,725.4V764.6M762.6,725.4V764.6M770.7,725.4V764.6M778.8,725.4V764.6M786.9,725.4V764.6M795,725.4V764.6M803.7,725.4V764.6M811.3,725.4V764.6" stroke="#4a4a4a" stroke-width="0.6"/>
<use href="#wz7" transform="translate(0,725.35) scale(1,1.000)"/>
<use href="#wz7" transform="translate(0,744.99) scale(1,1.000)"/>
<path d="M454.2,766.6h9.0V823.6h-9.0zM463.4,766.6h7.0V823.6h-7.0zM470.4,766.6h8.2V823.6h-8.2zM495.6,766.6h8.8V823.6h-8.8zM538.9,766.6h8.5V823.6h-8.5zM580.4,766.6h7.7V823.6h-7.7zM615.2,766.6h8.4V823.6h-8.4zM661.8,766.6h9.1V823.6h-9.1zM719.4,766.6h9.0V823.6h-9.0zM762.6,766.6h8.1V823.6h-8.1z" fill="url(#hat)" stroke="#222" stroke-width="0.5"/>
<path d="M300,764.6V823.6M307.7,764.6V823.6M315.4,764.6V823.6M323.1,764.6V823.6M330.8,764.6V823.6M338.6,764.6V823.6M346.3,764.6V823.6M354.0,764.6V823.6M361.7,764.6V823.6M369.4,764.6V823.6M377.1,764.6V823.6M384.8,764.6V823.6M392.5,764.6V823.6M400.2,764.6V823.6M407.9,764.6V823.6M415.6,764.6V823.6M423.4,764.6V823.6M431.1,764.6V823.6M438.8,764.6V823.6M446.5,764.6V823.6M454.2,764.6V823.6M463.2,764.6V823.6M463.4,764.6V823.6M470.4,764.6V823.6M478.6,764.6V823.6M488.0,764.6V823.6M495.4,764.6V823.6M495.6,764.6V823.6M504.4,764.6V823.6M505.2,764.6V823.6M512.6,764.6V823.6M522.6,764.6V823.6M530.5,764.6V823.6M538.9,764.6V823.6M547.4,764.6V823.6M547.7,764.6V823.6M555.7,764.6V823.6M562.0,764.6V823.6M568.2,764.6V823.6M574.5,764.6V823.6M580.4,764.6V823.6M588.1,764.6V823.6M596.9,764.6V823.6M605.4,764.6V823.6M615.2,764.6V823.6M623.6,764.6V823.6M624.8,764.6V823.6M632.8,764.6V823.6M639.4,764.6V823.6M646.0,764.6V823.6M652.6,764.6V823.6M660.6,764.6V823.6M661.8,764.6V823.6M670.9,764.6V823.6M671.9,764.6V823.6M681.2,764.6V823.6M687.7,764.6V823.6M694.1,764.6V823.6M700.6,764.6V823.6M709.4,764.6V823.6M719.4,764.6V823.6M728.4,764.6V823.6M728.6,764.6V823.6M737.4,764.6V823.6M745.9,764.6V823.6M754.4,764.6V823.6M762.4,764.6V823.6M762.6,764.6V823.6M770.7,764.6V823.6M778.8,764.6V823.6M786.9,764.6V823.6M795,764.6V823.6M803.7,764.6V823.6M811.3,764.6V823.6" stroke="#4a4a4a" stroke-width="0.6"/>
<use href="#wz8" transform="translate(0,764.64) scale(1,1.000)"/>
<use href="#wz8" transform="translate(0,784.28) scale(1,1.000)"/>
<use href="#wz8" transform="translate(0,803.92) scale(1,1.000)"/>
<path d="M454.2,825.6h9.0V866.8h-9.0zM495.6,825.6h8.8V866.8h-8.8zM538.9,825.6h8.5V866.8h-8.5zM580.4,825.6h7.7V866.8h-7.7zM615.2,825.6h8.4V866.8h-8.4zM661.8,825.6h9.1V866.8h-9.1zM719.4,825.6h9.0V866.8h-9.0zM762.6,825.6h8.1V866.8h-8.1z" fill="url(#hat)" stroke="#222" stroke-width="0.5"/>
<path d="M300,823.6V866.8M307.7,823.6V866.8M315.4,823.6V866.8M323.1,823.6V866.8M330.8,823.6V866.8M338.6,823.6V866.8M346.3,823.6V866.8M354.0,823.6V866.8M361.7,823.6V866.8M369.4,823.6V866.8M377.1,823.6V866.8M384.8,823.6V866.8M392.5,823.6V866.8M400.2,823.6V866.8M407.9,823.6V866.8M415.6,823.6V866.8M423.4,823.6V866.8M431.1,823.6V866.8M438.8,823.6V866.8M446.5,823.6V866.8M454.2,823.6V866.8M463.2,823.6V866.8M471.5,823.6V866.8M479.7,823.6V866.8M488.0,823.6V866.8M495.4,823.6V866.8M495.6,823.6V866.8M504.4,823.6V866.8M505.2,823.6V866.8M512.6,823.6V866.8M522.6,823.6V866.8M530.5,823.6V866.8M538.9,823.6V866.8M547.4,823.6V866.8M547.7,823.6V866.8M555.7,823.6V866.8M562.0,823.6V866.8M568.2,823.6V866.8M574.5,823.6V866.8M580.4,823.6V866.8M588.1,823.6V866.8M596.9,823.6V866.8M605.4,823.6V866.8M615.2,823.6V866.8M623.6,823.6V866.8M624.8,823.6V866.8M632.8,823.6V866.8M639.4,823.6V866.8M646.0,823.6V866.8M652.6,823.6V866.8M660.6,823.6V866.8M661.8,823.6V866.8M670.9,823.6V866.8M671.9,823.6V866.8M681.2,823.6V866.8M687.7,823.6V866.8M694.1,823.6V866.8M700.6,823.6V866.8M709.4,823.6V866.8M719.4,823.6V866.8M728.4,823.6V866.8M728.6,823.6V866.8M737.4,823.6V866.8M745.9,823.6V866.8M754.4,823.6V866.8M762.4,823.6V866.8M762.6,823.6V866.8M770.7,823.6V866.8M778.8,823.6V866.8M786.9,823.6V866.8M795,823.6V866.8M803.7,823.6V866.8M811.3,823.6V866.8" stroke="#4a4a4a" stroke-width="0.6"/>
<use href="#wz9" transform="translate(0,823.56) scale(1,1.102)"/>
<use href="#wz9" transform="translate(0,845.20) scale(1,1.102)"/>
<path d="M445.3,868.8h8.3V909.5h-8.3zM454.2,868.8h9.0V909.5h-9.0zM495.6,868.8h8.8V909.5h-8.8zM538.9,868.8h8.5V909.5h-8.5zM580.4,868.8h7.7V909.5h-7.7zM615.2,868.8h8.4V909.5h-8.4zM661.8,868.8h9.1V909.5h-9.1zM719.4,868.8h9.0V909.5h-9.0zM762.6,868.8h8.1V909.5h-8.1z" fill="url(#hat)" stroke="#222" stroke-width="0.5"/>
<path d="M300,866.8V909.5M307.6,866.8V909.5M315.3,866.8V909.5M322.9,866.8V909.5M330.6,866.8V909.5M338.2,866.8V909.5M345.9,866.8V909.5M353.5,866.8V909.5M361.2,866.8V909.5M368.8,866.8V909.5M376.5,866.8V909.5M384.1,866.8V909.5M391.8,866.8V909.5M399.4,866.8V909.5M407.1,866.8V909.5M414.7,866.8V909.5M422.4,866.8V909.5M430.0,866.8V909.5M437.7,866.8V909.5M445.3,866.8V909.5M453.6,866.8V909.5M454.2,866.8V909.5M463.2,866.8V909.5M471.5,866.8V909.5M479.7,866.8V909.5M488.0,866.8V909.5M495.4,866.8V909.5M495.6,866.8V909.5M504.4,866.8V909.5M505.2,866.8V909.5M512.6,866.8V909.5M522.6,866.8V909.5M530.5,866.8V909.5M538.9,866.8V909.5M547.4,866.8V909.5M547.7,866.8V909.5M555.7,866.8V909.5M562.0,866.8V909.5M568.2,866.8V909.5M574.5,866.8V909.5M580.4,866.8V909.5M588.1,866.8V909.5M596.9,866.8V909.5M605.4,866.8V909.5M615.2,866.8V909.5M623.6,866.8V909.5M624.8,866.8V909.5M632.8,866.8V909.5M639.4,866.8V909.5M646.0,866.8V909.5M652.6,866.8V909.5M660.6,866.8V909.5M661.8,866.8V909.5M670.9,866.8V909.5M671.9,866.8V909.5M681.2,866.8V909.5M687.7,866.8V909.5M694.1,866.8V909.5M700.6,866.8V909.5M709.4,866.8V909.5M719.4,866.8V909.5M728.4,866.8V909.5M728.6,866.8V909.5M737.4,866.8V909.5M745.9,866.8V909.5M754.4,866.8V909.5M762.4,866.8V909.5M762.6,866.8V909.5M770.7,866.8V909.5M778.8,866.8V909.5M786.9,866.8V909.5M795,866.8V909.5M803.7,866.8V909.5M811.3,866.8V909.5" stroke="#4a4a4a" stroke-width="0.6"/>
<use href="#wz10" transform="translate(0,866.84) scale(1,1.000)"/>
<use href="#wz10" transform="translate(0,886.48) scale(1,1.170)"/>
<path d="M412.3,911.5h9.0V968.4h-9.0zM445.9,911.5h8.3V968.4h-8.3zM454.2,911.5h8.8V968.4h-8.8zM495.6,911.5h8.8V968.4h-8.8zM538.9,911.5h8.5V968.4h-8.5zM580.4,911.5h7.7V968.4h-7.7zM615.2,911.5h8.4V968.4h-8.4zM661.8,911.5h9.1V968.4h-9.1zM719.4,911.5h9.0V968.4h-9.0zM762.6,911.5h8.1V968.4h-8.1z" fill="url(#hat)" stroke="#222" stroke-width="0.5"/>
<path d="M300,909.5V968.4M307.5,909.5V968.4M315.0,909.5V968.4M322.5,909.5V968.4M329.9,909.5V968.4M337.4,909.5V968.4M344.9,909.5V968.4M352.4,909.5V968.4M359.9,909.5V968.4M367.4,909.5V968.4M374.9,909.5V968.4M382.4,909.5V968.4M389.8,909.5V968.4M397.3,909.5V968.4M404.8,909.5V968.4M412.3,909.5V968.4M421.3,909.5V968.4M421.5,909.5V968.4M429.2,909.5V968.4M437.5,909.5V968.4M445.9,909.5V968.4M454.2,909.5V968.4M463.0,909.5V968.4M471.3,909.5V968.4M479.7,909.5V968.4M488.0,909.5V968.4M495.4,909.5V968.4M495.6,909.5V968.4M504.4,909.5V968.4M505.2,909.5V968.4M512.6,909.5V968.4M522.6,909.5V968.4M530.5,909.5V968.4M538.9,909.5V968.4M547.4,909.5V968.4M547.7,909.5V968.4M555.7,909.5V968.4M562.0,909.5V968.4M568.2,909.5V968.4M574.5,909.5V968.4M580.4,909.5V968.4M588.1,909.5V968.4M596.9,909.5V968.4M605.4,909.5V968.4M615.2,909.5V968.4M623.6,909.5V968.4M624.8,909.5V968.4M632.8,909.5V968.4M639.4,909.5V968.4M646.0,909.5V968.4M652.6,909.5V968.4M660.6,909.5V968.4M661.8,909.5V968.4M670.9,909.5V968.4M671.9,909.5V968.4M681.2,909.5V968.4M687.7,909.5V968.4M694.1,909.5V968.4M700.6,909.5V968.4M709.4,909.5V968.4M719.4,909.5V968.4M728.4,909.5V968.4M728.6,909.5V968.4M737.4,909.5V968.4M745.9,909.5V968.4M754.4,909.5V968.4M762.4,909.5V968.4M762.6,909.5V968.4M770.7,909.5V968.4M778.8,909.5V968.4M786.9,909.5V968.4M795,909.5V968.4M803.7,909.5V968.4M811.3,909.5V968.4" stroke="#4a4a4a" stroke-width="0.6"/>
<use href="#wz11" transform="translate(0,909.46) scale(1,1.000)"/>
<use href="#wz11" transform="translate(0,929.10) scale(1,1.000)"/>
<use href="#wz11" transform="translate(0,948.74) scale(1,1.000)"/>
<path d="M412.3,970.4h9.0V1029.3h-9.0zM437.9,970.4h8.0V1029.3h-8.0zM454.2,970.4h8.8V1029.3h-8.8zM495.6,970.4h8.8V1029.3h-8.8zM538.9,970.4h8.5V1029.3h-8.5zM580.4,970.4h7.7V1029.3h-7.7zM615.2,970.4h8.4V1029.3h-8.4zM661.8,970.4h9.1V1029.3h-9.1zM719.4,970.4h9.0V1029.3h-9.0zM762.6,970.4h8.1V1029.3h-8.1z" fill="url(#hat)" stroke="#222" stroke-width="0.5"/>
<path d="M300,968.4V1029.3M307.5,968.4V1029.3M315.0,968.4V1029.3M322.5,968.4V1029.3M329.9,968.4V1029.3M337.4,968.4V1029.3M344.9,968.4V1029.3M352.4,968.4V1029.3M359.9,968.4V1029.3M367.4,968.4V1029.3M374.9,968.4V1029.3M382.4,968.4V1029.3M389.8,968.4V1029.3M397.3,968.4V1029.3M404.8,968.4V1029.3M412.3,968.4V1029.3M421.3,968.4V1029.3M421.5,968.4V1029.3M429.2,968.4V1029.3M437.9,968.4V1029.3M445.9,968.4V1029.3M454.2,968.4V1029.3M463.0,968.4V1029.3M471.1,968.4V1029.3M479.2,968.4V1029.3M487.5,968.4V1029.3M495.6,968.4V1029.3M504.4,968.4V1029.3M505.2,968.4V1029.3M512.6,968.4V1029.3M522.6,968.4V1029.3M530.5,968.4V1029.3M538.9,968.4V1029.3M547.4,968.4V1029.3M547.7,968.4V1029.3M555.7,968.4V1029.3M562.0,968.4V1029.3M568.2,968.4V1029.3M574.5,968.4V1029.3M580.4,968.4V1029.3M588.1,968.4V1029.3M596.9,968.4V1029.3M605.4,968.4V1029.3M615.2,968.4V1029.3M623.6,968.4V1029.3M624.8,968.4V1029.3M632.8,968.4V1029.3M639.4,968.4V1029.3M646.0,968.4V1029.3M652.6,968.4V1029.3M660.6,968.4V1029.3M661.8,968.4V1029.3M670.9,968.4V1029.3M671.9,968.4V1029.3M681.2,968.4V1029.3M687.7,968.4V1029.3M694.1,968.4V1029.3M700.6,968.4V1029.3M709.4,968.4V1029.3M719.4,968.4V1029.3M728.4,968.4V1029.3M728.6,968.4V1029.3M737.4,968.4V1029.3M745.9,968.4V1029.3M754.4,968.4V1029.3M762.4,968.4V1029.3M762.6,968.4V1029.3M770.7,968.4V1029.3M778.8,968.4V1029.3M786.9,968.4V1029.3M795,968.4V1029.3M803.7,968.4V1029.3M811.3,968.4V1029.3" stroke="#4a4a4a" stroke-width="0.6"/>
<use href="#wz12" transform="translate(0,968.38) scale(1,1.000)"/>
<use href="#wz12" transform="translate(0,988.02) scale(1,1.000)"/>
<use href="#wz12" transform="translate(0,1007.67) scale(1,1.102)"/>
<path d="M412.3,1057.9h9.0V1079.9h-9.0zM437.9,1057.9h8.0V1079.9h-8.0zM454.2,1057.9h8.8V1079.9h-8.8zM495.6,1057.9h8.8V1079.9h-8.8zM538.9,1057.9h8.5V1079.9h-8.5zM580.4,1057.9h7.7V1079.9h-7.7zM615.2,1057.9h8.4V1079.9h-8.4zM661.8,1057.9h9.1V1079.9h-9.1zM719.4,1057.9h9.0V1079.9h-9.0zM762.6,1057.9h8.1V1079.9h-8.1z" fill="url(#hat)" stroke="#222" stroke-width="0.5"/>
<path d="M300,1055.9V1079.9M307.5,1055.9V1079.9M315.0,1055.9V1079.9M322.5,1055.9V1079.9M329.9,1055.9V1079.9M337.4,1055.9V1079.9M344.9,1055.9V1079.9M352.4,1055.9V1079.9M359.9,1055.9V1079.9M367.4,1055.9V1079.9M374.9,1055.9V1079.9M382.4,1055.9V1079.9M389.8,1055.9V1079.9M397.3,1055.9V1079.9M404.8,1055.9V1079.9M412.3,1055.9V1079.9M421.3,1055.9V1079.9M421.5,1055.9V1079.9M429.2,1055.9V1079.9M437.9,1055.9V1079.9M445.9,1055.9V1079.9M454.2,1055.9V1079.9M463.0,1055.9V1079.9M471.1,1055.9V1079.9M479.2,1055.9V1079.9M487.5,1055.9V1079.9M495.6,1055.9V1079.9M504.4,1055.9V1079.9M505.2,1055.9V1079.9M512.6,1055.9V1079.9M522.6,1055.9V1079.9M530.5,1055.9V1079.9M538.9,1055.9V1079.9M547.4,1055.9V1079.9M547.7,1055.9V1079.9M555.7,1055.9V1079.9M562.0,1055.9V1079.9M568.2,1055.9V1079.9M574.5,1055.9V1079.9M580.4,1055.9V1079.9M588.1,1055.9V1079.9M596.9,1055.9V1079.9M605.4,1055.9V1079.9M615.2,1055.9V1079.9M623.6,1055.9V1079.9M624.8,1055.9V1079.9M632.8,1055.9V1079.9M639.4,1055.9V1079.9M646.0,1055.9V1079.9M652.6,1055.9V1079.9M660.6,1055.9V1079.9M661.8,1055.9V1079.9M670.9,1055.9V1079.9M671.9,1055.9V1079.9M681.2,1055.9V1079.9M687.7,1055.9V1079.9M694.1,1055.9V1079.9M700.6,1055.9V1079.9M709.4,1055.9V1079.9M719.4,1055.9V1079.9M728.4,1055.9V1079.9M728.6,1055.9V1079.9M737.4,1055.9V1079.9M745.9,1055.9V1079.9M754.4,1055.9V1079.9M762.4,1055.9V1079.9M762.6,1055.9V1079.9M770.7,1055.9V1079.9M778.8,1055.9V1079.9M786.9,1055.9V1079.9M795,1055.9V1079.9M803.7,1055.9V1079.9M811.3,1055.9V1079.9" stroke="#4a4a4a" stroke-width="0.6"/>
<use href="#wz13" transform="translate(0,1055.94) scale(1,1.220)"/>
<path d="M421.5,1081.9h8.3V1219.4h-8.3zM429.8,1081.9h8.1V1219.4h-8.1zM445.9,1081.9h8.3V1219.4h-8.3zM454.2,1081.9h8.8V1219.4h-8.8zM495.6,1081.9h8.8V1219.4h-8.8zM538.9,1081.9h8.5V1219.4h-8.5zM580.4,1081.9h7.7V1219.4h-7.7zM615.2,1081.9h8.4V1219.4h-8.4zM661.8,1081.9h9.1V1219.4h-9.1zM719.4,1081.9h9.0V1219.4h-9.0zM762.6,1081.9h8.1V1219.4h-8.1z" fill="url(#hat)" stroke="#222" stroke-width="0.5"/>
<path d="M300,1079.9V1219.4M307.7,1079.9V1219.4M315.3,1079.9V1219.4M323.0,1079.9V1219.4M330.6,1079.9V1219.4M338.3,1079.9V1219.4M345.9,1079.9V1219.4M353.6,1079.9V1219.4M361.2,1079.9V1219.4M368.9,1079.9V1219.4M376.4,1079.9V1219.4M383.9,1079.9V1219.4M391.4,1079.9V1219.4M398.9,1079.9V1219.4M406.5,1079.9V1219.4M414.0,1079.9V1219.4M421.5,1079.9V1219.4M429.8,1079.9V1219.4M437.9,1079.9V1219.4M445.4,1079.9V1219.4M445.9,1079.9V1219.4M454.2,1079.9V1219.4M463.0,1079.9V1219.4M464.2,1079.9V1219.4M470.5,1079.9V1219.4M479.2,1079.9V1219.4M487.5,1079.9V1219.4M495.6,1079.9V1219.4M504.4,1079.9V1219.4M505.2,1079.9V1219.4M512.6,1079.9V1219.4M522.6,1079.9V1219.4M530.5,1079.9V1219.4M538.9,1079.9V1219.4M547.4,1079.9V1219.4M547.7,1079.9V1219.4M555.7,1079.9V1219.4M562.0,1079.9V1219.4M568.2,1079.9V1219.4M574.5,1079.9V1219.4M580.4,1079.9V1219.4M588.1,1079.9V1219.4M596.9,1079.9V1219.4M605.4,1079.9V1219.4M615.2,1079.9V1219.4M623.6,1079.9V1219.4M624.8,1079.9V1219.4M632.8,1079.9V1219.4M639.4,1079.9V1219.4M646.0,1079.9V1219.4M652.6,1079.9V1219.4M660.6,1079.9V1219.4M661.8,1079.9V1219.4M670.9,1079.9V1219.4M671.9,1079.9V1219.4M681.2,1079.9V1219.4M687.7,1079.9V1219.4M694.1,1079.9V1219.4M700.6,1079.9V1219.4M709.4,1079.9V1219.4M719.4,1079.9V1219.4M728.4,1079.9V1219.4M728.6,1079.9V1219.4M737.4,1079.9V1219.4M745.9,1079.9V1219.4M754.4,1079.9V1219.4M762.4,1079.9V1219.4M762.6,1079.9V1219.4M770.7,1079.9V1219.4M778.8,1079.9V1219.4M786.9,1079.9V1219.4M795,1079.9V1219.4M803.7,1079.9V1219.4M811.3,1079.9V1219.4" stroke="#4a4a4a" stroke-width="0.6"/>
<use href="#wz14" transform="translate(0,1079.91) scale(1,1.102)"/>
<use href="#wz14" transform="translate(0,1101.55) scale(1,1.000)"/>
<use href="#wz14" transform="translate(0,1121.19) scale(1,1.000)"/>
<use href="#wz14" transform="translate(0,1140.83) scale(1,1.000)"/>
<use href="#wz14" transform="translate(0,1160.48) scale(1,1.000)"/>
<use href="#wz14" transform="translate(0,1180.12) scale(1,1.000)"/>
<use href="#wz14" transform="translate(0,1199.76) scale(1,1.000)"/>
<path d="M360.1,1221.4h8.3V1461.4h-8.3zM412.3,1221.4h9.0V1461.4h-9.0zM437.9,1221.4h8.0V1461.4h-8.0zM454.2,1221.4h8.8V1461.4h-8.8zM495.6,1221.4h8.8V1461.4h-8.8zM538.9,1221.4h8.5V1461.4h-8.5zM580.4,1221.4h7.7V1461.4h-7.7zM615.2,1221.4h8.4V1461.4h-8.4zM661.8,1221.4h9.1V1461.4h-9.1zM719.4,1221.4h9.0V1461.4h-9.0zM762.6,1221.4h8.1V1461.4h-8.1z" fill="url(#hat)" stroke="#222" stroke-width="0.5"/>
<path d="M300,1219.4V1461.4M307.5,1219.4V1461.4M315.0,1219.4V1461.4M322.5,1219.4V1461.4M330.1,1219.4V1461.4M337.6,1219.4V1461.4M345.1,1219.4V1461.4M352.6,1219.4V1461.4M360.1,1219.4V1461.4M368.4,1219.4V1461.4M368.9,1219.4V1461.4M376.4,1219.4V1461.4M383.6,1219.4V1461.4M390.8,1219.4V1461.4M397.9,1219.4V1461.4M405.1,1219.4V1461.4M412.3,1219.4V1461.4M421.3,1219.4V1461.4M421.5,1219.4V1461.4M429.2,1219.4V1461.4M437.9,1219.4V1461.4M445.9,1219.4V1461.4M446.3,1219.4V1461.4M453.8,1219.4V1461.4M454.2,1219.4V1461.4M463.0,1219.4V1461.4M464.2,1219.4V1461.4M470.5,1219.4V1461.4M479.2,1219.4V1461.4M487.5,1219.4V1461.4M495.6,1219.4V1461.4M504.4,1219.4V1461.4M505.2,1219.4V1461.4M512.6,1219.4V1461.4M522.6,1219.4V1461.4M530.5,1219.4V1461.4M538.9,1219.4V1461.4M547.4,1219.4V1461.4M547.7,1219.4V1461.4M555.7,1219.4V1461.4M562.0,1219.4V1461.4M568.2,1219.4V1461.4M574.5,1219.4V1461.4M580.4,1219.4V1461.4M588.1,1219.4V1461.4M596.9,1219.4V1461.4M605.4,1219.4V1461.4M615.2,1219.4V1461.4M623.6,1219.4V1461.4M624.8,1219.4V1461.4M632.8,1219.4V1461.4M639.4,1219.4V1461.4M646.0,1219.4V1461.4M652.6,1219.4V1461.4M660.6,1219.4V1461.4M661.8,1219.4V1461.4M670.9,1219.4V1461.4M671.9,1219.4V1461.4M681.2,1219.4V1461.4M687.7,1219.4V1461.4M694.1,1219.4V1461.4M700.6,1219.4V1461.4M709.4,1219.4V1461.4M719.4,1219.4V1461.4M728.4,1219.4V1461.4M728.6,1219.4V1461.4M737.4,1219.4V1461.4M745.9,1219.4V1461.4M754.4,1219.4V1461.4M762.4,1219.4V1461.4M762.6,1219.4V1461.4M770.7,1219.4V1461.4M778.8,1219.4V1461.4M786.9,1219.4V1461.4M795,1219.4V1461.4M803.7,1219.4V1461.4M811.3,1219.4V1461.4" stroke="#4a4a4a" stroke-width="0.6"/>
<use href="#wz15" transform="translate(0,1219.40) scale(1,1.102)"/>
<use href="#wz15" transform="translate(0,1241.04) scale(1,1.000)"/>
<use href="#wz15" transform="translate(0,1260.68) scale(1,1.000)"/>
<use href="#wz15" transform="translate(0,1280.33) scale(1,1.000)"/>
<use href="#wz15" transform="translate(0,1299.97) scale(1,1.000)"/>
<use href="#wz15" transform="translate(0,1319.61) scale(1,1.000)"/>
<use href="#wz15" transform="translate(0,1339.25) scale(1,1.000)"/>
<use href="#wz15" transform="translate(0,1358.89) scale(1,1.000)"/>
<use href="#wz15" transform="translate(0,1378.54) scale(1,1.102)"/>
<use href="#wz15" transform="translate(0,1400.18) scale(1,1.000)"/>
<use href="#wz15" transform="translate(0,1419.82) scale(1,1.000)"/>
<use href="#wz15" transform="translate(0,1439.46) scale(1,1.119)"/>
<path d="M357.1,1463.4h9.3V1607.9h-9.3zM366.4,1463.4h10.6V1607.9h-10.6zM411.5,1463.4h10.1V1607.9h-10.1zM453.5,1463.4h9.8V1607.9h-9.8zM495.6,1463.4h8.8V1607.9h-8.8zM538.9,1463.4h8.5V1607.9h-8.5zM580.4,1463.4h7.7V1607.9h-7.7zM615.2,1463.4h8.4V1607.9h-8.4zM661.8,1463.4h9.1V1607.9h-9.1zM719.4,1463.4h9.0V1607.9h-9.0zM762.6,1463.4h8.1V1607.9h-8.1z" fill="url(#hat)" stroke="#222" stroke-width="0.5"/>
<path d="M300,1461.4V1607.9M308.1,1461.4V1607.9M316.1,1461.4V1607.9M324.1,1461.4V1607.9M332.2,1461.4V1607.9M340.2,1461.4V1607.9M348.3,1461.4V1607.9M356.6,1461.4V1607.9M357.1,1461.4V1607.9M366.4,1461.4V1607.9M377.0,1461.4V1607.9M377.6,1461.4V1607.9M385.0,1461.4V1607.9M393.6,1461.4V1607.9M402.3,1461.4V1607.9M411.0,1461.4V1607.9M411.5,1461.4V1607.9M421.6,1461.4V1607.9M422.2,1461.4V1607.9M429.6,1461.4V1607.9M437.6,1461.4V1607.9M445.5,1461.4V1607.9M453.5,1461.4V1607.9M463.3,1461.4V1607.9M464.1,1461.4V1607.9M470.5,1461.4V1607.9M478.5,1461.4V1607.9M486.5,1461.4V1607.9M495.6,1461.4V1607.9M504.4,1461.4V1607.9M505.2,1461.4V1607.9M512.6,1461.4V1607.9M522.6,1461.4V1607.9M530.5,1461.4V1607.9M538.9,1461.4V1607.9M547.4,1461.4V1607.9M547.7,1461.4V1607.9M555.7,1461.4V1607.9M562.0,1461.4V1607.9M568.2,1461.4V1607.9M574.5,1461.4V1607.9M580.4,1461.4V1607.9M588.1,1461.4V1607.9M596.9,1461.4V1607.9M605.4,1461.4V1607.9M615.2,1461.4V1607.9M623.6,1461.4V1607.9M624.8,1461.4V1607.9M632.8,1461.4V1607.9M639.4,1461.4V1607.9M646.0,1461.4V1607.9M652.6,1461.4V1607.9M660.6,1461.4V1607.9M661.8,1461.4V1607.9M670.9,1461.4V1607.9M671.9,1461.4V1607.9M681.2,1461.4V1607.9M687.7,1461.4V1607.9M694.1,1461.4V1607.9M700.6,1461.4V1607.9M709.4,1461.4V1607.9M719.4,1461.4V1607.9M728.4,1461.4V1607.9M728.6,1461.4V1607.9M737.4,1461.4V1607.9M745.9,1461.4V1607.9M754.4,1461.4V1607.9M762.4,1461.4V1607.9M762.6,1461.4V1607.9M770.7,1461.4V1607.9M778.8,1461.4V1607.9M786.9,1461.4V1607.9M795,1461.4V1607.9M803.7,1461.4V1607.9M811.3,1461.4V1607.9" stroke="#4a4a4a" stroke-width="0.6"/>
<use href="#wz16" transform="translate(0,1461.43) scale(1,1.234)"/>
<use href="#wz16" transform="translate(0,1485.67) scale(1,1.119)"/>
<use href="#wz16" transform="translate(0,1507.64) scale(1,1.000)"/>
<use href="#wz16" transform="translate(0,1527.28) scale(1,1.000)"/>
<use href="#wz16" transform="translate(0,1546.93) scale(1,1.102)"/>
<use href="#wz16" transform="translate(0,1568.57) scale(1,1.000)"/>
<use href="#wz16" transform="translate(0,1588.21) scale(1,1.000)"/>
<path d="M326.0,1609.9h11.2V1708.1h-11.2zM357.1,1609.9h9.3V1708.1h-9.3zM366.4,1609.9h10.6V1708.1h-10.6zM411.5,1609.9h10.1V1708.1h-10.1zM453.5,1609.9h9.8V1708.1h-9.8zM495.6,1609.9h8.8V1708.1h-8.8zM538.9,1609.9h8.5V1708.1h-8.5zM580.4,1609.9h7.7V1708.1h-7.7zM615.2,1609.9h8.4V1708.1h-8.4zM661.8,1609.9h9.1V1708.1h-9.1zM719.4,1609.9h9.0V1708.1h-9.0zM762.6,1609.9h8.1V1708.1h-8.1z" fill="url(#hat)" stroke="#222" stroke-width="0.5"/>
<path d="M300,1607.9V1708.1M308.7,1607.9V1708.1M317.3,1607.9V1708.1M326.0,1607.9V1708.1M337.2,1607.9V1708.1M348.3,1607.9V1708.1M356.6,1607.9V1708.1M357.1,1607.9V1708.1M366.4,1607.9V1708.1M377.0,1607.9V1708.1M377.6,1607.9V1708.1M385.0,1607.9V1708.1M393.6,1607.9V1708.1M402.3,1607.9V1708.1M411.0,1607.9V1708.1M411.5,1607.9V1708.1M421.6,1607.9V1708.1M422.2,1607.9V1708.1M429.6,1607.9V1708.1M437.6,1607.9V1708.1M445.5,1607.9V1708.1M453.5,1607.9V1708.1M463.3,1607.9V1708.1M464.1,1607.9V1708.1M470.5,1607.9V1708.1M478.5,1607.9V1708.1M486.5,1607.9V1708.1M495.6,1607.9V1708.1M504.4,1607.9V1708.1M505.2,1607.9V1708.1M512.6,1607.9V1708.1M522.6,1607.9V1708.1M530.5,1607.9V1708.1M538.9,1607.9V1708.1M547.4,1607.9V1708.1M547.7,1607.9V1708.1M555.7,1607.9V1708.1M562.0,1607.9V1708.1M568.2,1607.9V1708.1M574.5,1607.9V1708.1M580.4,1607.9V1708.1M588.1,1607.9V1708.1M596.9,1607.9V1708.1M605.4,1607.9V1708.1M615.2,1607.9V1708.1M623.6,1607.9V1708.1M624.8,1607.9V1708.1M632.8,1607.9V1708.1M639.4,1607.9V1708.1M646.0,1607.9V1708.1M652.6,1607.9V1708.1M660.6,1607.9V1708.1M661.8,1607.9V1708.1M670.9,1607.9V1708.1M671.9,1607.9V1708.1M681.2,1607.9V1708.1M687.7,1607.9V1708.1M694.1,1607.9V1708.1M700.6,1607.9V1708.1M709.4,1607.9V1708.1M719.4,1607.9V1708.1M728.4,1607.9V1708.1M728.6,1607.9V1708.1M737.4,1607.9V1708.1M745.9,1607.9V1708.1M754.4,1607.9V1708.1M762.4,1607.9V1708.1M762.6,1607.9V1708.1M770.7,1607.9V1708.1M778.8,1607.9V1708.1M786.9,1607.9V1708.1M795,1607.9V1708.1M803.7,1607.9V1708.1M811.3,1607.9V1708.1" stroke="#4a4a4a" stroke-width="0.6"/>
<use href="#wz17" transform="translate(0,1607.85) scale(1,1.102)"/>
<use href="#wz17" transform="translate(0,1629.49) scale(1,1.000)"/>
<use href="#wz17" transform="translate(0,1649.13) scale(1,1.000)"/>
<use href="#wz17" transform="translate(0,1668.77) scale(1,1.000)"/>
<use href="#wz17" transform="translate(0,1688.42) scale(1,1.000)"/>
<path d="M326.0,1710.1h11.2V1736.0h-11.2z" fill="url(#hat)" stroke="#222" stroke-width="0.5"/>
<path d="M300,1708.1V1736.0M308.7,1708.1V1736.0M317.3,1708.1V1736.0M326.0,1708.1V1736.0M337.2,1708.1V1736.0M348.3,1708.1V1736.0M356.6,1708.1V1736.0M363.6,1708.1V1736.0M370.6,1708.1V1736.0M377.6,1708.1V1736.0M385.0,1708.1V1736.0M393.6,1708.1V1736.0M402.3,1708.1V1736.0M411.0,1708.1V1736.0M422.2,1708.1V1736.0M429.6,1708.1V1736.0M437.6,1708.1V1736.0M445.5,1708.1V1736.0M454.8,1708.1V1736.0M464.1,1708.1V1736.0M470.5,1708.1V1736.0M478.5,1708.1V1736.0M486.5,1708.1V1736.0M495.9,1708.1V1736.0M505.2,1708.1V1736.0M512.6,1708.1V1736.0M522.6,1708.1V1736.0M530.5,1708.1V1736.0M539.1,1708.1V1736.0M547.7,1708.1V1736.0M555.7,1708.1V1736.0M562.0,1708.1V1736.0M568.2,1708.1V1736.0M574.5,1708.1V1736.0M582.0,1708.1V1736.0M589.4,1708.1V1736.0M596.9,1708.1V1736.0M605.4,1708.1V1736.0M611.9,1708.1V1736.0M618.3,1708.1V1736.0M624.8,1708.1V1736.0M632.8,1708.1V1736.0M639.4,1708.1V1736.0M646.0,1708.1V1736.0M652.6,1708.1V1736.0M660.6,1708.1V1736.0M671.9,1708.1V1736.0M681.2,1708.1V1736.0M687.7,1708.1V1736.0M694.1,1708.1V1736.0M700.6,1708.1V1736.0M709.4,1708.1V1736.0M715.8,1708.1V1736.0M722.2,1708.1V1736.0M728.6,1708.1V1736.0M737.4,1708.1V1736.0M745.9,1708.1V1736.0M754.4,1708.1V1736.0M762.4,1708.1V1736.0M770.6,1708.1V1736.0M778.8,1708.1V1736.0M786.9,1708.1V1736.0M795,1708.1V1736.0M803.7,1708.1V1736.0M811.3,1708.1V1736.0" stroke="#4a4a4a" stroke-width="0.6"/>
<use href="#wz18" transform="translate(0,1708.06) scale(1,1.424)"/>
<rect x="300" y="1032.71" width="511.29999999999995" height="23.23" fill="url(#hat2)"/>
<path d="M300,1032.7V1055.9M307.5,1032.7V1055.9M315.0,1032.7V1055.9M322.5,1032.7V1055.9M329.9,1032.7V1055.9M337.4,1032.7V1055.9M344.9,1032.7V1055.9M352.4,1032.7V1055.9M359.9,1032.7V1055.9M367.4,1032.7V1055.9M374.9,1032.7V1055.9M382.4,1032.7V1055.9M389.8,1032.7V1055.9M397.3,1032.7V1055.9M404.8,1032.7V1055.9M412.3,1032.7V1055.9M421.3,1032.7V1055.9M421.5,1032.7V1055.9M429.2,1032.7V1055.9M437.9,1032.7V1055.9M445.9,1032.7V1055.9M454.2,1032.7V1055.9M463.0,1032.7V1055.9M471.1,1032.7V1055.9M479.2,1032.7V1055.9M487.5,1032.7V1055.9M487.6,1032.7V1055.9M495.6,1032.7V1055.9M504.4,1032.7V1055.9M505.2,1032.7V1055.9M512.6,1032.7V1055.9M522.6,1032.7V1055.9M530.5,1032.7V1055.9M538.9,1032.7V1055.9M547.4,1032.7V1055.9M547.7,1032.7V1055.9M555.7,1032.7V1055.9M562.0,1032.7V1055.9M568.2,1032.7V1055.9M574.5,1032.7V1055.9M580.4,1032.7V1055.9M588.1,1032.7V1055.9M596.9,1032.7V1055.9M605.4,1032.7V1055.9M615.2,1032.7V1055.9M623.6,1032.7V1055.9M624.8,1032.7V1055.9M632.8,1032.7V1055.9M639.4,1032.7V1055.9M646.0,1032.7V1055.9M652.6,1032.7V1055.9M660.6,1032.7V1055.9M661.8,1032.7V1055.9M670.9,1032.7V1055.9M671.9,1032.7V1055.9M681.2,1032.7V1055.9M687.7,1032.7V1055.9M694.1,1032.7V1055.9M700.6,1032.7V1055.9M709.4,1032.7V1055.9M719.4,1032.7V1055.9M728.4,1032.7V1055.9M728.6,1032.7V1055.9M737.4,1032.7V1055.9M745.9,1032.7V1055.9M754.4,1032.7V1055.9M762.4,1032.7V1055.9M762.6,1032.7V1055.9M770.7,1032.7V1055.9M778.8,1032.7V1055.9M786.9,1032.7V1055.9M795,1032.7V1055.9M803.7,1032.7V1055.9M811.3,1032.7V1055.9" stroke="#1a1a1a" stroke-width="0.65"/>
<polyline points="614.5,221.4 489,347 487.7,380 390,1470" fill="none" stroke="#d08a8a" stroke-width="0.6" stroke-dasharray="4 3"/>
<path d="M300,39.7h511.29999999999995v3h-511.29999999999995zM300,65.4h511.29999999999995v3h-511.29999999999995zM300,90.4h511.29999999999995v3h-511.29999999999995zM300,115.6h511.29999999999995v3h-511.29999999999995zM300,140.7h511.29999999999995v3h-511.29999999999995zM300,166.0h511.29999999999995v3h-511.29999999999995zM300,191.55h511.29999999999995v2.8h-511.29999999999995zM300,215.19h511.29999999999995v2.8h-511.29999999999995zM300,238.82h511.29999999999995v6.0h-511.29999999999995zM300,262.46h511.29999999999995v3.6h-511.29999999999995zM300,282.10h511.29999999999995v3.6h-511.29999999999995zM300,301.75h511.29999999999995v2.8h-511.29999999999995zM300,321.39h511.29999999999995v2.8h-511.29999999999995zM300,341.03h511.29999999999995v2.8h-511.29999999999995zM300,360.67h511.29999999999995v3.6h-511.29999999999995zM300,382.31h511.29999999999995v2.8h-511.29999999999995zM300,401.95h511.29999999999995v2.8h-511.29999999999995zM300,421.60h511.29999999999995v2.8h-511.29999999999995zM300,441.24h511.29999999999995v2.8h-511.29999999999995zM300,460.88h511.29999999999995v2.8h-511.29999999999995zM300,480.52h511.29999999999995v2.8h-511.29999999999995zM300,500.16h511.29999999999995v2.8h-511.29999999999995zM300,524.13h511.29999999999995v3.6h-511.29999999999995zM300,545.77h511.29999999999995v2.8h-511.29999999999995zM300,565.42h511.29999999999995v2.8h-511.29999999999995zM300,585.06h511.29999999999995v2.8h-511.29999999999995zM300,604.70h511.29999999999995v2.8h-511.29999999999995zM300,624.34h511.29999999999995v2.8h-511.29999999999995zM300,643.99h511.29999999999995v2.8h-511.29999999999995zM300,663.63h511.29999999999995v2.8h-511.29999999999995zM300,685.27h511.29999999999995v3.6h-511.29999999999995zM300,704.91h511.29999999999995v2.8h-511.29999999999995zM300,724.55h511.29999999999995v2.8h-511.29999999999995zM300,744.19h511.29999999999995v2.8h-511.29999999999995zM300,763.84h511.29999999999995v2.8h-511.29999999999995zM300,783.48h511.29999999999995v2.8h-511.29999999999995zM300,803.12h511.29999999999995v2.8h-511.29999999999995zM300,822.76h511.29999999999995v2.8h-511.29999999999995zM300,844.40h511.29999999999995v2.8h-511.29999999999995zM300,866.04h511.29999999999995v2.8h-511.29999999999995zM300,885.68h511.29999999999995v2.8h-511.29999999999995zM300,908.66h511.29999999999995v2.8h-511.29999999999995zM300,928.30h511.29999999999995v3.6h-511.29999999999995zM300,947.94h511.29999999999995v2.8h-511.29999999999995zM300,967.58h511.29999999999995v2.8h-511.29999999999995zM300,987.22h511.29999999999995v2.8h-511.29999999999995zM300,1006.87h511.29999999999995v2.8h-511.29999999999995zM300,1028.51h511.29999999999995v2.8h-511.29999999999995zM300,1056.04h511.29999999999995v2.6h-511.29999999999995zM300,1100.75h511.29999999999995v2.8h-511.29999999999995zM300,1120.39h511.29999999999995v2.8h-511.29999999999995zM300,1140.03h511.29999999999995v2.8h-511.29999999999995zM300,1159.68h511.29999999999995v2.8h-511.29999999999995zM300,1179.32h511.29999999999995v2.8h-511.29999999999995zM300,1198.96h511.29999999999995v2.8h-511.29999999999995zM300,1218.60h511.29999999999995v2.8h-511.29999999999995zM300,1240.24h511.29999999999995v2.8h-511.29999999999995zM300,1259.88h511.29999999999995v2.8h-511.29999999999995zM300,1279.53h511.29999999999995v2.8h-511.29999999999995zM300,1299.17h511.29999999999995v2.8h-511.29999999999995zM300,1318.81h511.29999999999995v2.8h-511.29999999999995zM300,1338.45h511.29999999999995v2.8h-511.29999999999995zM300,1358.09h511.29999999999995v2.8h-511.29999999999995zM300,1377.74h511.29999999999995v2.8h-511.29999999999995zM300,1399.58h511.29999999999995v4.5h-511.29999999999995zM300,1419.22h511.29999999999995v4.5h-511.29999999999995zM300,1438.96h511.29999999999995v4.6h-511.29999999999995zM300,1460.23h511.29999999999995v2.2h-511.29999999999995zM300,1485.17h511.29999999999995v4.2h-511.29999999999995zM300,1506.84h511.29999999999995v2.8h-511.29999999999995zM300,1526.48h511.29999999999995v2.8h-511.29999999999995zM300,1546.13h511.29999999999995v2.8h-511.29999999999995zM300,1567.77h511.29999999999995v2.8h-511.29999999999995zM300,1587.41h511.29999999999995v2.8h-511.29999999999995zM300,1607.05h511.29999999999995v2.8h-511.29999999999995zM300,1628.69h511.29999999999995v3.6h-511.29999999999995zM300,1648.33h511.29999999999995v2.8h-511.29999999999995zM300,1667.97h511.29999999999995v2.8h-511.29999999999995zM300,1687.62h511.29999999999995v2.8h-511.29999999999995zM300,1707.26h511.29999999999995v2.8h-511.29999999999995zM300,1735.22h511.29999999999995v2.8h-511.29999999999995z" fill="#bdbdbd" stroke="#3a3a3a" stroke-width="0.5"/>
<path d="M300,42.7h511.29999999999995v1.5h-511.29999999999995zM300,68.4h511.29999999999995v1.5h-511.29999999999995zM300,93.4h511.29999999999995v1.5h-511.29999999999995zM300,118.6h511.29999999999995v1.5h-511.29999999999995zM300,143.7h511.29999999999995v1.5h-511.29999999999995zM300,169.0h511.29999999999995v1.5h-511.29999999999995zM300,194.35h511.29999999999995v1.8h-511.29999999999995zM300,217.99h511.29999999999995v1.8h-511.29999999999995zM300,244.82h511.29999999999995v1.8h-511.29999999999995zM300,266.06h511.29999999999995v1.8h-511.29999999999995zM300,285.70h511.29999999999995v1.8h-511.29999999999995zM300,304.55h511.29999999999995v1.8h-511.29999999999995zM300,324.19h511.29999999999995v1.8h-511.29999999999995zM300,343.83h511.29999999999995v1.8h-511.29999999999995zM300,364.27h511.29999999999995v1.8h-511.29999999999995zM300,385.11h511.29999999999995v1.8h-511.29999999999995zM300,404.75h511.29999999999995v1.8h-511.29999999999995zM300,424.40h511.29999999999995v1.8h-511.29999999999995zM300,444.04h511.29999999999995v1.8h-511.29999999999995zM300,463.68h511.29999999999995v1.8h-511.29999999999995zM300,483.32h511.29999999999995v1.8h-511.29999999999995zM300,502.96h511.29999999999995v1.8h-511.29999999999995zM300,527.73h511.29999999999995v1.8h-511.29999999999995zM300,548.57h511.29999999999995v1.8h-511.29999999999995zM300,568.22h511.29999999999995v1.8h-511.29999999999995zM300,587.86h511.29999999999995v1.8h-511.29999999999995zM300,607.50h511.29999999999995v1.8h-511.29999999999995zM300,627.14h511.29999999999995v1.8h-511.29999999999995zM300,646.79h511.29999999999995v1.8h-511.29999999999995zM300,666.43h511.29999999999995v1.8h-511.29999999999995zM300,688.87h511.29999999999995v1.8h-511.29999999999995zM300,707.71h511.29999999999995v1.8h-511.29999999999995zM300,727.35h511.29999999999995v1.8h-511.29999999999995zM300,746.99h511.29999999999995v1.8h-511.29999999999995zM300,766.64h511.29999999999995v1.8h-511.29999999999995zM300,786.28h511.29999999999995v1.8h-511.29999999999995zM300,805.92h511.29999999999995v1.8h-511.29999999999995zM300,825.56h511.29999999999995v1.8h-511.29999999999995zM300,847.20h511.29999999999995v1.8h-511.29999999999995zM300,868.84h511.29999999999995v1.8h-511.29999999999995zM300,888.48h511.29999999999995v1.8h-511.29999999999995zM300,911.46h511.29999999999995v1.8h-511.29999999999995zM300,931.90h511.29999999999995v1.8h-511.29999999999995zM300,950.74h511.29999999999995v1.8h-511.29999999999995zM300,970.38h511.29999999999995v1.8h-511.29999999999995zM300,990.02h511.29999999999995v1.8h-511.29999999999995zM300,1009.67h511.29999999999995v1.8h-511.29999999999995zM300,1031.31h511.29999999999995v1.8h-511.29999999999995zM300,1060.04h511.29999999999995v1.6h-511.29999999999995zM300,1078.81h511.29999999999995v1.0h-511.29999999999995zM300,1103.55h511.29999999999995v1.8h-511.29999999999995zM300,1123.19h511.29999999999995v1.8h-511.29999999999995zM300,1142.83h511.29999999999995v1.8h-511.29999999999995zM300,1162.48h511.29999999999995v1.8h-511.29999999999995zM300,1182.12h511.29999999999995v1.8h-511.29999999999995zM300,1201.76h511.29999999999995v1.8h-511.29999999999995zM300,1221.40h511.29999999999995v1.8h-511.29999999999995zM300,1243.04h511.29999999999995v1.8h-511.29999999999995zM300,1262.68h511.29999999999995v1.8h-511.29999999999995zM300,1282.33h511.29999999999995v1.8h-511.29999999999995zM300,1301.97h511.29999999999995v1.8h-511.29999999999995zM300,1321.61h511.29999999999995v1.8h-511.29999999999995zM300,1341.25h511.29999999999995v1.8h-511.29999999999995zM300,1360.89h511.29999999999995v1.8h-511.29999999999995zM300,1380.54h511.29999999999995v1.8h-511.29999999999995zM300,1404.38h511.29999999999995v1.8h-511.29999999999995zM300,1424.12h511.29999999999995v1.8h-511.29999999999995zM300,1443.76h511.29999999999995v1.8h-511.29999999999995zM300,1489.47h511.29999999999995v1.8h-511.29999999999995zM300,1509.64h511.29999999999995v1.8h-511.29999999999995zM300,1529.28h511.29999999999995v1.8h-511.29999999999995zM300,1548.93h511.29999999999995v1.8h-511.29999999999995zM300,1570.57h511.29999999999995v1.8h-511.29999999999995zM300,1590.21h511.29999999999995v1.8h-511.29999999999995zM300,1609.85h511.29999999999995v1.8h-511.29999999999995zM300,1632.29h511.29999999999995v1.8h-511.29999999999995zM300,1651.13h511.29999999999995v1.8h-511.29999999999995zM300,1670.77h511.29999999999995v1.8h-511.29999999999995zM300,1690.42h511.29999999999995v1.8h-511.29999999999995zM300,1710.06h511.29999999999995v1.8h-511.29999999999995zM300,1738.02h511.29999999999995v1.8h-511.29999999999995z" fill="#000"/>
</g>
<polyline points="811.3,18.4 445.6,382.8 344.4,1378.0 357.5,1462.5 338.5,1462.5 338.5,1608.0 315.4,1608.0 315.4,1740.0" fill="none" stroke="#333" stroke-width="0.8"/>
<line x1="811.3" y1="18.4" x2="811.3" y2="1740" stroke="#222" stroke-width="1"/>
<rect x="811.9" y="525" width="9.7" height="1065.0" fill="#fff" stroke="#444" stroke-width="0.7"/>
<path d="M811.9,546.6h9.7M811.9,566.2h9.7M811.9,585.9h9.7M811.9,605.5h9.7M811.9,625.1h9.7M811.9,644.8h9.7M811.9,664.4h9.7M811.9,686.1h9.7M811.9,705.7h9.7M811.9,725.4h9.7M811.9,745.0h9.7M811.9,764.6h9.7M811.9,784.3h9.7M811.9,803.9h9.7M811.9,823.6h9.7M811.9,845.2h9.7M811.9,866.8h9.7M811.9,886.5h9.7M811.9,909.5h9.7M811.9,929.1h9.7M811.9,948.7h9.7M811.9,968.4h9.7M811.9,988.0h9.7M811.9,1007.7h9.7M811.9,1029.3h9.7M811.9,1055.9h9.7M811.9,1079.9h9.7M811.9,1101.5h9.7M811.9,1121.2h9.7M811.9,1140.8h9.7M811.9,1160.5h9.7M811.9,1180.1h9.7M811.9,1199.8h9.7M811.9,1219.4h9.7M811.9,1241.0h9.7M811.9,1260.7h9.7M811.9,1280.3h9.7M811.9,1300.0h9.7M811.9,1319.6h9.7M811.9,1339.3h9.7M811.9,1358.9h9.7M811.9,1378.5h9.7M811.9,1400.2h9.7M811.9,1419.8h9.7M811.9,1439.5h9.7M811.9,1461.4h9.7M811.9,1485.7h9.7M811.9,1507.6h9.7M811.9,1527.3h9.7M811.9,1546.9h9.7M811.9,1568.6h9.7M811.9,1588.2h9.7" stroke="#666" stroke-width="0.5"/>
<rect x="338.5" y="1446.8" width="17.5" height="15.2" fill="none" stroke="#777" stroke-width="0.5"/>
<path d="M811.9,525V517.7h6.5v7" fill="none" stroke="#666" stroke-width="0.6"/>
<rect x="315.4" y="1600" width="23.1" height="8" fill="#fff" stroke="#444" stroke-width="0.6"/>
<rect x="324.5" y="1727.8" width="162.5" height="7.6" fill="#fff" stroke="#555" stroke-width="0.5"/>
<path d="M333.75,1727.8v7.6M340,1727.8v7.6M356,1727.8v7.6M363,1727.8v7.6M380,1727.8v7.6M386,1727.8v7.6M402.5,1727.8v7.6M409.5,1727.8v7.6M426,1727.8v7.6M432.5,1727.8v7.6M449.5,1727.8v7.6M455.5,1727.8v7.6M472.5,1727.8v7.6M478.75,1727.8v7.6" stroke="#777" stroke-width="0.5"/>
<rect x="315.4" y="1736.0" width="473.0" height="41.5" fill="#b4b4b4" stroke="#333" stroke-width="0.7"/>
<rect x="315.4" y="1736.6" width="473.0" height="1.6" fill="#111"/>
<rect x="315.4" y="1738.2" width="473.0" height="3.2" fill="#444"/>
<path d="M318.5,1741.0V1777.5M327.1,1741.0V1777.5M335.7,1741.0V1777.5M344.3,1741.0V1777.5M352.9,1741.0V1777.5M361.5,1741.0V1777.5M370.1,1741.0V1777.5M378.7,1741.0V1777.5M387.3,1741.0V1777.5M395.9,1741.0V1777.5M404.5,1741.0V1777.5M413.1,1741.0V1777.5M421.7,1741.0V1777.5M430.3,1741.0V1777.5M438.9,1741.0V1777.5M447.5,1741.0V1777.5M456.1,1741.0V1777.5M464.7,1741.0V1777.5M473.3,1741.0V1777.5M481.9,1741.0V1777.5M490.5,1741.0V1777.5M499.1,1741.0V1777.5M507.7,1741.0V1777.5M516.3,1741.0V1777.5M524.9,1741.0V1777.5M533.5,1741.0V1777.5M542.1,1741.0V1777.5M550.7,1741.0V1777.5M559.3,1741.0V1777.5M567.9,1741.0V1777.5M576.5,1741.0V1777.5M585.1,1741.0V1777.5M593.7,1741.0V1777.5M602.3,1741.0V1777.5M610.9,1741.0V1777.5M619.5,1741.0V1777.5M628.1,1741.0V1777.5M636.7,1741.0V1777.5M645.3,1741.0V1777.5M653.9,1741.0V1777.5M662.5,1741.0V1777.5M671.1,1741.0V1777.5M679.7,1741.0V1777.5M688.3,1741.0V1777.5M696.9,1741.0V1777.5M705.5,1741.0V1777.5M714.1,1741.0V1777.5M722.7,1741.0V1777.5M731.3,1741.0V1777.5M739.9,1741.0V1777.5M748.5,1741.0V1777.5M757.1,1741.0V1777.5M765.7,1741.0V1777.5M774.3,1741.0V1777.5M782.9,1741.0V1777.5" stroke="#6a6a6a" stroke-width="0.5"/>
<rect x="495.8" y="1741.0" width="8.7" height="36.5" fill="#7a7a7a"/>
<rect x="538.5" y="1741.0" width="8.7" height="36.5" fill="#7a7a7a"/>
<path d="M315.4,1752H788.4" stroke="#666" stroke-width="0.6"/>
<rect x="728.7" y="1752.4" width="33.2" height="14.8" fill="#fff" stroke="#666" stroke-width="0.5"/>
<path d="M737,1752.4v14.8M745.3,1752.4v14.8M753.6,1752.4v14.8" stroke="#666" stroke-width="0.5"/>
<rect x="333.75" y="1737.0" width="6.6" height="40.5" fill="#e4e4e4" stroke="#777" stroke-width="0.5"/>
<rect x="356.4" y="1737.0" width="6.6" height="40.5" fill="#e4e4e4" stroke="#777" stroke-width="0.5"/>
<rect x="379.9" y="1737.0" width="6.6" height="40.5" fill="#e4e4e4" stroke="#777" stroke-width="0.5"/>
<rect x="403.3" y="1737.0" width="6.6" height="40.5" fill="#e4e4e4" stroke="#777" stroke-width="0.5"/>
<rect x="426.5" y="1737.0" width="6.6" height="40.5" fill="#e4e4e4" stroke="#777" stroke-width="0.5"/>
<rect x="449.9" y="1737.0" width="6.6" height="40.5" fill="#e4e4e4" stroke="#777" stroke-width="0.5"/>
<rect x="472.8" y="1737.0" width="6.6" height="40.5" fill="#e4e4e4" stroke="#777" stroke-width="0.5"/>
<rect x="788.4" y="1707.3" width="94.3" height="60.3" fill="#acacac" stroke="#333" stroke-width="0.7"/>
<path d="M788.4,1709.0h94.3M788.4,1710.6h94.3M788.4,1712.2h94.3M788.4,1713.8h94.3M788.4,1715.4h94.3M788.4,1717.0h94.3M788.4,1718.6h94.3M788.4,1720.2h94.3M788.4,1721.8h94.3M788.4,1723.4h94.3M788.4,1725.0h94.3M788.4,1726.6h94.3M788.4,1728.2h94.3M788.4,1729.8h94.3M788.4,1731.4h94.3M788.4,1733.0h94.3M788.4,1734.6h94.3M788.4,1736.2h94.3M788.4,1737.8h94.3M788.4,1739.4h94.3M788.4,1741.0h94.3M788.4,1742.6h94.3M788.4,1744.2h94.3M788.4,1745.8h94.3M788.4,1747.4h94.3M788.4,1749.0h94.3M788.4,1750.6h94.3M788.4,1752.2h94.3M788.4,1753.8h94.3M788.4,1755.4h94.3M788.4,1757.0h94.3M788.4,1758.6h94.3M788.4,1760.2h94.3M788.4,1761.8h94.3M788.4,1763.4h94.3M788.4,1765.0h94.3M788.4,1766.6h94.3" stroke="#8a8a8a" stroke-width="0.6"/>
<rect x="788.4" y="1707.3" width="2.2" height="60.3" fill="#fff" stroke="#444" stroke-width="0.4"/>
<rect x="810.2" y="1707.3" width="2.2" height="60.3" fill="#fff" stroke="#444" stroke-width="0.4"/>
<rect x="833.3" y="1707.3" width="2.2" height="60.3" fill="#fff" stroke="#444" stroke-width="0.4"/>
<rect x="856.6" y="1707.3" width="2.2" height="60.3" fill="#fff" stroke="#444" stroke-width="0.4"/>
<rect x="880.6" y="1707.3" width="2.2" height="60.3" fill="#fff" stroke="#444" stroke-width="0.4"/>
<rect x="786.5" y="1705.6" width="98.5" height="2.2" fill="#eee" stroke="#444" stroke-width="0.5"/>
<rect x="884.5" y="1727" width="10.2" height="40.6" fill="#fff" stroke="#333" stroke-width="0.7"/>
<rect x="884.5" y="1734" width="10.2" height="4" fill="#333"/>
<path d="M884.5,1731h10.2M884.5,1745h10.2" stroke="#555" stroke-width="0.5"/>
<rect x="324.0" y="1777.5" width="231.3" height="152.5" fill="#fff" stroke="#333" stroke-width="0.7"/>
<rect x="555.3" y="1767.6" width="339.4" height="162.4" fill="#fff" stroke="#333" stroke-width="0.7"/>
<rect x="555.3" y="1767.6" width="339.4" height="7.6" fill="#fff" stroke="#555" stroke-width="0.5"/>
<path d="M328.0,1777.5V1930M336.0,1777.5V1930M344.0,1777.5V1930M352.0,1777.5V1930M360.0,1777.5V1930M368.0,1777.5V1930M376.0,1777.5V1930M384.0,1777.5V1930M392.0,1777.5V1930M400.0,1777.5V1930M408.0,1777.5V1930M416.0,1777.5V1930M424.0,1777.5V1930M432.0,1777.5V1930M440.0,1777.5V1930M448.0,1777.5V1930M456.0,1777.5V1930M464.0,1777.5V1930M472.0,1777.5V1930M480.0,1777.5V1930M488.0,1777.5V1930M496.0,1777.5V1930M504.0,1777.5V1930M512.0,1777.5V1930M520.0,1777.5V1930M528.0,1777.5V1930M536.0,1777.5V1930M544.0,1777.5V1930M552.0,1777.5V1930M560.0,1777.5V1930M568.0,1777.5V1930M576.0,1777.5V1930M584.0,1777.5V1930M592.0,1777.5V1930M600.0,1777.5V1930M608.0,1777.5V1930M616.0,1777.5V1930M624.0,1777.5V1930M632.0,1777.5V1930M640.0,1777.5V1930M648.0,1777.5V1930M656.0,1777.5V1930M664.0,1777.5V1930M672.0,1777.5V1930M680.0,1777.5V1930M688.0,1777.5V1930M696.0,1777.5V1930M704.0,1777.5V1930M712.0,1777.5V1930M720.0,1777.5V1930M728.0,1777.5V1930M736.0,1777.5V1930M744.0,1777.5V1930M752.0,1777.5V1930M760.0,1777.5V1930M768.0,1777.5V1930M776.0,1777.5V1930M784.0,1777.5V1930M792.0,1777.5V1930M800.0,1777.5V1930M808.0,1777.5V1930M816.0,1777.5V1930M824.0,1777.5V1930M832.0,1777.5V1930M840.0,1777.5V1930M848.0,1777.5V1930M856.0,1777.5V1930M864.0,1777.5V1930M872.0,1777.5V1930M880.0,1777.5V1930M888.0,1777.5V1930" stroke="#666" stroke-width="0.5"/>
<rect x="409.4" y="1781" width="17.1" height="144" fill="#c4c4c4"/>
<rect x="495.8" y="1777.5" width="8.7" height="152.5" fill="#707070"/>
<rect x="538.5" y="1777.5" width="8.7" height="152.5" fill="#707070"/>
<rect x="716.7" y="1781" width="16.7" height="144" fill="#c8c8c8"/>
<rect x="740.2" y="1781" width="8.4" height="144" fill="#c8c8c8"/>
<rect x="692" y="1904" width="14" height="24" fill="#c0c0c0"/>
<rect x="885.4" y="1775" width="9.3" height="150" fill="#c0c0c0"/>
<path d="M324.0,1775.5h570.7v2.3h-570.7zM324.0,1803.4h570.7v2.3h-570.7zM324.0,1823.1h570.7v2.3h-570.7zM324.0,1842.7h570.7v2.3h-570.7zM324.0,1862.4h570.7v2.3h-570.7zM324.0,1882.0h570.7v2.3h-570.7zM324.0,1901.7h570.7v2.3h-570.7zM324.0,1928.8h570.7v2.3h-570.7z" fill="#808080"/>
<path d="M324.0,1778.2h570.7v3.6h-570.7zM324.0,1806.1h570.7v3.6h-570.7zM324.0,1825.8h570.7v3.6h-570.7zM324.0,1845.4h570.7v3.6h-570.7zM324.0,1865.1h570.7v3.6h-570.7zM324.0,1884.7h570.7v3.6h-570.7zM324.0,1904.4h570.7v3.6h-570.7zM324.0,1931.5h570.7v3.6h-570.7z" fill="#3c3c3c" stroke="#111" stroke-width="0.5"/>
<path d="M333.6,1777.5h6.6V1930h-6.6zM356.6,1777.5h6.6V1930h-6.6zM380.2,1777.5h6.6V1930h-6.6zM403.6,1777.5h6.6V1930h-6.6zM426.8,1777.5h6.6V1930h-6.6zM450.2,1777.5h6.6V1930h-6.6zM473.2,1777.5h6.6V1930h-6.6zM563.8,1777.5h6.6V1930h-6.6zM587.8,1777.5h6.6V1930h-6.6zM611.6,1777.5h6.6V1930h-6.6zM636.8,1777.5h6.6V1930h-6.6zM660.9,1777.5h6.6V1930h-6.6zM685.4,1777.5h6.6V1930h-6.6zM709.9,1777.5h6.6V1930h-6.6zM734,1777.5h6.6V1930h-6.6zM758,1777.5h6.6V1930h-6.6zM782.8,1777.5h6.6V1930h-6.6zM807,1777.5h6.6V1930h-6.6zM831,1777.5h6.6V1930h-6.6zM854.8,1777.5h6.6V1930h-6.6zM878.7,1777.5h6.6V1930h-6.6z" fill="#e2e2e2" stroke="#777" stroke-width="0.5"/>
<path d="M334.8,1776.9h4.2v1.8h-4.2zM357.8,1776.9h4.2v1.8h-4.2zM381.4,1776.9h4.2v1.8h-4.2zM404.8,1776.9h4.2v1.8h-4.2zM428.0,1776.9h4.2v1.8h-4.2zM451.4,1776.9h4.2v1.8h-4.2zM474.4,1776.9h4.2v1.8h-4.2zM565.0,1776.9h4.2v1.8h-4.2zM589.0,1776.9h4.2v1.8h-4.2zM612.8,1776.9h4.2v1.8h-4.2zM638.0,1776.9h4.2v1.8h-4.2zM662.1,1776.9h4.2v1.8h-4.2zM686.6,1776.9h4.2v1.8h-4.2zM711.1,1776.9h4.2v1.8h-4.2zM735.2,1776.9h4.2v1.8h-4.2zM759.2,1776.9h4.2v1.8h-4.2zM784.0,1776.9h4.2v1.8h-4.2zM808.2,1776.9h4.2v1.8h-4.2zM832.2,1776.9h4.2v1.8h-4.2zM856.0,1776.9h4.2v1.8h-4.2zM879.9,1776.9h4.2v1.8h-4.2zM334.8,1804.8h4.2v1.8h-4.2zM357.8,1804.8h4.2v1.8h-4.2zM381.4,1804.8h4.2v1.8h-4.2zM404.8,1804.8h4.2v1.8h-4.2zM428.0,1804.8h4.2v1.8h-4.2zM451.4,1804.8h4.2v1.8h-4.2zM474.4,1804.8h4.2v1.8h-4.2zM565.0,1804.8h4.2v1.8h-4.2zM589.0,1804.8h4.2v1.8h-4.2zM612.8,1804.8h4.2v1.8h-4.2zM638.0,1804.8h4.2v1.8h-4.2zM662.1,1804.8h4.2v1.8h-4.2zM686.6,1804.8h4.2v1.8h-4.2zM711.1,1804.8h4.2v1.8h-4.2zM735.2,1804.8h4.2v1.8h-4.2zM759.2,1804.8h4.2v1.8h-4.2zM784.0,1804.8h4.2v1.8h-4.2zM808.2,1804.8h4.2v1.8h-4.2zM832.2,1804.8h4.2v1.8h-4.2zM856.0,1804.8h4.2v1.8h-4.2zM879.9,1804.8h4.2v1.8h-4.2zM334.8,1824.5h4.2v1.8h-4.2zM357.8,1824.5h4.2v1.8h-4.2zM381.4,1824.5h4.2v1.8h-4.2zM404.8,1824.5h4.2v1.8h-4.2zM428.0,1824.5h4.2v1.8h-4.2zM451.4,1824.5h4.2v1.8h-4.2zM474.4,1824.5h4.2v1.8h-4.2zM565.0,1824.5h4.2v1.8h-4.2zM589.0,1824.5h4.2v1.8h-4.2zM612.8,1824.5h4.2v1.8h-4.2zM638.0,1824.5h4.2v1.8h-4.2zM662.1,1824.5h4.2v1.8h-4.2zM686.6,1824.5h4.2v1.8h-4.2zM711.1,1824.5h4.2v1.8h-4.2zM735.2,1824.5h4.2v1.8h-4.2zM759.2,1824.5h4.2v1.8h-4.2zM784.0,1824.5h4.2v1.8h-4.2zM808.2,1824.5h4.2v1.8h-4.2zM832.2,1824.5h4.2v1.8h-4.2zM856.0,1824.5h4.2v1.8h-4.2zM879.9,1824.5h4.2v1.8h-4.2zM334.8,1844.1h4.2v1.8h-4.2zM357.8,1844.1h4.2v1.8h-4.2zM381.4,1844.1h4.2v1.8h-4.2zM404.8,1844.1h4.2v1.8h-4.2zM428.0,1844.1h4.2v1.8h-4.2zM451.4,1844.1h4.2v1.8h-4.2zM474.4,1844.1h4.2v1.8h-4.2zM565.0,1844.1h4.2v1.8h-4.2zM589.0,1844.1h4.2v1.8h-4.2zM612.8,1844.1h4.2v1.8h-4.2zM638.0,1844.1h4.2v1.8h-4.2zM662.1,1844.1h4.2v1.8h-4.2zM686.6,1844.1h4.2v1.8h-4.2zM711.1,1844.1h4.2v1.8h-4.2zM735.2,1844.1h4.2v1.8h-4.2zM759.2,1844.1h4.2v1.8h-4.2zM784.0,1844.1h4.2v1.8h-4.2zM808.2,1844.1h4.2v1.8h-4.2zM832.2,1844.1h4.2v1.8h-4.2zM856.0,1844.1h4.2v1.8h-4.2zM879.9,1844.1h4.2v1.8h-4.2zM334.8,1863.8h4.2v1.8h-4.2zM357.8,1863.8h4.2v1.8h-4.2zM381.4,1863.8h4.2v1.8h-4.2zM404.8,1863.8h4.2v1.8h-4.2zM428.0,1863.8h4.2v1.8h-4.2zM451.4,1863.8h4.2v1.8h-4.2zM474.4,1863.8h4.2v1.8h-4.2zM565.0,1863.8h4.2v1.8h-4.2zM589.0,1863.8h4.2v1.8h-4.2zM612.8,1863.8h4.2v1.8h-4.2zM638.0,1863.8h4.2v1.8h-4.2zM662.1,1863.8h4.2v1.8h-4.2zM686.6,1863.8h4.2v1.8h-4.2zM711.1,1863.8h4.2v1.8h-4.2zM735.2,1863.8h4.2v1.8h-4.2zM759.2,1863.8h4.2v1.8h-4.2zM784.0,1863.8h4.2v1.8h-4.2zM808.2,1863.8h4.2v1.8h-4.2zM832.2,1863.8h4.2v1.8h-4.2zM856.0,1863.8h4.2v1.8h-4.2zM879.9,1863.8h4.2v1.8h-4.2zM334.8,1883.4h4.2v1.8h-4.2zM357.8,1883.4h4.2v1.8h-4.2zM381.4,1883.4h4.2v1.8h-4.2zM404.8,1883.4h4.2v1.8h-4.2zM428.0,1883.4h4.2v1.8h-4.2zM451.4,1883.4h4.2v1.8h-4.2zM474.4,1883.4h4.2v1.8h-4.2zM565.0,1883.4h4.2v1.8h-4.2zM589.0,1883.4h4.2v1.8h-4.2zM612.8,1883.4h4.2v1.8h-4.2zM638.0,1883.4h4.2v1.8h-4.2zM662.1,1883.4h4.2v1.8h-4.2zM686.6,1883.4h4.2v1.8h-4.2zM711.1,1883.4h4.2v1.8h-4.2zM735.2,1883.4h4.2v1.8h-4.2zM759.2,1883.4h4.2v1.8h-4.2zM784.0,1883.4h4.2v1.8h-4.2zM808.2,1883.4h4.2v1.8h-4.2zM832.2,1883.4h4.2v1.8h-4.2zM856.0,1883.4h4.2v1.8h-4.2zM879.9,1883.4h4.2v1.8h-4.2zM334.8,1903.1h4.2v1.8h-4.2zM357.8,1903.1h4.2v1.8h-4.2zM381.4,1903.1h4.2v1.8h-4.2zM404.8,1903.1h4.2v1.8h-4.2zM428.0,1903.1h4.2v1.8h-4.2zM451.4,1903.1h4.2v1.8h-4.2zM474.4,1903.1h4.2v1.8h-4.2zM565.0,1903.1h4.2v1.8h-4.2zM589.0,1903.1h4.2v1.8h-4.2zM612.8,1903.1h4.2v1.8h-4.2zM638.0,1903.1h4.2v1.8h-4.2zM662.1,1903.1h4.2v1.8h-4.2zM686.6,1903.1h4.2v1.8h-4.2zM711.1,1903.1h4.2v1.8h-4.2zM735.2,1903.1h4.2v1.8h-4.2zM759.2,1903.1h4.2v1.8h-4.2zM784.0,1903.1h4.2v1.8h-4.2zM808.2,1903.1h4.2v1.8h-4.2zM832.2,1903.1h4.2v1.8h-4.2zM856.0,1903.1h4.2v1.8h-4.2zM879.9,1903.1h4.2v1.8h-4.2zM334.8,1930.2h4.2v1.8h-4.2zM357.8,1930.2h4.2v1.8h-4.2zM381.4,1930.2h4.2v1.8h-4.2zM404.8,1930.2h4.2v1.8h-4.2zM428.0,1930.2h4.2v1.8h-4.2zM451.4,1930.2h4.2v1.8h-4.2zM474.4,1930.2h4.2v1.8h-4.2zM565.0,1930.2h4.2v1.8h-4.2zM589.0,1930.2h4.2v1.8h-4.2zM612.8,1930.2h4.2v1.8h-4.2zM638.0,1930.2h4.2v1.8h-4.2zM662.1,1930.2h4.2v1.8h-4.2zM686.6,1930.2h4.2v1.8h-4.2zM711.1,1930.2h4.2v1.8h-4.2zM735.2,1930.2h4.2v1.8h-4.2zM759.2,1930.2h4.2v1.8h-4.2zM784.0,1930.2h4.2v1.8h-4.2zM808.2,1930.2h4.2v1.8h-4.2zM832.2,1930.2h4.2v1.8h-4.2zM856.0,1930.2h4.2v1.8h-4.2zM879.9,1930.2h4.2v1.8h-4.2z" fill="#fff"/>
<path d="M348.0,1783.0h8v19.0h-8z M348.8,1801.3L352.0,1783.8L355.2,1801.3M522.0,1783.0h8v19.0h-8z M522.8,1801.3L526.0,1783.8L529.2,1801.3M691.5,1783.0h8v19.0h-8z M692.3,1801.3L695.5,1783.8L698.7,1801.3M869.8,1783.0h8v19.0h-8z M870.5999999999999,1801.3L873.8,1783.8L877.0,1801.3M348.0,1810.9h8v10.6h-8z M348.8,1821.0L352.0,1811.7L355.2,1821.0M522.0,1810.9h8v10.6h-8z M522.8,1821.0L526.0,1811.7L529.2,1821.0M691.5,1810.9h8v10.6h-8z M692.3,1821.0L695.5,1811.7L698.7,1821.0M869.8,1810.9h8v10.6h-8z M870.5999999999999,1821.0L873.8,1811.7L877.0,1821.0M348.0,1830.6h8v10.6h-8z M348.8,1840.6L352.0,1831.4L355.2,1840.6M522.0,1830.6h8v10.6h-8z M522.8,1840.6L526.0,1831.4L529.2,1840.6M691.5,1830.6h8v10.6h-8z M692.3,1840.6L695.5,1831.4L698.7,1840.6M869.8,1830.6h8v10.6h-8z M870.5999999999999,1840.6L873.8,1831.4L877.0,1840.6M348.0,1850.2h8v10.6h-8z M348.8,1860.3L352.0,1851.0L355.2,1860.3M522.0,1850.2h8v10.6h-8z M522.8,1860.3L526.0,1851.0L529.2,1860.3M691.5,1850.2h8v10.6h-8z M692.3,1860.3L695.5,1851.0L698.7,1860.3M869.8,1850.2h8v10.6h-8z M870.5999999999999,1860.3L873.8,1851.0L877.0,1860.3M348.0,1869.9h8v10.6h-8z M348.8,1879.9L352.0,1870.7L355.2,1879.9M522.0,1869.9h8v10.6h-8z M522.8,1879.9L526.0,1870.7L529.2,1879.9M691.5,1869.9h8v10.6h-8z M692.3,1879.9L695.5,1870.7L698.7,1879.9M869.8,1869.9h8v10.6h-8z M870.5999999999999,1879.9L873.8,1870.7L877.0,1879.9M348.0,1889.5h8v10.6h-8z M348.8,1899.6L352.0,1890.3L355.2,1899.6M522.0,1889.5h8v10.6h-8z M522.8,1899.6L526.0,1890.3L529.2,1899.6M691.5,1889.5h8v10.6h-8z M692.3,1899.6L695.5,1890.3L698.7,1899.6M869.8,1889.5h8v10.6h-8z M870.5999999999999,1899.6L873.8,1890.3L877.0,1899.6M348.0,1909.2h8v18.2h-8z M348.8,1926.7L352.0,1910.0L355.2,1926.7M522.0,1909.2h8v18.2h-8z M522.8,1926.7L526.0,1910.0L529.2,1926.7M691.5,1909.2h8v18.2h-8z M692.3,1926.7L695.5,1910.0L698.7,1926.7M869.8,1909.2h8v18.2h-8z M870.5999999999999,1926.7L873.8,1910.0L877.0,1926.7" fill="none" stroke="#333" stroke-width="0.6"/>
<rect x="269.4" y="1921.5" width="216.8" height="94" fill="#fff" stroke="#333" stroke-width="0.7"/>
<path d="M269.4,1922.8H486.2M269.4,1925.2H486.2M269.4,1928.7H486.2M269.4,1931.7H486.2M269.4,1956.8H486.2M269.4,1960.3H486.2M269.4,1980.2H486.2M269.4,1986H486.2M269.4,2012H486.2" stroke="#555" stroke-width="0.6"/>
<rect x="269.4" y="1991" width="216.8" height="1.6" fill="#222"/>
<path d="M276.0,1934.4h45.2v21.1h-45.2zM294.4,1936.4V1953.5M302.6,1936.4V1953.5M276.0,1940.4h45.2M276.0,1953.3h45.2M276.0,1961h45.2v19.0h-45.2zM294.4,1963V1978M302.6,1963V1978M276.0,1967.0h45.2M276.0,1977.8h45.2M276.0,1993h45.2v16.4h-45.2zM290.6,1997.2H306.6M298.6,1997.2V2009.4M328.8,1934.4h45.2v21.1h-45.2zM347.2,1936.4V1953.5M355.4,1936.4V1953.5M328.8,1940.4h45.2M328.8,1953.3h45.2M328.8,1961h45.2v19.0h-45.2zM347.2,1963V1978M355.4,1963V1978M328.8,1967.0h45.2M328.8,1977.8h45.2M328.8,1993h45.2v16.4h-45.2zM343.4,1997.2H359.4M351.4,1997.2V2009.4M381.5,1934.4h45.3v21.1h-45.3zM399.9,1936.4V1953.5M408.1,1936.4V1953.5M381.5,1940.4h45.3M381.5,1953.3h45.3M381.5,1961h45.3v19.0h-45.3zM399.9,1963V1978M408.1,1963V1978M381.5,1967.0h45.3M381.5,1977.8h45.3M381.5,1993h45.3v16.4h-45.3zM396.2,1997.2H412.1M404.1,1997.2V2009.4M434.2,1934.4h45.3v21.1h-45.3zM452.6,1936.4V1953.5M460.8,1936.4V1953.5M434.2,1940.4h45.3M434.2,1953.3h45.3M434.2,1961h45.3v19.0h-45.3zM452.6,1963V1978M460.8,1963V1978M434.2,1967.0h45.3M434.2,1977.8h45.3M434.2,1993h45.3v16.4h-45.3zM448.9,1997.2H464.8M456.9,1997.2V2009.4" fill="none" stroke="#333" stroke-width="0.55"/>
<path d="M283.5,1934.4h2.2v21.1h-2.2zM311.5,1934.4h2.2v21.1h-2.2zM283.5,1961h2.2v19.0h-2.2zM311.5,1961h2.2v19.0h-2.2zM290.0,1993h1.2v16.4h-1.2zM306.0,1993h1.2v16.4h-1.2zM336.3,1934.4h2.2v21.1h-2.2zM364.3,1934.4h2.2v21.1h-2.2zM336.3,1961h2.2v19.0h-2.2zM364.3,1961h2.2v19.0h-2.2zM342.8,1993h1.2v16.4h-1.2zM358.8,1993h1.2v16.4h-1.2zM389.0,1934.4h2.2v21.1h-2.2zM417.1,1934.4h2.2v21.1h-2.2zM389.0,1961h2.2v19.0h-2.2zM417.1,1961h2.2v19.0h-2.2zM395.6,1993h1.2v16.4h-1.2zM411.5,1993h1.2v16.4h-1.2zM441.7,1934.4h2.2v21.1h-2.2zM469.8,1934.4h2.2v21.1h-2.2zM441.7,1961h2.2v19.0h-2.2zM469.8,1961h2.2v19.0h-2.2zM448.3,1993h1.2v16.4h-1.2zM464.2,1993h1.2v16.4h-1.2z" fill="#1a1a1a"/>
<path d="M276.0,1935.6h45.2v1.6h-45.2zM276.0,1962.2h45.2v1.6h-45.2zM328.8,1935.6h45.2v1.6h-45.2zM328.8,1962.2h45.2v1.6h-45.2zM381.5,1935.6h45.3v1.6h-45.3zM381.5,1962.2h45.3v1.6h-45.3zM434.2,1935.6h45.3v1.6h-45.3zM434.2,1962.2h45.3v1.6h-45.3z" fill="#222"/>
<path d="M298.6,1997.2L306.6,2004.8L298.6,2012.5L290.6,2004.8ZM351.4,1997.2L359.4,2004.8L351.4,2012.5L343.4,2004.8ZM404.1,1997.2L412.1,2004.8L404.1,2012.5L396.2,2004.8ZM456.9,1997.2L464.8,2004.8L456.9,2012.5L448.9,2004.8Z" fill="none" stroke="#444" stroke-width="0.5"/>
<path d="M269.4,1921.6h5.8V2015.4h-5.8zM322,1921.6h6.0V2015.4h-6.0zM374.8,1921.6h5.9V2015.4h-5.9zM427.6,1921.6h5.8V2015.4h-5.8zM480.3,1921.6h5.9V2015.4h-5.9z" fill="#f2f2f2" stroke="#333" stroke-width="0.6"/>
<path d="M268.6,1917.7h7.4v4h-7.4zM321.2,1917.7h7.6v4h-7.6zM374.0,1917.7h7.5v4h-7.5zM426.8,1917.7h7.4v4h-7.4zM479.5,1917.7h7.5v4h-7.5zM268.8,2008h7.0v7.4h-7.0zM321.4,2008h7.2v7.4h-7.2zM374.2,2008h7.1v7.4h-7.1zM427.0,2008h7.0v7.4h-7.0zM479.7,2008h7.1v7.4h-7.1z" fill="#fff" stroke="#333" stroke-width="0.6"/>
<rect x="271.5" y="1918" width="4" height="3.5" fill="#222"/>
<path d="M268.9,2015.4H486.2" stroke="#333" stroke-width="0.8"/>
<path d="M486.2,1959 L520,1952.8 L554.5,1959 V2015.4 H486.2 Z" fill="#fff" stroke="#333" stroke-width="0.7"/>
<path d="M488.5,1960.5 L520,1954.6 L553,1960.5 M486.2,1962.5H554.5 M486.2,1965H554.5 M486.2,1989.6H554.5 M486.2,1995.5H554.5" stroke="#555" stroke-width="0.55" fill="none"/>
<path d="M495.5,1968.5h11.7v21h-11.7zM499.4,1968.5v21M503.3,1968.5v21M495.5,1975.5h11.7M495.5,1982.5h11.7M513,1968.5h14.0v21h-14.0zM516.5,1968.5v21M520.0,1968.5v21M523.5,1968.5v21M513,1975.5h14.0M513,1982.5h14.0M534.2,1968.5h10.5v21h-10.5zM537.7,1968.5v21M541.2,1968.5v21M534.2,1975.5h10.5M534.2,1982.5h10.5" fill="none" stroke="#111" stroke-width="0.9"/>
<path d="M494.3,1996.5V2013.0M499.6,1996.5V2013.0M504.9,1996.5V2013.0M510.2,1996.5V2013.0M515.5,1996.5V2013.0M520.8,1996.5V2013.0M526.1,1996.5V2013.0M531.4,1996.5V2013.0M536.7,1996.5V2013.0M542.0,1996.5V2013.0M547.3,1996.5V2013.0M489.0,1996.5H553.0M489.0,2013.0H553.0" stroke="#444" stroke-width="0.5" fill="none"/>
<path d="M520.5,1997.0L528.0,2004.5L520.5,2012.0L513.0,2004.5Z" fill="none" stroke="#444" stroke-width="0.5"/>
<rect x="464" y="1997" width="14" height="16" fill="#fff" stroke="#333" stroke-width="0.6"/>
<path d="M471,1997v16M465,1999l5,12M477,1999l-5,12" stroke="#555" stroke-width="0.45"/>
<rect x="555.5" y="1902.3" width="128.9" height="115.5" fill="#fff" stroke="#222" stroke-width="0.9"/>
<rect x="556.5" y="1902.3" width="3.6" height="115.5" fill="#ddd" stroke="#444" stroke-width="0.5"/>
<rect x="560.1" y="1902.3" width="121.5" height="5.2" fill="#aaa" stroke="#555" stroke-width="0.4"/>
<rect x="681.6" y="1902.3" width="2.8" height="26.7" fill="#999"/>
<path d="M568.0,1907.5V2017.8M575.9,1907.5V2017.8M583.8,1907.5V2017.8M591.7,1907.5V2017.8M599.6,1907.5V2017.8M607.5,1907.5V2017.8M615.4,1907.5V2017.8M623.3,1907.5V2017.8M631.2,1907.5V2017.8M639.1,1907.5V2017.8M647.0,1907.5V2017.8M654.9,1907.5V2017.8M662.8,1907.5V2017.8M670.7,1907.5V2017.8M678.6,1907.5V2017.8M560.1,1929.2H684.4M560.1,1931.0H684.4M560.1,1964.4H684.4M560.1,1967.2H684.4M560.1,1982.6H684.4M560.1,1999.5H684.4" stroke="#333" stroke-width="0.7" fill="none"/>
<rect x="600" y="2001" width="13" height="16" fill="#888"/>
<rect x="564" y="2001" width="10" height="16" fill="none" stroke="#333" stroke-width="0.5"/>
<rect x="641.2" y="1930" width="101.3" height="87.8" fill="#fff" stroke="#222" stroke-width="0.9"/>
<rect x="642.5" y="1930" width="3" height="87.8" fill="#ddd" stroke="#444" stroke-width="0.5"/>
<path d="M653.5,1932.0V2017.8M661.6,1932.0V2017.8M669.6,1932.0V2017.8M677.7,1932.0V2017.8M685.7,1932.0V2017.8M693.8,1932.0V2017.8M701.8,1932.0V2017.8M709.9,1932.0V2017.8M717.9,1932.0V2017.8M726.0,1932.0V2017.8M734.0,1932.0V2017.8M645.5,1933.0H742.5M645.5,1960.7H742.5M645.5,1965.8H742.5M645.5,1982.6H742.5M645.5,1984.0H742.5M645.5,1999.5H742.5" stroke="#333" stroke-width="0.7" fill="none"/>
<rect x="690" y="2000" width="22" height="17.8" fill="#fff" stroke="#333" stroke-width="0.6"/>
<path d="M701,2000v17.8M693,2003v14M709,2003v14" stroke="#555" stroke-width="0.45"/>
<rect x="734" y="2000" width="8" height="17" fill="#fff" stroke="#333" stroke-width="0.5"/>
<path d="M734,2000l8,17M742,2000l-8,17" stroke="#555" stroke-width="0.4"/>
<rect x="742.5" y="1945" width="10.4" height="73" fill="#fff" stroke="#333" stroke-width="0.6"/>
<rect x="752.9" y="1945.2" width="39.3" height="50" fill="url(#brick)" stroke="#333" stroke-width="0.7"/>
<rect x="752.9" y="1945.2" width="39.3" height="4.5" fill="#555"/>
<rect x="752.9" y="1949.7" width="39.3" height="1.2" fill="#ccc"/>
<path d="M760.8,1954.5h5.8v11.3h-5.8z M760.8,1960.2h5.8 M763.7,1954.5v11.3M760.8,1974.2h5.8v12.7h-5.8z M760.8,1980.6h5.8 M763.7,1974.2v12.7M779,1954.5h5.8v11.3h-5.8z M779,1960.2h5.8 M781.9,1954.5v11.3M779,1974.2h5.8v12.7h-5.8z M779,1980.6h5.8 M781.9,1974.2v12.7" fill="#fff" stroke="#111" stroke-width="0.6"/>
<rect x="752.9" y="1995.2" width="39.3" height="23" fill="#fff" stroke="#333" stroke-width="0.6"/>
<path d="M757,1997h31v20h-31z M774.0,1997.0L781.0,2007.0L774.0,2017.0L767.0,2007.0Z" fill="none" stroke="#444" stroke-width="0.5"/>
<rect x="793" y="1906" width="101.3" height="113" fill="#fff" stroke="#222" stroke-width="0.8"/>
<rect x="793" y="1906.7" width="101.3" height="4" fill="#ccc" stroke="#444" stroke-width="0.4"/>
<path d="M795.0,1911 l1.6,0 l0,3 l-1.6,0zM797.6,1911 l1.6,0 l0,3 l-1.6,0zM800.2,1911 l1.6,0 l0,3 l-1.6,0zM802.8,1911 l1.6,0 l0,3 l-1.6,0zM805.4,1911 l1.6,0 l0,3 l-1.6,0zM808.0,1911 l1.6,0 l0,3 l-1.6,0zM810.6,1911 l1.6,0 l0,3 l-1.6,0zM813.2,1911 l1.6,0 l0,3 l-1.6,0zM815.8,1911 l1.6,0 l0,3 l-1.6,0zM818.4,1911 l1.6,0 l0,3 l-1.6,0zM821.0,1911 l1.6,0 l0,3 l-1.6,0zM823.6,1911 l1.6,0 l0,3 l-1.6,0zM826.2,1911 l1.6,0 l0,3 l-1.6,0zM828.8,1911 l1.6,0 l0,3 l-1.6,0zM831.4,1911 l1.6,0 l0,3 l-1.6,0zM834.0,1911 l1.6,0 l0,3 l-1.6,0zM836.6,1911 l1.6,0 l0,3 l-1.6,0zM839.2,1911 l1.6,0 l0,3 l-1.6,0zM841.8,1911 l1.6,0 l0,3 l-1.6,0zM844.4,1911 l1.6,0 l0,3 l-1.6,0zM847.0,1911 l1.6,0 l0,3 l-1.6,0zM849.6,1911 l1.6,0 l0,3 l-1.6,0zM852.2,1911 l1.6,0 l0,3 l-1.6,0zM854.8,1911 l1.6,0 l0,3 l-1.6,0zM857.4,1911 l1.6,0 l0,3 l-1.6,0zM860.0,1911 l1.6,0 l0,3 l-1.6,0zM862.6,1911 l1.6,0 l0,3 l-1.6,0zM865.2,1911 l1.6,0 l0,3 l-1.6,0zM867.8,1911 l1.6,0 l0,3 l-1.6,0zM870.4,1911 l1.6,0 l0,3 l-1.6,0zM873.0,1911 l1.6,0 l0,3 l-1.6,0zM875.6,1911 l1.6,0 l0,3 l-1.6,0zM878.2,1911 l1.6,0 l0,3 l-1.6,0zM880.8,1911 l1.6,0 l0,3 l-1.6,0zM883.4,1911 l1.6,0 l0,3 l-1.6,0zM886.0,1911 l1.6,0 l0,3 l-1.6,0zM888.6,1911 l1.6,0 l0,3 l-1.6,0zM891.2,1911 l1.6,0 l0,3 l-1.6,0z" fill="#333"/>
<path d="M794.0,1918.5 q1.6,-4 3.2,0M797.2,1918.5 q1.6,-4 3.2,0M800.4,1918.5 q1.6,-4 3.2,0M803.6,1918.5 q1.6,-4 3.2,0M806.8,1918.5 q1.6,-4 3.2,0M810.0,1918.5 q1.6,-4 3.2,0M813.2,1918.5 q1.6,-4 3.2,0M816.4,1918.5 q1.6,-4 3.2,0M819.6,1918.5 q1.6,-4 3.2,0M822.8,1918.5 q1.6,-4 3.2,0M826.0,1918.5 q1.6,-4 3.2,0M829.2,1918.5 q1.6,-4 3.2,0M832.4,1918.5 q1.6,-4 3.2,0M835.6,1918.5 q1.6,-4 3.2,0M838.8,1918.5 q1.6,-4 3.2,0M842.0,1918.5 q1.6,-4 3.2,0M845.2,1918.5 q1.6,-4 3.2,0M848.4,1918.5 q1.6,-4 3.2,0M851.6,1918.5 q1.6,-4 3.2,0M854.8,1918.5 q1.6,-4 3.2,0M858.0,1918.5 q1.6,-4 3.2,0M861.2,1918.5 q1.6,-4 3.2,0M864.4,1918.5 q1.6,-4 3.2,0M867.6,1918.5 q1.6,-4 3.2,0M870.8,1918.5 q1.6,-4 3.2,0M874.0,1918.5 q1.6,-4 3.2,0M877.2,1918.5 q1.6,-4 3.2,0M880.4,1918.5 q1.6,-4 3.2,0M883.6,1918.5 q1.6,-4 3.2,0M886.8,1918.5 q1.6,-4 3.2,0M890.0,1918.5 q1.6,-4 3.2,0" fill="none" stroke="#333" stroke-width="0.9"/>
<path d="M793,1919.6H894.3M793,1921H894.3M793,1941H894.3M793,1943H894.3M793,1962H894.3M793,1968H894.3M793,1988H894.3M793,1994H894.3" stroke="#444" stroke-width="0.55"/>
<rect x="793" y="1963.8" width="101.3" height="1.5" fill="#111"/>
<path d="M801.7,1937.6V1926.5a2.78,2.78 0 0 1 5.57,0V1937.6zM809.3,1937.6V1926.5a2.78,2.78 0 0 1 5.57,0V1937.6zM816.8,1937.6V1926.5a2.78,2.78 0 0 1 5.57,0V1937.6zM834.0,1937.6V1926.5a2.57,2.57 0 0 1 5.13,0V1937.6zM841.1,1937.6V1926.5a2.57,2.57 0 0 1 5.13,0V1937.6zM848.3,1937.6V1926.5a2.57,2.57 0 0 1 5.13,0V1937.6zM865.0,1937.6V1926.5a3.00,3.00 0 0 1 6.00,0V1937.6zM873.0,1937.6V1926.5a3.00,3.00 0 0 1 6.00,0V1937.6zM881.0,1937.6V1926.5a3.00,3.00 0 0 1 6.00,0V1937.6z" fill="#fff" stroke="#111" stroke-width="0.8"/>
<path d="M801.7,1946h5.6v13.5h-5.6z M804.5,1946v13.5M801.7,1971.4h5.6v13.2h-5.6z M801.7,1976h5.6M809.3,1946h5.6v13.5h-5.6z M812.0,1946v13.5M809.3,1971.4h5.6v13.2h-5.6z M809.3,1976h5.6M816.8,1946h5.6v13.5h-5.6z M819.6,1946v13.5M816.8,1971.4h5.6v13.2h-5.6z M816.8,1976h5.6M799.7,1996.7h24.7v22h-24.7z M812.0,1996.7v22M834.0,1946h5.1v13.5h-5.1z M836.6,1946v13.5M834.0,1971.4h5.1v13.2h-5.1z M834.0,1976h5.1M841.1,1946h5.1v13.5h-5.1z M843.7,1946v13.5M841.1,1971.4h5.1v13.2h-5.1z M841.1,1976h5.1M848.3,1946h5.1v13.5h-5.1z M850.8,1946v13.5M848.3,1971.4h5.1v13.2h-5.1z M848.3,1976h5.1M832.0,1996.7h23.4v22h-23.4z M843.7,1996.7v22M865.0,1946h6.0v13.5h-6.0z M868.0,1946v13.5M865.0,1971.4h6.0v13.2h-6.0z M865.0,1976h6.0M873.0,1946h6.0v13.5h-6.0z M876.0,1946v13.5M873.0,1971.4h6.0v13.2h-6.0z M873.0,1976h6.0M881.0,1946h6.0v13.5h-6.0z M884.0,1946v13.5M881.0,1971.4h6.0v13.2h-6.0z M881.0,1976h6.0M863.0,1996.7h26.0v22h-26.0z M876.0,1996.7v22" fill="none" stroke="#222" stroke-width="0.6"/>
<path d="M848.0,1997.0L856.0,2007.5L848.0,2018.0L840.0,2007.5Z" fill="none" stroke="#444" stroke-width="0.5"/>
<path d="M794.5,1921h4.2V2019h-4.2zM825.4,1921h5.6V2019h-5.6zM856.4,1921h5.6V2019h-5.6zM890,1921h4.3V2019h-4.3z" fill="#eee" stroke="#333" stroke-width="0.55"/>
<rect x="742.5" y="2021.5" width="142" height="7.5" fill="#fff" stroke="#444" stroke-width="0.5"/>
<path d="M744.0,2021.5v7.5M746.2,2021.5v7.5M748.4,2021.5v7.5M750.6,2021.5v7.5M752.8,2021.5v7.5M755.0,2021.5v7.5M757.2,2021.5v7.5M759.4,2021.5v7.5M761.6,2021.5v7.5M763.8,2021.5v7.5M766.0,2021.5v7.5M768.2,2021.5v7.5M770.4,2021.5v7.5M772.6,2021.5v7.5M774.8,2021.5v7.5M777.0,2021.5v7.5M779.2,2021.5v7.5M781.4,2021.5v7.5M783.6,2021.5v7.5M785.8,2021.5v7.5M788.0,2021.5v7.5M790.2,2021.5v7.5M792.4,2021.5v7.5M794.6,2021.5v7.5M796.8,2021.5v7.5M799.0,2021.5v7.5M801.2,2021.5v7.5M803.4,2021.5v7.5M805.6,2021.5v7.5M807.8,2021.5v7.5M810.0,2021.5v7.5M812.2,2021.5v7.5M814.4,2021.5v7.5M816.6,2021.5v7.5M818.8,2021.5v7.5M821.0,2021.5v7.5M823.2,2021.5v7.5M825.4,2021.5v7.5M827.6,2021.5v7.5M829.8,2021.5v7.5M832.0,2021.5v7.5M834.2,2021.5v7.5M836.4,2021.5v7.5M838.6,2021.5v7.5M840.8,2021.5v7.5M843.0,2021.5v7.5M845.2,2021.5v7.5M847.4,2021.5v7.5M849.6,2021.5v7.5M851.8,2021.5v7.5M854.0,2021.5v7.5M856.2,2021.5v7.5M858.4,2021.5v7.5M860.6,2021.5v7.5M862.8,2021.5v7.5M865.0,2021.5v7.5M867.2,2021.5v7.5M869.4,2021.5v7.5M871.6,2021.5v7.5M873.8,2021.5v7.5M876.0,2021.5v7.5M878.2,2021.5v7.5M880.4,2021.5v7.5M882.6,2021.5v7.5" stroke="#555" stroke-width="0.5"/>
<path d="M269,2017.8H895 M640,2019v10h55v-10 M285,2019v5 M585,2019v8 M520,2019v7" stroke="#555" stroke-width="0.5" fill="none"/>
<rect x="325.6" y="2020" width="30" height="2.6" fill="#fff" stroke="#555" stroke-width="0.5"/>
<rect x="320" y="2022.6" width="41" height="2" fill="#fff" stroke="#555" stroke-width="0.5"/>
<line x1="270" y1="1929.35" x2="959" y2="1929.35" class="dash"/>
<line x1="270" y1="1965.97" x2="959" y2="1965.97" class="dash"/>
<line x1="270" y1="1982.28" x2="959" y2="1982.28" class="dash"/>
<line x1="270" y1="2009.25" x2="959" y2="2009.25" class="dash"/>
<path d="M417.4,2044.1H1043.6M379,2006.4L417.4,2044.1M521.3,1996.6L567.8,2044.1M774,1992.7L824.8,2044.1M846.7,2020L871.3,2044.1" stroke="#555" stroke-width="0.7" fill="none"/>
<path d="M379,2006.4L381.4,2011.0L383.7,2008.8ZM521.3,1996.6L523.7,2001.3L525.9,1999.1ZM774,1992.7L776.4,1997.4L778.7,1995.1ZM846.7,2020L849.2,2024.6L851.4,2022.4Z" fill="#111"/>
<g id="hm">
<line x1="811" y1="18.5" x2="1015" y2="18.5" class="thin"/>
<g transform="translate(920.3,18.5)"><circle r="5.8" class="mk"/><line x1="0" y1="-11.8" x2="0" y2="11.8" class="thin"/><path d="M0,0 L-5.8,0 A5.8,5.8 0 0 1 0,-5.8 Z M0,0 L5.8,0 A5.8,5.8 0 0 1 0,5.8 Z" fill="#000"/></g>
<text x="944.4" y="16.3" class="t14" textLength="69.4" lengthAdjust="spacingAndGlyphs">299 000 M</text>
<line x1="265.5" y1="351.46" x2="484" y2="351.46" class="thin"/>
<g transform="translate(277.3,351.46)"><circle r="5.8" class="mk"/><line x1="0" y1="-11.8" x2="0" y2="11.8" class="thin"/><path d="M0,0 L-5.8,0 A5.8,5.8 0 0 1 0,-5.8 Z M0,0 L5.8,0 A5.8,5.8 0 0 1 0,5.8 Z" fill="#000"/></g>
<text x="301" y="349.16" class="t14" textLength="69.4" lengthAdjust="spacingAndGlyphs">248 978 M</text>
<line x1="265.5" y1="1471.87" x2="340" y2="1471.87" class="thin"/>
<g transform="translate(277.3,1471.87)"><circle r="5.8" class="mk"/><line x1="0" y1="-11.8" x2="0" y2="11.8" class="thin"/><path d="M0,0 L-5.8,0 A5.8,5.8 0 0 1 0,-5.8 Z M0,0 L5.8,0 A5.8,5.8 0 0 1 0,5.8 Z" fill="#000"/></g>
<text x="301.5" y="1469.57" class="t14" textLength="60" lengthAdjust="spacingAndGlyphs">80 707 M</text>
<line x1="894" y1="1905.78" x2="1050" y2="1905.78" class="thin"/>
<g transform="translate(920,1905.78)"><circle r="5.8" class="mk"/><line x1="0" y1="-11.8" x2="0" y2="11.8" class="thin"/><path d="M0,0 L-5.8,0 A5.8,5.8 0 0 1 0,-5.8 Z M0,0 L5.8,0 A5.8,5.8 0 0 1 0,5.8 Z" fill="#000"/></g>
<text x="945.6" y="1903.18" class="t14" textLength="58.4" lengthAdjust="spacingAndGlyphs">15 540 M</text>
</g>
<g id="ann">
<line x1="868" y1="1754.2" x2="1108.6" y2="1754.2" class="thin"/>
<text x="1113.4" y="1757.3" class="t8" textLength="120.3" lengthAdjust="spacingAndGlyphs">MECHANICAL LOUVER SCREEN</text>
<line x1="876" y1="1832.5" x2="1108.6" y2="1832.5" class="thin"/>
<text x="1113.4" y="1835.8" class="t8">CURTAIN WALL</text>
<polyline points="880,1893 902,1868.4 1108.6,1868.4" class="thin" fill="none"/>
<text x="1113.4" y="1871.7" class="t8">GREEN ROOF</text>
<text x="1113.4" y="1917.0" class="t8">GLASS TO BE TREATED</text>
<text x="1113.4" y="1927.5" class="t8">WITH VISUAL MARKERS</text>
<text x="1113.4" y="1938.0" class="t8">AS PER BIRD FRIENDLY</text>
<text x="1113.4" y="1948.5" class="t8">REQUIREMENTS UP TO 12M</text>
<text x="1113.4" y="1959.0" class="t8">ABOVE GRADE</text>
<text x="1113.4" y="1969.5" class="t8">OR 4M ABOVE GREEN ROOF TERRACES</text>
<polyline points="903.4,1910 903.4,1946.6 1108.6,1946.6" class="thin" fill="none"/>
<path d="M903.4,1906.5 L901.3,1913 L905.5,1913 Z" fill="#000"/>
<line x1="956.6" y1="1879.15" x2="1050" y2="1879.15" class="thin"/>
<line x1="1043" y1="1881.75" x2="1048.2" y2="1876.55" class="thin"/>
<line x1="956.6" y1="1905.78" x2="1050" y2="1905.78" class="thin"/>
<line x1="1043" y1="1908.38" x2="1048.2" y2="1903.18" class="thin"/>
<line x1="956.6" y1="1929.35" x2="1050" y2="1929.35" class="thin"/>
<line x1="1043" y1="1931.95" x2="1048.2" y2="1926.75" class="thin"/>
<line x1="956.6" y1="2009.25" x2="1050" y2="2009.25" class="thin"/>
<line x1="1043" y1="2011.85" x2="1048.2" y2="2006.65" class="thin"/>
<line x1="1045.6" y1="1876.15" x2="1045.6" y2="1908.78" class="thin"/>
<line x1="1045.6" y1="1926.35" x2="1045.6" y2="2012.25" class="thin"/>
<text transform="translate(1035.6,1892.46) rotate(-90)" class="t14 m">4 000</text>
<text transform="translate(1042.5,1969.30) rotate(-90)" class="t14 m">12 000</text>
<line x1="835" y1="2044.4" x2="1043" y2="2044.4" class="thin"/>
<text x="1048" y="2047.2" class="t8" textLength="114.8" lengthAdjust="spacingAndGlyphs">EXISTING HERITAGE FACADES</text>
</g>
<g id="title">
<circle cx="40" cy="2114.7" r="32" fill="none" stroke="#999" stroke-width="0.8"/>
<text x="39.5" y="2132" font-size="45" text-anchor="middle" style="stroke-width:0">1</text>
<line x1="72" y1="2115.5" x2="483.6" y2="2115.5" stroke="#aaa" stroke-width="0.8"/>
<text x="96.5" y="2107.2" class="tt" font-size="32.6" textLength="266" lengthAdjust="spacingAndGlyphs">WEST ELEVATION</text>
<text x="97" y="2129.6" font-size="13.4" style="stroke-width:0.3px" textLength="86" lengthAdjust="spacingAndGlyphs">SCALE: 1:600</text>
</g></svg></body></html>
